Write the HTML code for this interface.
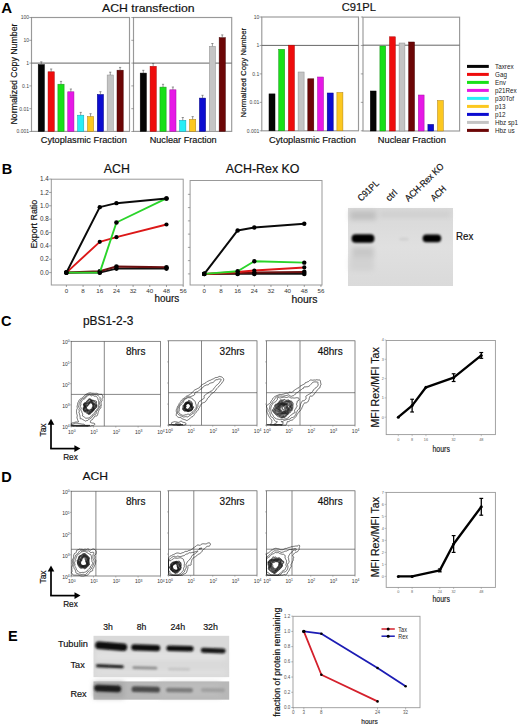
<!DOCTYPE html>
<html><head><meta charset="utf-8"><title>Figure</title>
<style>html,body{margin:0;padding:0;background:#fff;} svg{display:block;} text{font-family:"Liberation Sans", sans-serif;}</style>
</head><body>
<svg width="520" height="726" viewBox="0 0 520 726">
<rect x="0" y="0" width="520" height="726" fill="#fff"/>
<text x="1.2" y="12.6" font-size="15" fill="#000" font-weight="bold" >A</text>
<text x="102" y="11.5" font-size="11.3" fill="#111" stroke="#111" stroke-width="0.18" textLength="92.5" lengthAdjust="spacingAndGlyphs" >ACH transfection</text>
<text x="341.8" y="11.3" font-size="11.3" fill="#111" stroke="#111" stroke-width="0.18" textLength="34.2" lengthAdjust="spacingAndGlyphs" >C91PL</text>
<rect x="31.5" y="17.5" width="98" height="113.9" fill="none" stroke="#999999" stroke-width="1.15" />
<line x1="31.5" y1="63.1" x2="129.5" y2="63.1" stroke="#666" stroke-width="1" />
<line x1="29.3" y1="17.5" x2="31.5" y2="17.5" stroke="#666" stroke-width="0.6" />
<line x1="29.3" y1="40.3" x2="31.5" y2="40.3" stroke="#666" stroke-width="0.6" />
<line x1="29.3" y1="63.1" x2="31.5" y2="63.1" stroke="#666" stroke-width="0.6" />
<line x1="29.3" y1="85.9" x2="31.5" y2="85.9" stroke="#666" stroke-width="0.6" />
<line x1="29.3" y1="108.7" x2="31.5" y2="108.7" stroke="#666" stroke-width="0.6" />
<line x1="29.3" y1="131.5" x2="31.5" y2="131.5" stroke="#666" stroke-width="0.6" />
<rect x="38.2" y="64.6" width="6.2" height="66.8" fill="#050505" stroke="#000" stroke-width="0.5" />
<line x1="41.3" y1="64.6" x2="41.3" y2="61.8" stroke="#555" stroke-width="0.6" />
<line x1="40.2" y1="61.8" x2="42.4" y2="61.8" stroke="#555" stroke-width="0.6" />
<rect x="48.05" y="71.8" width="6.2" height="59.6" fill="#ee0c0c" stroke="#a00" stroke-width="0.5" />
<line x1="51.15" y1="71.8" x2="51.15" y2="69" stroke="#555" stroke-width="0.6" />
<line x1="50.05" y1="69" x2="52.25" y2="69" stroke="#555" stroke-width="0.6" />
<rect x="57.9" y="84.2" width="6.2" height="47.2" fill="#18e018" stroke="#189018" stroke-width="0.5" />
<line x1="61" y1="84.2" x2="61" y2="81.4" stroke="#555" stroke-width="0.6" />
<line x1="59.9" y1="81.4" x2="62.1" y2="81.4" stroke="#555" stroke-width="0.6" />
<rect x="67.75" y="91.8" width="6.2" height="39.6" fill="#e618e6" stroke="#a010a0" stroke-width="0.5" />
<line x1="70.85" y1="91.8" x2="70.85" y2="89" stroke="#555" stroke-width="0.6" />
<line x1="69.75" y1="89" x2="71.95" y2="89" stroke="#555" stroke-width="0.6" />
<rect x="77.6" y="115.2" width="6.2" height="16.2" fill="#28eef6" stroke="#10a0b0" stroke-width="0.5" />
<line x1="80.7" y1="115.2" x2="80.7" y2="112.4" stroke="#555" stroke-width="0.6" />
<line x1="79.6" y1="112.4" x2="81.8" y2="112.4" stroke="#555" stroke-width="0.6" />
<rect x="87.45" y="116.5" width="6.2" height="14.9" fill="#fcc820" stroke="#b08010" stroke-width="0.5" />
<line x1="90.55" y1="116.5" x2="90.55" y2="113.7" stroke="#555" stroke-width="0.6" />
<line x1="89.45" y1="113.7" x2="91.65" y2="113.7" stroke="#555" stroke-width="0.6" />
<rect x="97.3" y="94.5" width="6.2" height="36.9" fill="#0c0cd0" stroke="#000080" stroke-width="0.5" />
<line x1="100.4" y1="94.5" x2="100.4" y2="91.7" stroke="#555" stroke-width="0.6" />
<line x1="99.3" y1="91.7" x2="101.5" y2="91.7" stroke="#555" stroke-width="0.6" />
<rect x="107.15" y="75" width="6.2" height="56.4" fill="#c4c4c4" stroke="#909090" stroke-width="0.5" />
<line x1="110.25" y1="75" x2="110.25" y2="72.2" stroke="#555" stroke-width="0.6" />
<line x1="109.15" y1="72.2" x2="111.35" y2="72.2" stroke="#555" stroke-width="0.6" />
<rect x="117" y="70.2" width="6.2" height="61.2" fill="#6c0606" stroke="#400" stroke-width="0.5" />
<line x1="120.1" y1="70.2" x2="120.1" y2="67.4" stroke="#555" stroke-width="0.6" />
<line x1="119" y1="67.4" x2="121.2" y2="67.4" stroke="#555" stroke-width="0.6" />
<rect x="133.5" y="17.5" width="98.2" height="113.9" fill="none" stroke="#999999" stroke-width="1.15" />
<line x1="133.5" y1="63.1" x2="231.7" y2="63.1" stroke="#666" stroke-width="1" />
<line x1="131.3" y1="17.5" x2="133.5" y2="17.5" stroke="#666" stroke-width="0.6" />
<line x1="131.3" y1="40.3" x2="133.5" y2="40.3" stroke="#666" stroke-width="0.6" />
<line x1="131.3" y1="63.1" x2="133.5" y2="63.1" stroke="#666" stroke-width="0.6" />
<line x1="131.3" y1="85.9" x2="133.5" y2="85.9" stroke="#666" stroke-width="0.6" />
<line x1="131.3" y1="108.7" x2="133.5" y2="108.7" stroke="#666" stroke-width="0.6" />
<line x1="131.3" y1="131.5" x2="133.5" y2="131.5" stroke="#666" stroke-width="0.6" />
<rect x="140.2" y="73.1" width="6.2" height="58.3" fill="#050505" stroke="#000" stroke-width="0.5" />
<line x1="143.3" y1="73.1" x2="143.3" y2="70.3" stroke="#555" stroke-width="0.6" />
<line x1="142.2" y1="70.3" x2="144.4" y2="70.3" stroke="#555" stroke-width="0.6" />
<rect x="150.07" y="66.3" width="6.2" height="65.1" fill="#ee0c0c" stroke="#a00" stroke-width="0.5" />
<line x1="153.17" y1="66.3" x2="153.17" y2="63.5" stroke="#555" stroke-width="0.6" />
<line x1="152.07" y1="63.5" x2="154.27" y2="63.5" stroke="#555" stroke-width="0.6" />
<rect x="159.94" y="87.1" width="6.2" height="44.3" fill="#18e018" stroke="#189018" stroke-width="0.5" />
<line x1="163.04" y1="87.1" x2="163.04" y2="84.3" stroke="#555" stroke-width="0.6" />
<line x1="161.94" y1="84.3" x2="164.14" y2="84.3" stroke="#555" stroke-width="0.6" />
<rect x="169.81" y="89.8" width="6.2" height="41.6" fill="#e618e6" stroke="#a010a0" stroke-width="0.5" />
<line x1="172.91" y1="89.8" x2="172.91" y2="87" stroke="#555" stroke-width="0.6" />
<line x1="171.81" y1="87" x2="174.01" y2="87" stroke="#555" stroke-width="0.6" />
<rect x="179.68" y="120.3" width="6.2" height="11.1" fill="#28eef6" stroke="#10a0b0" stroke-width="0.5" />
<line x1="182.78" y1="120.3" x2="182.78" y2="117.5" stroke="#555" stroke-width="0.6" />
<line x1="181.68" y1="117.5" x2="183.88" y2="117.5" stroke="#555" stroke-width="0.6" />
<rect x="189.55" y="119.4" width="6.2" height="12" fill="#fcc820" stroke="#b08010" stroke-width="0.5" />
<line x1="192.65" y1="119.4" x2="192.65" y2="116.6" stroke="#555" stroke-width="0.6" />
<line x1="191.55" y1="116.6" x2="193.75" y2="116.6" stroke="#555" stroke-width="0.6" />
<rect x="199.42" y="98.1" width="6.2" height="33.3" fill="#0c0cd0" stroke="#000080" stroke-width="0.5" />
<line x1="202.52" y1="98.1" x2="202.52" y2="95.3" stroke="#555" stroke-width="0.6" />
<line x1="201.42" y1="95.3" x2="203.62" y2="95.3" stroke="#555" stroke-width="0.6" />
<rect x="209.29" y="46.3" width="6.2" height="85.1" fill="#c4c4c4" stroke="#909090" stroke-width="0.5" />
<line x1="212.39" y1="46.3" x2="212.39" y2="43.5" stroke="#555" stroke-width="0.6" />
<line x1="211.29" y1="43.5" x2="213.49" y2="43.5" stroke="#555" stroke-width="0.6" />
<rect x="219.16" y="37.7" width="6.2" height="93.7" fill="#6c0606" stroke="#400" stroke-width="0.5" />
<line x1="222.26" y1="37.7" x2="222.26" y2="34.9" stroke="#555" stroke-width="0.6" />
<line x1="221.16" y1="34.9" x2="223.36" y2="34.9" stroke="#555" stroke-width="0.6" />
<text x="29" y="19.3" font-size="5" fill="#444" text-anchor="end" >100</text>
<text x="29" y="42.1" font-size="5" fill="#444" text-anchor="end" >10</text>
<text x="29" y="64.9" font-size="5" fill="#444" text-anchor="end" >1</text>
<text x="29" y="87.7" font-size="5" fill="#444" text-anchor="end" >0.1</text>
<text x="29" y="110.5" font-size="5" fill="#444" text-anchor="end" >0.01</text>
<text x="29" y="133.3" font-size="5" fill="#444" text-anchor="end" >0.001</text>
<rect x="261.8" y="17" width="96.7" height="113.8" fill="none" stroke="#999999" stroke-width="1.15" />
<line x1="261.8" y1="45.4" x2="358.5" y2="45.4" stroke="#666" stroke-width="1" />
<line x1="259.6" y1="17" x2="261.8" y2="17" stroke="#666" stroke-width="0.6" />
<line x1="259.6" y1="45.45" x2="261.8" y2="45.45" stroke="#666" stroke-width="0.6" />
<line x1="259.6" y1="73.9" x2="261.8" y2="73.9" stroke="#666" stroke-width="0.6" />
<line x1="259.6" y1="102.35" x2="261.8" y2="102.35" stroke="#666" stroke-width="0.6" />
<line x1="259.6" y1="130.8" x2="261.8" y2="130.8" stroke="#666" stroke-width="0.6" />
<rect x="269" y="93.9" width="6" height="36.9" fill="#050505" stroke="#000" stroke-width="0.5" />
<rect x="278.7" y="49.3" width="6" height="81.5" fill="#18e018" stroke="#189018" stroke-width="0.5" />
<rect x="288.4" y="45.2" width="6" height="85.6" fill="#ee0c0c" stroke="#a00" stroke-width="0.5" />
<rect x="298.1" y="72" width="6" height="58.8" fill="#c4c4c4" stroke="#909090" stroke-width="0.5" />
<rect x="307.8" y="78.8" width="6" height="52" fill="#6c0606" stroke="#400" stroke-width="0.5" />
<rect x="317.5" y="77" width="6" height="53.8" fill="#e618e6" stroke="#a010a0" stroke-width="0.5" />
<rect x="327.2" y="93" width="6" height="37.8" fill="#0c0cd0" stroke="#000080" stroke-width="0.5" />
<rect x="336.9" y="92.5" width="6" height="38.3" fill="#fcc820" stroke="#b08010" stroke-width="0.5" />
<rect x="363" y="17.2" width="96.6" height="113.8" fill="none" stroke="#999999" stroke-width="1.15" />
<line x1="363" y1="45.2" x2="459.6" y2="45.2" stroke="#666" stroke-width="1" />
<line x1="360.8" y1="17" x2="363" y2="17" stroke="#666" stroke-width="0.6" />
<line x1="360.8" y1="45.45" x2="363" y2="45.45" stroke="#666" stroke-width="0.6" />
<line x1="360.8" y1="73.9" x2="363" y2="73.9" stroke="#666" stroke-width="0.6" />
<line x1="360.8" y1="102.35" x2="363" y2="102.35" stroke="#666" stroke-width="0.6" />
<line x1="360.8" y1="130.8" x2="363" y2="130.8" stroke="#666" stroke-width="0.6" />
<rect x="370.3" y="91" width="5.8" height="40" fill="#050505" stroke="#000" stroke-width="0.5" />
<rect x="379.9" y="46" width="5.8" height="85" fill="#18e018" stroke="#189018" stroke-width="0.5" />
<rect x="389.5" y="36.8" width="5.8" height="94.2" fill="#ee0c0c" stroke="#a00" stroke-width="0.5" />
<rect x="399.1" y="43" width="5.8" height="88" fill="#c4c4c4" stroke="#909090" stroke-width="0.5" />
<rect x="408.7" y="42" width="5.8" height="89" fill="#6c0606" stroke="#400" stroke-width="0.5" />
<rect x="418.3" y="95" width="5.8" height="36" fill="#e618e6" stroke="#a010a0" stroke-width="0.5" />
<rect x="427.9" y="124.4" width="5.8" height="6.6" fill="#0c0cd0" stroke="#000080" stroke-width="0.5" />
<rect x="437.5" y="100.5" width="5.8" height="30.5" fill="#fcc820" stroke="#b08010" stroke-width="0.5" />
<text x="259.3" y="18.8" font-size="5" fill="#444" text-anchor="end" >10</text>
<text x="259.3" y="47.25" font-size="5" fill="#444" text-anchor="end" >1</text>
<text x="259.3" y="75.7" font-size="5" fill="#444" text-anchor="end" >0.1</text>
<text x="259.3" y="104.15" font-size="5" fill="#444" text-anchor="end" >0.01</text>
<text x="259.3" y="132.6" font-size="5" fill="#444" text-anchor="end" >0.001</text>
<text x="40.8" y="143.3" font-size="9.3" fill="#111" stroke="#111" stroke-width="0.18" textLength="86" lengthAdjust="spacingAndGlyphs" >Cytoplasmic Fraction</text>
<text x="149.7" y="143.3" font-size="9.3" fill="#111" stroke="#111" stroke-width="0.18" textLength="67" lengthAdjust="spacingAndGlyphs" >Nuclear Fraction</text>
<text x="269" y="143.3" font-size="9.3" fill="#111" stroke="#111" stroke-width="0.18" textLength="86.8" lengthAdjust="spacingAndGlyphs" >Cytoplasmic Fraction</text>
<text x="377.8" y="143.3" font-size="9.3" fill="#111" stroke="#111" stroke-width="0.18" textLength="68" lengthAdjust="spacingAndGlyphs" >Nuclear Fraction</text>
<text transform="translate(17.1,74) rotate(-90)" font-size="9.1" fill="#111" stroke="#111" stroke-width="0.18" text-anchor="middle" textLength="101" lengthAdjust="spacingAndGlyphs" >Normalized Copy Number</text>
<text transform="translate(246.4,72.7) rotate(-90)" font-size="7.6" fill="#111" stroke="#111" stroke-width="0.18" text-anchor="middle" textLength="89.6" lengthAdjust="spacingAndGlyphs" >Normalized Copy Number</text>
<rect x="467" y="64.9" width="21.8" height="3" fill="#050505" />
<text x="495" y="68.6" font-size="6.3" fill="#222" >Taxrex</text>
<rect x="467" y="72.9" width="21.8" height="3" fill="#ee0c0c" />
<text x="495" y="76.6" font-size="6.3" fill="#222" >Gag</text>
<rect x="467" y="80.9" width="21.8" height="3" fill="#18e018" />
<text x="495" y="84.6" font-size="6.3" fill="#222" >Env</text>
<rect x="467" y="88.9" width="21.8" height="3" fill="#e618e6" />
<text x="495" y="92.6" font-size="6.3" fill="#222" >p21Rex</text>
<rect x="467" y="96.9" width="21.8" height="3" fill="#28eef6" />
<text x="495" y="100.6" font-size="6.3" fill="#222" >p30Tof</text>
<rect x="467" y="104.9" width="21.8" height="3" fill="#fcc820" />
<text x="495" y="108.6" font-size="6.3" fill="#222" >p13</text>
<rect x="467" y="112.9" width="21.8" height="3" fill="#0c0cd0" />
<text x="495" y="116.6" font-size="6.3" fill="#222" >p12</text>
<rect x="467" y="120.9" width="21.8" height="3" fill="#c4c4c4" />
<text x="495" y="124.6" font-size="6.3" fill="#222" >Hbz sp1</text>
<rect x="467" y="128.9" width="21.8" height="3" fill="#6c0606" />
<text x="495" y="132.6" font-size="6.3" fill="#222" >Hbz us</text>
<text x="1.8" y="173.8" font-size="14.5" fill="#000" font-weight="bold" >B</text>
<text x="103.8" y="172.6" font-size="12" fill="#111" stroke="#111" stroke-width="0.18" textLength="26" lengthAdjust="spacingAndGlyphs" >ACH</text>
<text x="225.8" y="172.6" font-size="12" fill="#111" stroke="#111" stroke-width="0.18" textLength="73.7" lengthAdjust="spacingAndGlyphs" >ACH-Rex KO</text>
<rect x="51.3" y="179.2" width="131.9" height="105.8" fill="none" stroke="#999999" stroke-width="1" />
<line x1="49.1" y1="179.08" x2="51.3" y2="179.08" stroke="#666" stroke-width="0.6" />
<text x="48.7" y="181.28" font-size="6.3" fill="#333" text-anchor="end" >1.4</text>
<line x1="49.1" y1="192.44" x2="51.3" y2="192.44" stroke="#666" stroke-width="0.6" />
<text x="48.7" y="194.64" font-size="6.3" fill="#333" text-anchor="end" >1.2</text>
<line x1="49.1" y1="205.8" x2="51.3" y2="205.8" stroke="#666" stroke-width="0.6" />
<text x="48.7" y="208" font-size="6.3" fill="#333" text-anchor="end" >1.0</text>
<line x1="49.1" y1="219.16" x2="51.3" y2="219.16" stroke="#666" stroke-width="0.6" />
<text x="48.7" y="221.36" font-size="6.3" fill="#333" text-anchor="end" >0.8</text>
<line x1="49.1" y1="232.52" x2="51.3" y2="232.52" stroke="#666" stroke-width="0.6" />
<text x="48.7" y="234.72" font-size="6.3" fill="#333" text-anchor="end" >0.6</text>
<line x1="49.1" y1="245.88" x2="51.3" y2="245.88" stroke="#666" stroke-width="0.6" />
<text x="48.7" y="248.08" font-size="6.3" fill="#333" text-anchor="end" >0.4</text>
<line x1="49.1" y1="259.24" x2="51.3" y2="259.24" stroke="#666" stroke-width="0.6" />
<text x="48.7" y="261.44" font-size="6.3" fill="#333" text-anchor="end" >0.2</text>
<line x1="49.1" y1="272.6" x2="51.3" y2="272.6" stroke="#666" stroke-width="0.6" />
<text x="48.7" y="274.8" font-size="6.3" fill="#333" text-anchor="end" >0.0</text>
<line x1="66.4" y1="285" x2="66.4" y2="287" stroke="#666" stroke-width="0.6" />
<text x="66.4" y="293.2" font-size="6.2" fill="#333" text-anchor="middle" >0</text>
<line x1="83.08" y1="285" x2="83.08" y2="287" stroke="#666" stroke-width="0.6" />
<text x="83.08" y="293.2" font-size="6.2" fill="#333" text-anchor="middle" >8</text>
<line x1="99.76" y1="285" x2="99.76" y2="287" stroke="#666" stroke-width="0.6" />
<text x="99.76" y="293.2" font-size="6.2" fill="#333" text-anchor="middle" >16</text>
<line x1="116.44" y1="285" x2="116.44" y2="287" stroke="#666" stroke-width="0.6" />
<text x="116.44" y="293.2" font-size="6.2" fill="#333" text-anchor="middle" >24</text>
<line x1="133.12" y1="285" x2="133.12" y2="287" stroke="#666" stroke-width="0.6" />
<text x="133.12" y="293.2" font-size="6.2" fill="#333" text-anchor="middle" >32</text>
<line x1="149.8" y1="285" x2="149.8" y2="287" stroke="#666" stroke-width="0.6" />
<text x="149.8" y="293.2" font-size="6.2" fill="#333" text-anchor="middle" >40</text>
<line x1="166.48" y1="285" x2="166.48" y2="287" stroke="#666" stroke-width="0.6" />
<text x="166.48" y="293.2" font-size="6.2" fill="#333" text-anchor="middle" >48</text>
<line x1="183.16" y1="285" x2="183.16" y2="287" stroke="#666" stroke-width="0.6" />
<text x="183.16" y="293.2" font-size="6.2" fill="#333" text-anchor="middle" >56</text>
<polyline points="66.4,272.6 99.76,272.6 116.44,268.59 166.48,268.59" fill="none" stroke="#111" stroke-width="1.7" stroke-linejoin="round" />
<circle cx="66.4" cy="272.6" r="2.3" fill="#000"/>
<circle cx="99.76" cy="272.6" r="2.3" fill="#000"/>
<circle cx="116.44" cy="268.59" r="2.3" fill="#000"/>
<circle cx="166.48" cy="268.59" r="2.3" fill="#000"/>
<polyline points="66.4,272.6 99.76,271.26 116.44,266.59 166.48,267.26" fill="none" stroke="#6a1010" stroke-width="2.1" stroke-linejoin="round" />
<circle cx="66.4" cy="272.6" r="2.3" fill="#000"/>
<circle cx="99.76" cy="271.26" r="2.3" fill="#000"/>
<circle cx="116.44" cy="266.59" r="2.3" fill="#000"/>
<circle cx="166.48" cy="267.26" r="2.3" fill="#000"/>
<polyline points="66.4,272.6 99.76,241.87 116.44,237.2 166.48,224.5" fill="none" stroke="#dc1818" stroke-width="1.9" stroke-linejoin="round" />
<circle cx="66.4" cy="272.6" r="2.1" fill="#000"/>
<circle cx="99.76" cy="241.87" r="2.1" fill="#000"/>
<circle cx="116.44" cy="237.2" r="2.1" fill="#000"/>
<circle cx="166.48" cy="224.5" r="2.1" fill="#000"/>
<polyline points="66.4,272.6 99.76,272.6 116.44,222.5 166.48,198.45" fill="none" stroke="#2ad42a" stroke-width="1.9" stroke-linejoin="round" />
<circle cx="66.4" cy="272.6" r="2.3" fill="#000"/>
<circle cx="99.76" cy="272.6" r="2.3" fill="#000"/>
<circle cx="116.44" cy="222.5" r="2.3" fill="#000"/>
<circle cx="166.48" cy="198.45" r="2.3" fill="#000"/>
<polyline points="66.4,272.6 99.76,207.14 116.44,203.13 166.48,198.45" fill="none" stroke="#0a0a0a" stroke-width="2" stroke-linejoin="round" />
<circle cx="66.4" cy="272.6" r="2.2" fill="#000"/>
<circle cx="99.76" cy="207.14" r="2.2" fill="#000"/>
<circle cx="116.44" cy="203.13" r="2.2" fill="#000"/>
<circle cx="166.48" cy="198.45" r="2.2" fill="#000"/>
<text x="154.4" y="302.4" font-size="10" fill="#111" stroke="#111" stroke-width="0.18" textLength="24.8" lengthAdjust="spacingAndGlyphs" >hours</text>
<text transform="translate(36.8,224.2) rotate(-90)" font-size="9.8" fill="#111" stroke="#111" stroke-width="0.18" text-anchor="middle" textLength="48.7" lengthAdjust="spacingAndGlyphs" >Export Ratio</text>
<rect x="190.1" y="180.5" width="131.9" height="104.5" fill="none" stroke="#999999" stroke-width="1" />
<line x1="187.9" y1="194.34" x2="190.1" y2="194.34" stroke="#666" stroke-width="0.6" />
<line x1="187.9" y1="207.6" x2="190.1" y2="207.6" stroke="#666" stroke-width="0.6" />
<line x1="187.9" y1="220.86" x2="190.1" y2="220.86" stroke="#666" stroke-width="0.6" />
<line x1="187.9" y1="234.12" x2="190.1" y2="234.12" stroke="#666" stroke-width="0.6" />
<line x1="187.9" y1="247.38" x2="190.1" y2="247.38" stroke="#666" stroke-width="0.6" />
<line x1="187.9" y1="260.64" x2="190.1" y2="260.64" stroke="#666" stroke-width="0.6" />
<line x1="187.9" y1="273.9" x2="190.1" y2="273.9" stroke="#666" stroke-width="0.6" />
<line x1="204.3" y1="285" x2="204.3" y2="287" stroke="#666" stroke-width="0.6" />
<text x="204.3" y="293.2" font-size="6.2" fill="#333" text-anchor="middle" >0</text>
<line x1="220.96" y1="285" x2="220.96" y2="287" stroke="#666" stroke-width="0.6" />
<text x="220.96" y="293.2" font-size="6.2" fill="#333" text-anchor="middle" >8</text>
<line x1="237.63" y1="285" x2="237.63" y2="287" stroke="#666" stroke-width="0.6" />
<text x="237.63" y="293.2" font-size="6.2" fill="#333" text-anchor="middle" >16</text>
<line x1="254.29" y1="285" x2="254.29" y2="287" stroke="#666" stroke-width="0.6" />
<text x="254.29" y="293.2" font-size="6.2" fill="#333" text-anchor="middle" >24</text>
<line x1="270.96" y1="285" x2="270.96" y2="287" stroke="#666" stroke-width="0.6" />
<text x="270.96" y="293.2" font-size="6.2" fill="#333" text-anchor="middle" >32</text>
<line x1="287.62" y1="285" x2="287.62" y2="287" stroke="#666" stroke-width="0.6" />
<text x="287.62" y="293.2" font-size="6.2" fill="#333" text-anchor="middle" >40</text>
<line x1="304.28" y1="285" x2="304.28" y2="287" stroke="#666" stroke-width="0.6" />
<text x="304.28" y="293.2" font-size="6.2" fill="#333" text-anchor="middle" >48</text>
<line x1="320.95" y1="285" x2="320.95" y2="287" stroke="#666" stroke-width="0.6" />
<text x="320.95" y="293.2" font-size="6.2" fill="#333" text-anchor="middle" >56</text>
<polyline points="204.3,273.9 237.63,273.9 254.29,273.9 304.28,273.9" fill="none" stroke="#111" stroke-width="1.7" stroke-linejoin="round" />
<circle cx="204.3" cy="273.9" r="2.3" fill="#000"/>
<circle cx="237.63" cy="273.9" r="2.3" fill="#000"/>
<circle cx="254.29" cy="273.9" r="2.3" fill="#000"/>
<circle cx="304.28" cy="273.9" r="2.3" fill="#000"/>
<polyline points="204.3,273.9 237.63,273.24 254.29,272.57 304.28,271.91" fill="none" stroke="#6a1010" stroke-width="2" stroke-linejoin="round" />
<circle cx="204.3" cy="273.9" r="2.3" fill="#000"/>
<circle cx="237.63" cy="273.24" r="2.3" fill="#000"/>
<circle cx="254.29" cy="272.57" r="2.3" fill="#000"/>
<circle cx="304.28" cy="271.91" r="2.3" fill="#000"/>
<polyline points="204.3,273.9 237.63,271.91 254.29,270.58 304.28,267.47" fill="none" stroke="#dc1818" stroke-width="2" stroke-linejoin="round" />
<circle cx="204.3" cy="273.9" r="2.1" fill="#000"/>
<circle cx="237.63" cy="271.91" r="2.1" fill="#000"/>
<circle cx="254.29" cy="270.58" r="2.1" fill="#000"/>
<circle cx="304.28" cy="267.47" r="2.1" fill="#000"/>
<polyline points="204.3,273.9 237.63,271.25 254.29,261.3 304.28,262.63" fill="none" stroke="#2ad42a" stroke-width="1.9" stroke-linejoin="round" />
<circle cx="204.3" cy="273.9" r="2.2" fill="#000"/>
<circle cx="237.63" cy="271.25" r="2.2" fill="#000"/>
<circle cx="254.29" cy="261.3" r="2.2" fill="#000"/>
<circle cx="304.28" cy="262.63" r="2.2" fill="#000"/>
<polyline points="204.3,273.9 237.63,230.47 254.29,227.49 304.28,223.78" fill="none" stroke="#0a0a0a" stroke-width="2" stroke-linejoin="round" />
<circle cx="204.3" cy="273.9" r="2.2" fill="#000"/>
<circle cx="237.63" cy="230.47" r="2.2" fill="#000"/>
<circle cx="254.29" cy="227.49" r="2.2" fill="#000"/>
<circle cx="304.28" cy="223.78" r="2.2" fill="#000"/>
<text x="291.5" y="302.8" font-size="10" fill="#111" stroke="#111" stroke-width="0.18" textLength="26" lengthAdjust="spacingAndGlyphs" >hours</text>
<defs><filter id="bl1" x="-50%" y="-50%" width="200%" height="200%"><feGaussianBlur stdDeviation="1.6"/></filter><filter id="bl2" x="-50%" y="-50%" width="200%" height="200%"><feGaussianBlur stdDeviation="0.9"/></filter><filter id="bl3" x="-50%" y="-50%" width="200%" height="200%"><feGaussianBlur stdDeviation="2.5"/></filter></defs>
<defs><linearGradient id="gbl" x1="0" y1="0" x2="0" y2="1"><stop offset="0" stop-color="#d8d8d8"/><stop offset="0.5" stop-color="#e0e0e0"/><stop offset="1" stop-color="#dadada"/></linearGradient></defs>
<rect x="348" y="208" width="105" height="78" fill="url(#gbl)" />
<g filter="url(#bl3)">
<rect x="350" y="211" width="26" height="9" fill="#c0c0c0" />
<rect x="380" y="212" width="70" height="5" fill="#cecece" />
<rect x="352" y="247" width="22" height="10" fill="#c8c8c8" />
<rect x="350" y="257" width="24" height="14" fill="#d2d2d2" />
</g>
<g filter="url(#bl2)">
<rect x="351.6" y="234.2" width="22.8" height="8.6" rx="4" fill="#040404"/>
<rect x="422.6" y="234.5" width="18.6" height="7.8" rx="3.8" fill="#060606"/>
<ellipse cx="404" cy="239" rx="5" ry="1.5" fill="#d0d0d0"/>
</g>
<text transform="translate(361.2,201.8) rotate(-44)" font-size="9.4" fill="#111" stroke="#111" stroke-width="0.18" textLength="25.5" lengthAdjust="spacingAndGlyphs" >C91PL</text>
<text transform="translate(389.2,201.8) rotate(-44)" font-size="9.4" fill="#111" stroke="#111" stroke-width="0.18" textLength="12" lengthAdjust="spacingAndGlyphs" >ctrl</text>
<text transform="translate(408.6,202) rotate(-44)" font-size="9.4" fill="#111" stroke="#111" stroke-width="0.18" textLength="50" lengthAdjust="spacingAndGlyphs" >ACH-Rex KO</text>
<text transform="translate(434.2,201.8) rotate(-44)" font-size="9.4" fill="#111" stroke="#111" stroke-width="0.18" textLength="17.5" lengthAdjust="spacingAndGlyphs" >ACH</text>
<text x="456" y="240" font-size="10" fill="#111" stroke="#111" stroke-width="0.18" textLength="17.3" lengthAdjust="spacingAndGlyphs" >Rex</text>
<text x="1" y="326.3" font-size="14.5" fill="#000" font-weight="bold" >C</text>
<text x="83" y="325.4" font-size="12" fill="#111" stroke="#111" stroke-width="0.18" textLength="50.3" lengthAdjust="spacingAndGlyphs" >pBS1-2-3</text>
<rect x="71.2" y="341.3" width="89.2" height="84.8" fill="none" stroke="#555" stroke-width="0.7" />
<line x1="104.3" y1="341.3" x2="104.3" y2="426.1" stroke="#555" stroke-width="0.7" />
<line x1="71.2" y1="394.4" x2="160.4" y2="394.4" stroke="#555" stroke-width="0.7" />
<line x1="69.7" y1="426.1" x2="71.2" y2="426.1" stroke="#777" stroke-width="0.5" />
<line x1="71.2" y1="426.1" x2="71.2" y2="427.6" stroke="#777" stroke-width="0.5" />
<text x="71.8" y="433.5" font-size="5" fill="#333" text-anchor="middle" >10<tspan font-size="3.4" dy="-1.9">0</tspan></text>
<text x="69.6" y="429.1" font-size="5" fill="#333" text-anchor="end" >10<tspan font-size="3.4" dy="-1.9">4</tspan></text>
<line x1="69.7" y1="404.9" x2="71.2" y2="404.9" stroke="#777" stroke-width="0.5" />
<line x1="93.5" y1="426.1" x2="93.5" y2="427.6" stroke="#777" stroke-width="0.5" />
<text x="94.1" y="433.5" font-size="5" fill="#333" text-anchor="middle" >10<tspan font-size="3.4" dy="-1.9">1</tspan></text>
<text x="69.6" y="407.9" font-size="5" fill="#333" text-anchor="end" >10<tspan font-size="3.4" dy="-1.9">3</tspan></text>
<line x1="69.7" y1="383.7" x2="71.2" y2="383.7" stroke="#777" stroke-width="0.5" />
<line x1="115.8" y1="426.1" x2="115.8" y2="427.6" stroke="#777" stroke-width="0.5" />
<text x="116.4" y="433.5" font-size="5" fill="#333" text-anchor="middle" >10<tspan font-size="3.4" dy="-1.9">2</tspan></text>
<text x="69.6" y="386.7" font-size="5" fill="#333" text-anchor="end" >10<tspan font-size="3.4" dy="-1.9">2</tspan></text>
<line x1="69.7" y1="362.5" x2="71.2" y2="362.5" stroke="#777" stroke-width="0.5" />
<line x1="138.1" y1="426.1" x2="138.1" y2="427.6" stroke="#777" stroke-width="0.5" />
<text x="138.7" y="433.5" font-size="5" fill="#333" text-anchor="middle" >10<tspan font-size="3.4" dy="-1.9">3</tspan></text>
<text x="69.6" y="365.5" font-size="5" fill="#333" text-anchor="end" >10<tspan font-size="3.4" dy="-1.9">1</tspan></text>
<line x1="69.7" y1="341.3" x2="71.2" y2="341.3" stroke="#777" stroke-width="0.5" />
<line x1="160.4" y1="426.1" x2="160.4" y2="427.6" stroke="#777" stroke-width="0.5" />
<text x="161" y="433.5" font-size="5" fill="#333" text-anchor="middle" >10<tspan font-size="3.4" dy="-1.9">4</tspan></text>
<text x="69.6" y="344.3" font-size="5" fill="#333" text-anchor="end" >10<tspan font-size="3.4" dy="-1.9">0</tspan></text>
<text x="126" y="354.8" font-size="10" fill="#111" stroke="#111" stroke-width="0.18" >8hrs</text>
<g fill="none" stroke="#111" stroke-linejoin="round"><path d="M90.20,426.10 L89.70,426.10 L89.20,426.10 L88.70,426.10 L88.20,426.10 L87.70,426.10 L87.20,426.10 L86.70,426.10 L86.20,426.10 L85.70,426.10 L85.20,426.10 L84.70,426.10 L84.20,426.10 L83.70,426.10 L83.20,426.10 L82.70,426.10 L82.20,426.10 L81.70,426.10 L81.20,426.10 L80.70,426.10 L80.20,426.10 L79.70,426.10 L79.20,426.10 L78.70,426.10 L78.20,426.10 L77.70,426.10 L77.20,426.10 L76.70,426.10 L76.20,426.10 L75.70,426.10 L75.20,426.10 L74.70,426.10 L74.20,426.10 L73.70,426.10 L73.20,426.10 L72.70,426.10 L72.20,426.10 L71.70,426.10 L71.20,426.10 L71.20,425.55 L71.20,425.05 L71.20,424.55 L71.20,424.05 L71.20,423.55 L71.57,423.30 L71.95,423.13 L72.45,422.86 L72.95,422.75 L73.45,422.73 L73.95,422.62 L74.45,422.41 L74.95,422.21 L75.45,422.09 L75.90,422.05 L76.45,421.99 L76.95,421.95 L77.45,422.02 L77.95,422.13 L78.41,422.05 L78.49,421.55 L78.25,421.05 L77.96,420.55 L77.72,420.05 L77.56,419.55 L77.45,419.14 L77.34,418.80 L77.20,418.37 L77.04,417.80 L76.98,417.30 L77.05,416.80 L77.20,416.35 L77.29,415.80 L77.21,415.30 L77.06,414.80 L76.95,414.36 L76.75,413.80 L76.60,413.30 L76.57,412.80 L76.57,412.30 L76.54,411.80 L76.48,411.30 L76.52,410.80 L76.62,410.30 L76.69,409.80 L76.84,409.30 L77.13,408.80 L77.33,408.30 L77.31,407.80 L77.20,407.30 L77.12,406.80 L77.12,406.30 L77.20,405.87 L77.39,405.30 L77.52,404.80 L77.57,404.30 L77.61,403.80 L77.70,403.30 L77.86,402.80 L78.12,402.30 L78.41,401.80 L78.67,401.30 L78.88,400.80 L79.10,400.30 L79.43,399.80 L79.70,399.47 L80.20,399.07 L80.70,398.85 L81.20,398.58 L81.52,398.30 L81.77,398.05 L82.07,397.80 L82.40,397.55 L82.70,397.32 L83.03,397.05 L83.32,396.80 L83.60,396.55 L83.85,396.30 L84.20,395.90 L84.45,395.56 L84.70,395.24 L84.95,394.97 L85.45,394.58 L85.95,394.32 L86.45,394.10 L86.95,393.86 L87.45,393.57 L87.95,393.31 L88.45,393.16 L88.95,393.06 L89.45,392.95 L89.95,392.86 L90.45,392.85 L90.95,392.97 L91.45,393.14 L91.95,393.24 L92.45,393.26 L92.95,393.27 L93.45,393.28 L93.95,393.31 L94.45,393.37 L94.95,393.39 L95.45,393.37 L95.95,393.34 L96.45,393.32 L96.95,393.35 L97.45,393.50 L97.95,393.75 L98.45,394.03 L98.95,394.25 L99.45,394.31 L99.95,394.32 L100.45,394.32 L100.95,394.27 L101.45,394.29 L101.95,394.53 L102.18,394.80 L102.42,395.30 L102.57,395.80 L102.70,396.21 L102.82,396.55 L102.94,397.05 L102.88,397.55 L102.70,397.88 L102.45,398.21 L102.20,398.50 L101.99,398.80 L101.95,399.30 L102.08,399.80 L102.14,400.30 L102.01,400.80 L101.70,401.25 L101.48,401.55 L101.22,402.05 L101.09,402.55 L101.06,403.05 L101.07,403.55 L101.14,404.05 L101.24,404.55 L101.31,405.05 L101.26,405.55 L101.10,406.05 L100.95,406.45 L100.89,406.80 L100.91,407.30 L100.89,407.80 L100.70,408.10 L100.20,408.55 L99.95,408.83 L99.70,409.18 L99.45,409.53 L99.20,409.87 L98.95,410.26 L98.73,410.80 L98.55,411.30 L98.34,411.80 L98.20,412.18 L98.09,412.55 L98.01,413.05 L97.95,413.45 L97.86,413.80 L97.70,414.30 L97.58,414.80 L97.45,415.23 L97.27,415.55 L96.97,415.80 L96.45,415.97 L95.95,416.01 L95.45,416.00 L95.00,416.05 L94.60,416.30 L94.34,416.80 L94.20,417.21 L94.03,417.55 L93.79,417.80 L93.45,418.02 L93.15,418.30 L92.95,418.63 L92.82,419.05 L92.50,419.55 L92.20,419.79 L91.70,420.01 L91.20,420.17 L90.72,420.55 L90.56,421.05 L90.45,421.46 L90.36,421.80 L90.31,422.30 L90.62,422.55 L91.20,422.72 L91.70,422.91 L92.15,423.05 L92.70,423.11 L93.20,423.13 L93.70,423.20 L94.11,423.30 L94.45,423.45 L94.85,423.80 L94.91,424.30 L94.70,424.61 L94.20,424.95 L93.70,425.28 L93.20,425.50 L92.77,425.55 L92.20,425.59 L91.70,425.64 L91.20,425.70 L90.70,425.90 L90.32,426.10Z" stroke-width="0.62"/><path d="M85.45,421.11 L84.95,420.97 L84.52,420.55 L84.27,420.30 L83.95,420.09 L83.45,419.88 L82.95,419.66 L82.45,419.31 L82.11,419.05 L81.70,418.82 L81.20,418.80 L80.70,418.83 L80.20,418.67 L80.11,418.30 L80.19,417.80 L80.18,417.30 L80.06,416.80 L79.99,416.30 L79.96,415.80 L79.85,415.30 L79.70,414.91 L79.60,414.55 L79.51,414.05 L79.39,413.55 L79.20,413.11 L78.95,412.59 L78.87,412.05 L79.19,411.55 L79.39,411.05 L79.24,410.55 L78.96,410.05 L78.93,409.55 L79.17,409.05 L79.38,408.55 L79.30,408.05 L78.97,407.55 L78.74,407.05 L78.57,406.55 L78.64,406.05 L78.85,405.55 L79.03,405.05 L79.11,404.55 L79.07,404.05 L79.12,403.55 L79.40,403.05 L79.68,402.55 L79.88,402.05 L80.05,401.55 L80.20,401.13 L80.34,400.80 L80.64,400.30 L80.88,400.05 L81.20,399.82 L81.55,399.55 L81.82,399.30 L82.20,398.88 L82.45,398.64 L82.95,398.31 L83.45,398.12 L83.95,397.99 L84.39,397.80 L84.70,397.56 L84.95,397.24 L85.17,396.80 L85.33,396.30 L85.61,395.80 L85.88,395.55 L86.20,395.35 L86.70,395.12 L87.20,394.92 L87.70,394.70 L88.20,394.45 L88.55,394.30 L88.95,394.13 L89.29,394.05 L89.70,394.00 L90.20,394.08 L90.70,394.20 L91.20,394.27 L91.70,394.22 L92.20,394.14 L92.70,394.11 L93.20,394.18 L93.59,394.30 L93.95,394.43 L94.35,394.55 L94.70,394.61 L95.20,394.64 L95.70,394.62 L96.20,394.63 L96.70,394.71 L97.20,394.87 L97.52,395.05 L97.83,395.30 L98.20,395.70 L98.45,395.97 L98.80,396.30 L99.07,396.55 L99.33,396.80 L99.58,397.05 L99.84,397.30 L100.20,397.80 L100.20,398.15 L100.13,398.55 L100.07,399.05 L100.10,399.55 L100.32,400.05 L100.39,400.55 L100.20,400.91 L100.01,401.30 L99.88,401.80 L99.78,402.30 L99.70,402.67 L99.63,403.05 L99.57,403.55 L99.55,404.05 L99.70,404.50 L99.94,404.80 L100.18,405.30 L100.06,405.80 L99.73,406.30 L99.51,406.80 L99.43,407.30 L99.30,407.80 L99.02,408.30 L98.70,408.71 L98.45,409.00 L98.22,409.30 L97.95,409.76 L97.70,410.23 L97.45,410.52 L96.95,410.80 L96.57,411.05 L96.31,411.55 L96.26,412.05 L96.25,412.55 L96.20,413.05 L96.13,413.55 L95.95,414.02 L95.45,414.30 L94.95,414.48 L94.45,414.74 L93.95,415.05 L93.61,415.30 L93.25,415.55 L92.95,415.76 L92.64,416.05 L92.34,416.55 L92.06,417.05 L91.70,417.50 L91.37,417.80 L91.08,418.05 L90.77,418.30 L90.45,418.51 L89.95,418.79 L89.53,419.05 L89.20,419.26 L88.70,419.53 L88.28,419.80 L88.02,420.05 L87.70,420.37 L87.29,420.55 L86.70,420.62 L86.20,420.76 L85.70,421.04Z" stroke-width="0.62"/><path d="M88.20,426.10 L87.70,426.10 L87.20,426.10 L86.70,426.10 L86.20,426.10 L85.70,426.10 L85.20,426.10 L84.70,426.10 L84.20,426.10 L83.70,426.10 L83.20,426.10 L82.70,426.10 L82.20,426.10 L81.70,426.10 L81.20,426.10 L80.70,426.10 L80.20,426.10 L79.70,426.10 L79.20,426.10 L78.70,426.10 L78.20,426.10 L77.70,426.10 L77.20,426.10 L76.70,426.10 L76.20,426.10 L75.70,425.81 L75.20,425.65 L74.70,425.71 L74.20,425.91 L73.70,426.01 L73.20,425.94 L72.79,425.80 L72.45,425.60 L71.95,425.32 L71.54,425.05 L71.70,424.69 L72.20,424.43 L72.70,424.22 L73.14,424.05 L73.70,423.91 L74.08,423.80 L74.45,423.64 L74.95,423.33 L75.45,423.19 L75.95,423.23 L76.45,423.20 L76.95,423.15 L77.45,423.25 L77.95,423.43 L78.45,423.52 L78.86,423.55 L79.45,423.61 L79.95,423.69 L80.45,423.76 L80.95,423.85 L81.45,423.98 L81.95,424.10 L82.45,424.15 L82.95,424.14 L83.45,424.16 L83.95,424.27 L84.43,424.55 L84.68,424.80 L84.95,425.08 L85.22,425.30 L85.70,425.52 L86.20,425.60 L86.70,425.62 L87.20,425.67 L87.70,425.76 L88.20,426.00Z" stroke-width="0.62"/><path d="M88.45,418.05 L87.95,418.11 L87.45,418.10 L86.95,418.11 L86.45,418.22 L85.95,418.28 L85.49,418.05 L85.20,417.81 L84.91,417.55 L84.61,417.30 L84.29,417.05 L83.95,416.80 L83.49,416.55 L82.95,416.35 L82.58,416.05 L82.51,415.55 L82.61,415.05 L82.68,414.55 L82.63,414.05 L82.47,413.55 L82.21,413.05 L81.97,412.55 L81.85,412.05 L81.74,411.55 L81.49,411.05 L81.20,410.61 L81.01,410.30 L80.80,409.80 L80.82,409.30 L80.95,408.94 L81.12,408.55 L81.22,408.05 L80.98,407.55 L80.70,407.26 L80.45,406.98 L80.24,406.55 L80.32,406.05 L80.59,405.55 L80.82,405.05 L80.90,404.55 L80.85,404.05 L80.75,403.55 L80.75,403.05 L80.95,402.57 L81.20,402.26 L81.45,401.85 L81.62,401.30 L81.84,400.80 L82.20,400.43 L82.56,400.05 L82.87,399.55 L83.14,399.30 L83.70,399.09 L84.20,398.97 L84.66,398.80 L85.06,398.55 L85.33,398.30 L85.69,397.80 L85.95,397.31 L86.20,396.83 L86.45,396.49 L86.95,396.12 L87.45,395.90 L87.95,395.64 L88.44,395.30 L88.85,395.05 L89.20,394.90 L89.70,394.83 L90.20,394.97 L90.67,395.30 L90.95,395.73 L91.45,395.92 L91.95,395.61 L92.45,395.35 L92.95,395.40 L93.29,395.55 L93.70,395.79 L94.10,396.05 L94.45,396.21 L94.95,396.21 L95.45,396.18 L95.95,396.26 L96.45,396.53 L96.70,396.79 L96.95,397.10 L97.20,397.40 L97.45,397.71 L97.66,398.05 L97.82,398.55 L97.92,399.05 L98.09,399.55 L98.32,400.05 L98.45,400.44 L98.54,400.80 L98.59,401.30 L98.61,401.80 L98.63,402.30 L98.64,402.80 L98.62,403.30 L98.50,403.80 L98.37,404.30 L98.36,404.80 L98.45,405.15 L98.60,405.55 L98.65,406.05 L98.57,406.55 L98.45,407.01 L98.29,407.55 L98.10,408.05 L97.82,408.55 L97.51,409.05 L97.20,409.54 L96.95,409.83 L96.61,410.05 L96.20,410.26 L95.82,410.55 L95.48,411.05 L95.37,411.55 L95.31,412.05 L95.06,412.55 L94.71,412.80 L94.27,413.05 L93.95,413.30 L93.70,413.68 L93.53,414.05 L93.20,414.45 L92.70,414.76 L92.22,415.05 L91.95,415.30 L91.70,415.63 L91.45,416.00 L91.21,416.30 L90.95,416.55 L90.61,416.80 L90.24,417.05 L89.95,417.25 L89.50,417.55 L89.20,417.75 L88.70,417.99Z" stroke-width="0.62"/><path d="M88.95,414.31 L88.52,414.30 L87.95,414.10 L87.61,413.80 L87.20,413.36 L86.71,413.05 L86.21,412.80 L85.87,412.55 L85.60,412.30 L85.22,412.05 L84.70,411.91 L84.20,411.70 L83.95,411.44 L83.78,411.05 L83.60,410.55 L83.45,410.18 L83.29,409.80 L83.18,409.30 L83.18,408.80 L83.23,408.30 L83.30,407.80 L83.45,407.41 L83.68,407.05 L83.86,406.55 L83.83,406.05 L83.70,405.65 L83.59,405.30 L83.49,404.80 L83.48,404.30 L83.58,403.80 L83.93,403.30 L84.39,403.05 L84.95,402.82 L85.33,402.55 L85.70,402.15 L85.95,401.90 L86.38,401.55 L86.70,401.30 L86.96,401.05 L87.20,400.76 L87.45,400.39 L87.69,400.05 L87.95,399.75 L88.20,399.49 L88.70,399.07 L89.20,398.87 L89.70,398.87 L90.20,398.95 L90.70,399.13 L91.20,399.51 L91.56,399.80 L91.95,400.01 L92.45,400.15 L92.95,400.24 L93.45,400.36 L93.95,400.50 L94.45,400.67 L94.86,400.80 L95.20,400.89 L95.70,400.97 L96.20,401.16 L96.45,401.55 L96.52,402.05 L96.51,402.55 L96.42,403.05 L96.37,403.55 L96.45,403.98 L96.59,404.55 L96.70,404.94 L96.80,405.30 L96.92,405.80 L96.89,406.30 L96.71,406.80 L96.53,407.30 L96.30,407.80 L95.95,408.15 L95.45,408.41 L94.95,408.77 L94.72,409.05 L94.45,409.51 L94.20,409.92 L93.95,410.30 L93.70,410.69 L93.46,411.05 L93.20,411.33 L92.85,411.55 L92.45,411.77 L92.09,412.05 L91.70,412.49 L91.47,412.80 L91.20,413.18 L90.95,413.48 L90.54,413.80 L90.20,413.98 L89.70,414.16 L89.20,414.28Z" stroke-width="0.8"/><path d="M89.20,413.84 L88.70,413.87 L88.20,413.66 L87.83,413.30 L87.45,412.89 L86.99,412.55 L86.60,412.30 L86.31,412.05 L85.95,411.69 L85.45,411.46 L84.95,411.40 L84.55,411.30 L84.21,411.05 L83.95,410.55 L83.73,410.05 L83.54,409.55 L83.49,409.05 L83.53,408.55 L83.65,408.05 L83.91,407.55 L84.16,407.05 L84.28,406.55 L84.24,406.05 L84.05,405.55 L83.85,405.05 L83.77,404.55 L83.83,404.05 L84.17,403.55 L84.70,403.30 L85.20,403.10 L85.68,402.80 L85.95,402.57 L86.30,402.30 L86.65,402.05 L86.95,401.81 L87.22,401.55 L87.45,401.27 L87.70,400.87 L87.89,400.55 L88.20,400.10 L88.45,399.83 L88.76,399.55 L89.20,399.33 L89.68,399.30 L90.20,399.40 L90.56,399.55 L90.94,399.80 L91.28,400.05 L91.70,400.30 L92.20,400.47 L92.70,400.59 L93.20,400.76 L93.70,401.01 L94.20,401.25 L94.70,401.52 L95.10,401.80 L95.45,402.30 L95.45,402.68 L95.39,403.05 L95.35,403.55 L95.62,404.05 L95.87,404.30 L96.20,404.73 L96.35,405.05 L96.45,405.41 L96.50,405.80 L96.45,406.16 L96.32,406.55 L96.13,407.05 L95.95,407.47 L95.70,407.76 L95.29,408.05 L94.95,408.28 L94.66,408.55 L94.32,409.05 L94.06,409.55 L93.78,410.05 L93.45,410.55 L93.20,410.85 L92.70,411.16 L92.20,411.40 L91.76,411.80 L91.45,412.20 L91.20,412.53 L90.97,412.80 L90.70,413.08 L90.20,413.45 L89.70,413.68 L89.33,413.80Z" stroke-width="0.8"/><path d="M89.45,413.38 L88.95,413.47 L88.45,413.33 L88.15,413.05 L87.72,412.55 L87.45,412.30 L87.13,412.05 L86.84,411.80 L86.45,411.35 L85.98,411.05 L85.45,410.98 L84.95,410.93 L84.45,410.65 L84.21,410.30 L83.96,409.80 L83.82,409.30 L83.82,408.80 L83.95,408.30 L84.19,407.80 L84.42,407.30 L84.56,406.80 L84.59,406.30 L84.50,405.80 L84.29,405.30 L84.13,404.80 L84.13,404.30 L84.45,403.80 L84.95,403.56 L85.45,403.37 L85.95,403.13 L86.45,402.82 L86.86,402.55 L87.20,402.32 L87.55,402.05 L87.94,401.55 L88.20,401.05 L88.45,400.64 L88.70,400.34 L89.09,400.05 L89.45,399.94 L89.95,399.92 L90.45,400.00 L90.95,400.24 L91.45,400.54 L91.95,400.76 L92.45,400.95 L92.95,401.26 L93.20,401.52 L93.45,401.77 L93.83,402.05 L94.12,402.55 L94.26,403.05 L94.40,403.55 L94.61,404.05 L94.95,404.37 L95.32,404.55 L95.70,404.76 L95.95,405.03 L96.14,405.55 L96.10,406.05 L95.95,406.43 L95.75,406.80 L95.45,407.26 L95.20,407.52 L94.86,407.80 L94.60,408.05 L94.25,408.55 L93.98,409.05 L93.75,409.55 L93.48,410.05 L93.20,410.41 L92.70,410.75 L92.20,410.95 L91.71,411.30 L91.45,411.61 L91.20,411.96 L90.95,412.30 L90.70,412.58 L90.20,413.00 L89.70,413.28Z" stroke-width="0.8"/><path d="M89.70,412.86 L89.20,413.02 L88.70,412.93 L88.30,412.55 L87.95,412.15 L87.58,411.80 L87.32,411.55 L86.95,411.12 L86.70,410.86 L86.20,410.61 L85.70,410.55 L85.20,410.51 L84.76,410.30 L84.45,409.95 L84.23,409.55 L84.14,409.05 L84.20,408.66 L84.33,408.30 L84.55,407.80 L84.70,407.42 L84.79,407.05 L84.85,406.55 L84.84,406.05 L84.71,405.55 L84.53,405.05 L84.48,404.55 L84.70,404.12 L85.20,403.83 L85.70,403.66 L86.03,403.55 L86.45,403.35 L86.94,403.05 L87.41,402.80 L87.95,402.56 L88.45,402.34 L88.83,402.05 L89.20,401.55 L89.45,401.24 L89.70,401.00 L90.20,400.62 L90.70,400.57 L91.20,400.77 L91.70,401.01 L92.20,401.30 L92.45,401.55 L92.70,401.94 L92.94,402.30 L93.20,402.59 L93.45,402.86 L93.70,403.23 L93.86,403.55 L94.09,404.05 L94.44,404.55 L94.86,404.80 L95.20,404.92 L95.70,405.28 L95.81,405.80 L95.59,406.30 L95.20,406.75 L94.88,407.05 L94.62,407.30 L94.24,407.80 L94.02,408.30 L93.80,408.80 L93.59,409.30 L93.33,409.80 L92.95,410.24 L92.45,410.48 L91.95,410.71 L91.52,411.05 L91.20,411.41 L90.95,411.75 L90.73,412.05 L90.45,412.35 L89.95,412.73Z" stroke-width="0.8"/><path d="M89.70,412.37 L89.20,412.43 L88.70,412.16 L88.33,411.80 L88.06,411.55 L87.78,411.30 L87.50,411.05 L87.22,410.80 L86.89,410.55 L86.45,410.30 L85.95,410.15 L85.45,410.05 L84.99,409.80 L84.70,409.43 L84.59,409.05 L84.65,408.55 L84.81,408.05 L84.95,407.63 L85.07,407.05 L85.10,406.55 L85.08,406.05 L85.00,405.55 L84.88,405.05 L84.92,404.55 L85.20,404.24 L85.67,404.05 L86.20,403.91 L86.70,403.70 L87.20,403.41 L87.70,403.18 L88.20,402.97 L88.56,402.80 L88.95,402.58 L89.32,402.30 L89.70,401.85 L89.92,401.55 L90.20,401.25 L90.60,401.05 L91.20,401.12 L91.57,401.30 L91.93,401.55 L92.20,401.86 L92.45,402.26 L92.70,402.63 L92.95,402.92 L93.20,403.21 L93.44,403.55 L93.70,404.05 L93.95,404.52 L94.20,404.87 L94.70,405.19 L95.20,405.41 L95.36,405.80 L94.97,406.30 L94.70,406.53 L94.45,406.77 L94.20,407.05 L93.95,407.41 L93.81,407.80 L93.70,408.26 L93.53,408.80 L93.32,409.30 L93.01,409.80 L92.70,410.04 L92.20,410.24 L91.70,410.50 L91.34,410.80 L91.09,411.05 L90.70,411.55 L90.45,411.86 L89.95,412.26Z" stroke-width="0.8"/><path d="M89.70,411.83 L89.33,411.80 L88.95,411.62 L88.55,411.30 L88.23,411.05 L87.84,410.80 L87.45,410.57 L87.02,410.30 L86.70,410.10 L86.20,409.82 L85.71,409.55 L85.45,409.30 L85.20,408.84 L85.17,408.30 L85.26,407.80 L85.33,407.30 L85.34,406.80 L85.34,406.30 L85.32,405.80 L85.27,405.30 L85.33,404.80 L85.70,404.49 L86.20,404.37 L86.56,404.30 L86.95,404.17 L87.45,403.88 L87.95,403.57 L88.36,403.30 L88.70,403.09 L89.17,402.80 L89.52,402.55 L89.79,402.30 L90.20,401.80 L90.49,401.55 L90.95,401.42 L91.38,401.55 L91.70,401.76 L91.95,402.04 L92.20,402.42 L92.45,402.80 L92.70,403.11 L92.95,403.42 L93.20,403.77 L93.45,404.23 L93.61,404.55 L93.86,405.05 L94.17,405.55 L94.30,406.05 L94.05,406.55 L93.70,407.02 L93.46,407.55 L93.40,408.05 L93.33,408.55 L93.20,408.95 L93.03,409.30 L92.70,409.69 L92.20,409.91 L91.84,410.05 L91.45,410.29 L91.14,410.55 L90.88,410.80 L90.45,411.28 L90.20,411.55 L89.77,411.80Z" stroke-width="0.8"/><path d="M89.95,411.12 L89.45,411.24 L89.02,411.05 L88.70,410.84 L88.20,410.56 L87.70,410.37 L87.20,410.11 L86.75,409.80 L86.46,409.55 L86.21,409.30 L85.95,408.95 L85.75,408.55 L85.67,408.05 L85.66,407.55 L85.63,407.05 L85.60,406.55 L85.60,406.05 L85.65,405.55 L85.95,405.06 L86.45,405.04 L86.95,405.23 L87.45,405.26 L87.83,404.80 L88.01,404.30 L88.20,404.00 L88.45,403.70 L88.90,403.30 L89.20,403.10 L89.65,402.80 L89.95,402.56 L90.20,402.31 L90.45,402.05 L90.95,401.81 L91.45,401.97 L91.77,402.30 L92.12,402.80 L92.45,403.24 L92.69,403.55 L92.95,403.92 L93.17,404.30 L93.38,404.80 L93.55,405.30 L93.68,405.80 L93.65,406.30 L93.45,406.69 L93.23,407.05 L93.04,407.55 L93.03,408.05 L93.01,408.55 L92.84,409.05 L92.45,409.46 L91.95,409.64 L91.54,409.80 L91.20,410.01 L90.85,410.30 L90.58,410.55 L90.32,410.80 L90.04,411.05Z" stroke-width="0.8"/><path d="M89.70,410.57 L89.25,410.55 L88.70,410.33 L88.20,410.19 L87.70,410.07 L87.20,409.80 L86.92,409.55 L86.70,409.24 L86.47,408.80 L86.29,408.30 L86.14,407.80 L86.02,407.30 L85.93,406.80 L85.92,406.30 L86.12,405.80 L86.70,405.71 L87.20,405.77 L87.70,405.61 L88.03,405.30 L88.30,404.80 L88.45,404.45 L88.65,404.05 L88.95,403.67 L89.39,403.30 L89.70,403.09 L90.14,402.80 L90.44,402.55 L90.86,402.30 L91.45,402.47 L91.70,402.74 L91.95,403.05 L92.20,403.37 L92.45,403.71 L92.69,404.05 L92.95,404.55 L93.12,405.05 L93.20,405.41 L93.25,405.80 L93.20,406.30 L92.97,406.80 L92.71,407.30 L92.60,407.80 L92.63,408.30 L92.56,408.80 L92.20,409.16 L91.83,409.30 L91.45,409.42 L90.95,409.66 L90.45,410.04 L90.14,410.30 L89.74,410.55Z" stroke-width="0.8"/><path d="M89.70,409.87 L89.20,409.94 L88.70,409.89 L88.20,409.85 L87.70,409.75 L87.37,409.55 L87.02,409.05 L86.87,408.55 L86.73,408.05 L86.54,407.55 L86.40,407.05 L86.40,406.55 L86.70,406.27 L87.20,406.17 L87.70,405.96 L88.17,405.55 L88.45,405.15 L88.66,404.80 L88.95,404.30 L89.20,403.94 L89.45,403.68 L89.95,403.32 L90.45,403.06 L90.95,402.89 L91.40,403.05 L91.70,403.29 L91.94,403.55 L92.20,403.91 L92.45,404.30 L92.67,404.80 L92.80,405.30 L92.87,405.80 L92.81,406.30 L92.60,406.80 L92.34,407.30 L92.20,407.75 L92.16,408.30 L91.95,408.76 L91.45,409.00 L90.95,409.20 L90.45,409.45 L89.95,409.75Z" stroke-width="0.8"/></g>
<line x1="71.6" y1="425.4" x2="90" y2="425.4" stroke="#222" stroke-width="1" />
<rect x="168.5" y="340.8" width="88.5" height="84.4" fill="none" stroke="#555" stroke-width="0.7" />
<line x1="201.5" y1="340.8" x2="201.5" y2="425.2" stroke="#555" stroke-width="0.7" />
<line x1="168.5" y1="392.7" x2="257" y2="392.7" stroke="#555" stroke-width="0.7" />
<line x1="167" y1="425.2" x2="168.5" y2="425.2" stroke="#777" stroke-width="0.5" />
<line x1="168.5" y1="425.2" x2="168.5" y2="426.7" stroke="#777" stroke-width="0.5" />
<text x="169.1" y="432.6" font-size="5" fill="#333" text-anchor="middle" >10<tspan font-size="3.4" dy="-1.9">0</tspan></text>
<line x1="167" y1="404.1" x2="168.5" y2="404.1" stroke="#777" stroke-width="0.5" />
<line x1="190.62" y1="425.2" x2="190.62" y2="426.7" stroke="#777" stroke-width="0.5" />
<text x="191.22" y="432.6" font-size="5" fill="#333" text-anchor="middle" >10<tspan font-size="3.4" dy="-1.9">1</tspan></text>
<line x1="167" y1="383" x2="168.5" y2="383" stroke="#777" stroke-width="0.5" />
<line x1="212.75" y1="425.2" x2="212.75" y2="426.7" stroke="#777" stroke-width="0.5" />
<text x="213.35" y="432.6" font-size="5" fill="#333" text-anchor="middle" >10<tspan font-size="3.4" dy="-1.9">2</tspan></text>
<line x1="167" y1="361.9" x2="168.5" y2="361.9" stroke="#777" stroke-width="0.5" />
<line x1="234.88" y1="425.2" x2="234.88" y2="426.7" stroke="#777" stroke-width="0.5" />
<text x="235.47" y="432.6" font-size="5" fill="#333" text-anchor="middle" >10<tspan font-size="3.4" dy="-1.9">3</tspan></text>
<line x1="167" y1="340.8" x2="168.5" y2="340.8" stroke="#777" stroke-width="0.5" />
<line x1="257" y1="425.2" x2="257" y2="426.7" stroke="#777" stroke-width="0.5" />
<text x="257.6" y="432.6" font-size="5" fill="#333" text-anchor="middle" >10<tspan font-size="3.4" dy="-1.9">4</tspan></text>
<text x="219.6" y="354.8" font-size="10" fill="#111" stroke="#111" stroke-width="0.18" >32hrs</text>
<g fill="none" stroke="#111" stroke-linejoin="round"><path d="M187.25,420.35 L186.75,420.47 L186.25,420.35 L185.75,420.06 L185.25,419.86 L184.75,419.70 L184.38,419.55 L184.00,419.40 L183.61,419.30 L183.25,419.26 L182.75,419.15 L182.25,418.83 L182.00,418.58 L181.76,418.30 L181.50,417.98 L181.00,417.63 L180.50,417.56 L180.14,417.55 L179.75,417.54 L179.25,417.51 L178.75,417.44 L178.36,417.30 L178.00,417.10 L177.59,416.80 L177.32,416.55 L177.07,416.30 L176.81,416.05 L176.55,415.80 L176.26,415.30 L176.24,414.80 L176.28,414.30 L176.36,413.80 L176.48,413.30 L176.54,412.80 L176.51,412.30 L176.38,411.80 L176.28,411.30 L176.25,410.80 L176.25,410.30 L176.31,409.80 L176.50,409.36 L176.75,408.88 L176.91,408.55 L177.10,408.05 L177.24,407.55 L177.33,407.05 L177.50,406.56 L177.75,406.16 L178.00,405.89 L178.25,405.62 L178.48,405.30 L178.71,404.80 L178.91,404.30 L179.13,403.80 L179.38,403.30 L179.75,402.87 L180.00,402.61 L180.25,402.32 L180.50,401.92 L180.71,401.55 L181.00,401.05 L181.25,400.59 L181.50,400.19 L181.75,399.90 L182.16,399.55 L182.45,399.30 L182.74,399.05 L183.06,398.80 L183.42,398.55 L183.75,398.32 L184.13,398.05 L184.50,397.81 L184.90,397.55 L185.24,397.30 L185.50,397.05 L185.75,396.77 L186.00,396.53 L186.30,396.30 L186.75,396.07 L187.25,395.89 L187.75,395.70 L188.07,395.55 L188.47,395.30 L188.90,395.05 L189.25,394.87 L189.75,394.63 L190.24,394.30 L190.50,394.05 L190.75,393.79 L191.25,393.35 L191.65,393.05 L191.95,392.80 L192.25,392.47 L192.50,392.13 L192.75,391.81 L193.00,391.53 L193.25,391.28 L193.75,390.82 L194.06,390.55 L194.34,390.30 L194.63,390.05 L195.00,389.80 L195.50,389.55 L196.00,389.34 L196.50,389.12 L197.00,388.87 L197.50,388.57 L197.99,388.30 L198.50,388.12 L199.00,387.91 L199.50,387.58 L199.75,387.32 L200.00,386.93 L200.19,386.55 L200.50,386.09 L200.81,385.80 L201.13,385.55 L201.44,385.30 L201.75,385.05 L202.07,384.80 L202.41,384.55 L202.75,384.34 L203.25,384.07 L203.75,383.82 L204.25,383.59 L204.75,383.37 L205.25,383.10 L205.67,382.80 L205.96,382.55 L206.21,382.30 L206.50,381.96 L207.00,381.58 L207.50,381.43 L207.90,381.30 L208.25,381.14 L208.75,380.84 L209.25,380.56 L209.75,380.37 L210.25,380.25 L210.75,380.11 L211.25,379.82 L211.64,379.55 L212.00,379.38 L212.50,379.20 L212.85,379.05 L213.25,378.87 L213.75,378.66 L214.25,378.40 L214.65,378.05 L214.93,377.80 L215.25,377.63 L215.62,377.55 L216.00,377.53 L216.50,377.52 L217.00,377.49 L217.50,377.37 L218.00,377.15 L218.50,376.83 L218.98,376.55 L219.50,376.41 L220.00,376.45 L220.50,376.63 L220.96,376.80 L221.50,376.92 L221.93,377.05 L222.25,377.27 L222.50,377.52 L222.75,377.77 L223.04,378.05 L223.43,378.55 L223.64,379.05 L223.73,379.55 L223.71,380.05 L223.52,380.55 L223.27,381.05 L223.00,381.54 L222.75,381.81 L222.46,382.05 L222.08,382.55 L221.84,383.05 L221.51,383.55 L221.25,383.88 L221.00,384.15 L220.75,384.40 L220.34,384.80 L220.00,385.17 L219.75,385.43 L219.50,385.69 L219.25,385.96 L219.00,386.27 L218.79,386.55 L218.50,386.86 L218.02,387.30 L217.75,387.59 L217.50,387.93 L217.25,388.30 L217.00,388.60 L216.50,389.04 L216.20,389.30 L215.83,389.80 L215.61,390.30 L215.39,390.80 L215.00,391.26 L214.56,391.55 L214.25,391.80 L213.98,392.05 L213.72,392.30 L213.46,392.55 L213.16,392.80 L212.80,393.05 L212.50,393.23 L212.00,393.51 L211.50,393.79 L211.16,394.05 L210.79,394.55 L210.55,395.05 L210.25,395.50 L209.90,395.80 L209.59,396.05 L209.25,396.52 L209.01,397.05 L208.75,397.37 L208.25,397.68 L207.77,398.05 L207.50,398.40 L207.28,398.80 L207.09,399.30 L206.82,399.80 L206.50,400.21 L206.27,400.55 L206.00,400.98 L205.78,401.30 L205.50,401.61 L205.00,402.03 L204.62,402.30 L204.25,402.48 L203.75,402.62 L203.25,402.73 L202.75,402.93 L202.25,403.25 L201.83,403.55 L201.52,403.80 L201.26,404.05 L201.00,404.39 L200.75,404.77 L200.50,405.12 L200.25,405.52 L200.07,406.05 L199.93,406.55 L199.75,406.95 L199.57,407.30 L199.25,407.76 L199.01,408.05 L198.75,408.41 L198.59,408.80 L198.53,409.30 L198.37,409.80 L198.00,410.20 L197.75,410.47 L197.50,410.80 L197.25,411.13 L197.00,411.41 L196.57,411.80 L196.29,412.05 L196.03,412.30 L195.77,412.55 L195.50,412.85 L195.25,413.19 L195.00,413.54 L194.75,413.87 L194.50,414.25 L194.25,414.73 L194.06,415.05 L193.75,415.47 L193.50,415.79 L193.25,416.11 L193.00,416.36 L192.70,416.55 L192.25,416.72 L191.75,416.91 L191.25,417.22 L190.79,417.55 L190.52,417.80 L190.25,418.11 L190.00,418.44 L189.75,418.71 L189.30,419.05 L188.86,419.30 L188.52,419.55 L188.25,419.78 L187.86,420.05 L187.50,420.24Z" stroke-width="0.62"/><path d="M184.00,425.20 L183.50,425.20 L183.00,425.20 L182.50,425.20 L182.00,425.20 L181.50,425.20 L181.00,425.20 L180.50,425.20 L180.00,425.20 L179.50,425.20 L179.00,425.20 L178.50,425.20 L178.00,425.20 L177.50,425.20 L177.00,425.20 L176.50,425.20 L176.00,425.20 L175.50,425.20 L175.00,425.20 L174.50,425.20 L174.00,425.20 L173.50,425.20 L173.04,425.05 L172.63,424.80 L172.29,424.55 L172.03,424.30 L171.75,423.93 L171.53,423.55 L171.44,423.05 L171.71,422.55 L172.25,422.32 L172.75,422.27 L173.25,422.09 L173.75,421.85 L174.25,421.70 L174.75,421.69 L175.25,421.76 L175.61,421.80 L176.00,421.84 L176.50,421.95 L177.00,422.09 L177.50,422.18 L178.00,422.28 L178.50,422.36 L179.00,422.35 L179.50,422.12 L179.87,421.80 L180.25,421.40 L180.75,421.08 L181.25,421.07 L181.66,421.30 L182.00,421.70 L182.25,422.01 L182.70,422.30 L183.25,422.38 L183.75,422.38 L184.25,422.44 L184.75,422.63 L185.25,422.92 L185.75,423.23 L186.12,423.55 L186.30,424.05 L186.00,424.45 L185.50,424.61 L185.00,424.70 L184.50,424.92 L184.10,425.20Z" stroke-width="0.62"/><path d="M187.75,416.86 L187.25,416.93 L186.75,416.82 L186.25,416.68 L185.75,416.64 L185.25,416.71 L184.79,416.80 L184.25,416.93 L183.75,416.97 L183.25,416.87 L182.75,416.65 L182.25,416.41 L181.75,416.19 L181.40,416.05 L181.00,415.92 L180.60,415.80 L180.25,415.68 L179.75,415.38 L179.31,415.05 L179.00,414.84 L178.56,414.55 L178.25,414.33 L177.92,414.05 L177.64,413.55 L177.57,413.05 L177.56,412.55 L177.57,412.05 L177.60,411.55 L177.67,411.05 L177.75,410.66 L177.80,410.30 L177.81,409.80 L177.78,409.30 L177.87,408.80 L178.12,408.30 L178.34,407.80 L178.43,407.30 L178.56,406.80 L178.75,406.46 L179.00,406.08 L179.25,405.68 L179.46,405.30 L179.71,404.80 L180.00,404.32 L180.25,403.96 L180.50,403.62 L180.75,403.32 L181.00,403.07 L181.33,402.80 L181.62,402.55 L181.87,402.30 L182.23,401.80 L182.46,401.30 L182.68,400.80 L183.00,400.32 L183.25,399.98 L183.50,399.66 L183.75,399.39 L184.16,399.05 L184.50,398.81 L184.93,398.55 L185.25,398.39 L185.75,398.17 L186.25,397.88 L186.62,397.55 L186.88,397.30 L187.22,397.05 L187.75,396.84 L188.25,396.77 L188.75,396.77 L189.21,396.80 L189.60,396.80 L190.00,396.77 L190.50,396.66 L190.90,396.55 L191.25,396.41 L191.75,396.21 L192.13,396.05 L192.50,395.84 L193.00,395.66 L193.50,395.55 L194.00,395.31 L194.32,395.05 L194.64,394.55 L194.70,394.05 L194.69,393.55 L194.80,393.05 L195.00,392.75 L195.25,392.47 L195.75,392.14 L196.25,392.01 L196.75,391.98 L197.25,391.87 L197.71,391.55 L197.97,391.30 L198.23,391.05 L198.50,390.82 L198.90,390.55 L199.25,390.33 L199.64,390.05 L199.89,389.80 L200.25,389.44 L200.75,389.12 L201.25,388.86 L201.75,388.57 L202.13,388.30 L202.41,388.05 L202.75,387.57 L203.00,387.16 L203.25,386.85 L203.50,386.59 L203.75,386.33 L204.08,386.05 L204.50,385.81 L205.00,385.65 L205.50,385.45 L206.00,385.16 L206.50,384.91 L207.00,384.83 L207.50,384.89 L208.00,384.94 L208.38,384.80 L208.75,384.35 L209.00,383.92 L209.25,383.61 L209.72,383.30 L210.25,383.13 L210.63,383.05 L211.00,382.93 L211.50,382.80 L212.00,382.71 L212.50,382.60 L213.00,382.39 L213.50,382.08 L213.90,381.80 L214.20,381.55 L214.47,381.30 L214.75,380.96 L215.00,380.58 L215.25,380.15 L215.50,379.87 L216.00,379.66 L216.50,379.70 L217.00,379.77 L217.50,379.66 L218.00,379.39 L218.50,379.16 L219.00,379.06 L219.50,379.00 L220.00,379.01 L220.50,379.13 L221.00,379.30 L221.29,379.55 L221.31,380.05 L221.00,380.40 L220.50,380.80 L220.25,381.12 L220.00,381.52 L219.75,381.93 L219.54,382.30 L219.25,382.74 L219.00,383.04 L218.75,383.33 L218.50,383.65 L218.25,383.96 L217.88,384.30 L217.50,384.55 L217.08,384.80 L216.75,385.03 L216.44,385.30 L216.03,385.80 L215.75,386.13 L215.50,386.41 L215.25,386.74 L215.05,387.05 L214.75,387.48 L214.50,387.74 L214.17,388.05 L213.79,388.55 L213.58,389.05 L213.25,389.54 L212.95,389.80 L212.64,390.05 L212.35,390.30 L212.10,390.55 L211.82,390.80 L211.50,391.02 L211.00,391.22 L210.50,391.34 L210.00,391.51 L209.60,391.80 L209.25,392.17 L209.00,392.44 L208.50,392.78 L208.00,392.99 L207.50,393.30 L207.16,393.55 L206.75,393.79 L206.36,394.05 L206.02,394.30 L205.75,394.53 L205.45,394.80 L205.13,395.05 L204.75,395.28 L204.40,395.55 L204.09,396.05 L204.08,396.55 L204.18,397.05 L204.21,397.55 L204.04,398.05 L203.75,398.48 L203.52,398.80 L203.25,399.09 L202.75,399.29 L202.25,399.35 L201.86,399.55 L201.59,399.80 L201.25,400.25 L201.02,400.55 L200.75,400.78 L200.25,401.00 L199.75,401.21 L199.27,401.55 L199.01,401.80 L198.75,402.09 L198.50,402.54 L198.40,403.05 L198.26,403.55 L198.04,404.05 L197.91,404.55 L197.85,405.05 L197.87,405.55 L197.95,406.05 L197.93,406.55 L197.52,407.05 L197.25,407.43 L197.11,407.80 L196.93,408.30 L196.75,408.67 L196.54,409.05 L196.27,409.55 L196.01,410.05 L195.75,410.42 L195.50,410.68 L195.25,410.97 L195.00,411.30 L194.75,411.68 L194.51,412.05 L194.25,412.44 L194.00,412.74 L193.65,413.05 L193.33,413.30 L193.00,413.51 L192.50,413.67 L192.00,413.92 L191.55,414.30 L191.25,414.62 L191.00,414.90 L190.50,415.28 L190.00,415.49 L189.50,415.67 L189.00,416.03 L188.70,416.30 L188.36,416.55 L188.00,416.76Z" stroke-width="0.62"/><path d="M180.00,425.20 L179.50,425.20 L179.00,425.20 L178.50,425.20 L178.00,425.20 L177.50,425.20 L177.13,425.05 L176.75,424.59 L176.50,424.33 L176.08,424.05 L175.75,423.83 L175.72,423.30 L176.25,423.19 L176.75,423.17 L177.25,423.19 L177.75,423.29 L178.16,423.55 L178.44,423.80 L178.75,424.03 L179.25,424.08 L179.75,423.91 L180.25,423.74 L180.73,423.80 L180.98,424.05 L180.80,424.55 L180.52,424.80 L180.25,425.07Z" stroke-width="0.62"/><path d="M183.25,415.31 L182.90,415.30 L182.50,415.26 L182.00,415.08 L181.50,414.82 L181.00,414.57 L180.58,414.30 L180.25,414.06 L179.75,413.81 L179.43,413.55 L179.06,413.05 L178.82,412.55 L178.74,412.05 L178.84,411.55 L179.00,411.16 L179.16,410.80 L179.24,410.30 L179.23,409.80 L179.24,409.30 L179.36,408.80 L179.49,408.30 L179.50,407.83 L179.42,407.30 L179.47,406.80 L179.72,406.30 L180.00,405.89 L180.24,405.55 L180.50,405.21 L180.75,404.91 L181.00,404.61 L181.25,404.31 L181.50,404.02 L182.00,403.60 L182.37,403.30 L182.63,403.05 L182.89,402.80 L183.16,402.55 L183.50,402.06 L183.62,401.55 L183.70,401.05 L183.88,400.55 L184.15,400.05 L184.50,399.61 L184.86,399.30 L185.25,399.07 L185.75,398.86 L186.25,398.68 L186.75,398.42 L187.20,398.05 L187.50,397.82 L188.00,397.62 L188.50,397.64 L189.00,397.73 L189.50,397.78 L190.00,397.80 L190.50,397.81 L191.00,397.83 L191.50,398.02 L191.72,398.30 L192.00,398.66 L192.45,399.05 L192.75,399.29 L193.10,399.55 L193.46,399.80 L193.81,400.05 L194.11,400.30 L194.37,400.55 L194.75,401.01 L194.95,401.30 L195.21,401.80 L195.38,402.30 L195.46,402.80 L195.53,403.30 L195.72,403.80 L195.96,404.30 L196.12,404.80 L196.21,405.30 L196.29,405.80 L196.34,406.30 L196.31,406.80 L196.25,407.23 L196.16,407.80 L196.00,408.26 L195.75,408.75 L195.56,409.05 L195.25,409.40 L194.75,409.75 L194.31,410.05 L194.01,410.30 L193.75,410.57 L193.50,411.00 L193.25,411.45 L193.00,411.72 L192.50,412.04 L192.12,412.30 L191.86,412.55 L191.50,412.94 L191.07,413.30 L190.75,413.53 L190.40,413.80 L190.12,414.05 L189.76,414.30 L189.25,414.39 L188.85,414.30 L188.50,414.16 L188.00,414.06 L187.50,414.22 L187.00,414.51 L186.50,414.72 L186.00,414.77 L185.50,414.76 L185.00,414.85 L184.57,415.05 L184.00,415.23 L183.50,415.30Z" stroke-width="0.62"/><path d="M188.25,411.58 L187.75,411.56 L187.25,411.41 L186.75,411.22 L186.25,411.08 L185.75,411.04 L185.25,411.10 L184.75,411.10 L184.25,410.95 L183.75,410.69 L183.27,410.30 L183.00,409.94 L182.80,409.55 L182.63,409.05 L182.54,408.55 L182.61,408.05 L182.85,407.55 L183.00,407.09 L183.00,406.65 L182.95,406.30 L182.95,405.80 L183.20,405.30 L183.50,405.12 L184.00,404.86 L184.34,404.55 L184.68,404.05 L184.84,403.55 L184.97,403.05 L185.25,402.59 L185.75,402.32 L186.25,402.17 L186.70,402.05 L187.25,401.89 L187.75,401.68 L188.25,401.31 L188.44,400.80 L188.50,400.45 L188.82,400.30 L189.25,400.44 L189.75,400.66 L190.19,400.80 L190.50,400.96 L190.83,401.30 L191.25,401.77 L191.61,402.05 L191.89,402.30 L192.17,402.80 L192.25,403.17 L192.31,403.55 L192.40,404.05 L192.40,404.55 L192.35,405.05 L192.41,405.55 L192.64,406.05 L193.00,406.48 L193.50,406.80 L193.79,407.05 L193.61,407.55 L193.31,407.80 L193.00,408.19 L192.85,408.55 L192.68,409.05 L192.50,409.41 L192.27,409.80 L192.00,410.19 L191.75,410.47 L191.25,410.79 L190.75,410.93 L190.25,411.02 L189.75,411.13 L189.25,411.28 L188.75,411.45 L188.37,411.55Z" stroke-width="0.8"/><path d="M189.00,411.11 L188.50,411.25 L188.00,411.28 L187.50,411.16 L187.00,410.98 L186.50,410.80 L186.00,410.68 L185.50,410.66 L185.00,410.67 L184.50,410.57 L184.00,410.32 L183.67,410.05 L183.36,409.55 L183.27,409.05 L183.37,408.55 L183.58,408.05 L183.75,407.57 L183.79,407.05 L183.75,406.69 L183.66,406.30 L183.70,405.80 L184.00,405.39 L184.25,405.12 L184.50,404.80 L184.75,404.43 L184.95,404.05 L185.12,403.55 L185.25,403.17 L185.50,402.82 L186.00,402.57 L186.50,402.40 L186.94,402.30 L187.50,402.16 L187.85,402.05 L188.25,401.88 L188.75,401.65 L189.25,401.57 L189.75,401.75 L190.24,402.05 L190.74,402.30 L191.25,402.53 L191.55,402.80 L191.70,403.30 L191.74,403.80 L191.78,404.30 L191.84,404.80 L191.92,405.30 L192.06,405.80 L192.25,406.29 L192.50,406.74 L192.68,407.05 L192.75,407.55 L192.64,408.05 L192.52,408.55 L192.40,409.05 L192.25,409.39 L192.01,409.80 L191.75,410.13 L191.25,410.48 L190.75,410.61 L190.25,410.71 L189.75,410.85 L189.25,411.02Z" stroke-width="0.8"/><path d="M189.00,410.86 L188.50,411.00 L188.00,411.01 L187.50,410.88 L187.00,410.70 L186.59,410.55 L186.25,410.44 L185.75,410.35 L185.25,410.31 L184.75,410.20 L184.25,409.91 L184.00,409.65 L183.82,409.30 L183.80,408.80 L183.92,408.30 L184.08,407.80 L184.18,407.30 L184.18,406.80 L184.13,406.30 L184.20,405.80 L184.45,405.30 L184.75,404.81 L185.00,404.38 L185.17,404.05 L185.39,403.55 L185.72,403.05 L186.13,402.80 L186.50,402.66 L186.93,402.55 L187.50,402.43 L187.99,402.30 L188.50,402.14 L189.00,402.09 L189.50,402.24 L190.00,402.54 L190.42,402.80 L190.75,403.02 L191.04,403.30 L191.25,403.78 L191.38,404.30 L191.48,404.80 L191.61,405.30 L191.74,405.80 L191.91,406.30 L192.11,406.80 L192.25,407.17 L192.34,407.55 L192.32,408.05 L192.25,408.55 L192.13,409.05 L191.88,409.55 L191.50,409.99 L191.00,410.22 L190.61,410.30 L190.25,410.39 L189.82,410.55 L189.25,410.77Z" stroke-width="0.8"/><path d="M189.00,410.61 L188.50,410.75 L188.00,410.75 L187.50,410.62 L187.00,410.45 L186.59,410.30 L186.25,410.19 L185.75,410.08 L185.25,409.98 L184.82,409.80 L184.50,409.56 L184.25,409.21 L184.15,408.80 L184.23,408.30 L184.36,407.80 L184.45,407.30 L184.47,406.80 L184.46,406.30 L184.50,405.92 L184.59,405.55 L184.75,405.21 L184.96,404.80 L185.25,404.30 L185.50,403.85 L185.75,403.45 L186.00,403.19 L186.50,402.90 L187.00,402.75 L187.50,402.65 L187.98,402.55 L188.50,402.44 L189.00,402.44 L189.50,402.63 L190.00,402.94 L190.48,403.30 L190.75,403.60 L190.98,404.05 L191.14,404.55 L191.25,404.93 L191.36,405.30 L191.49,405.80 L191.62,406.30 L191.75,406.74 L191.94,407.30 L192.02,407.80 L192.01,408.30 L191.92,408.80 L191.75,409.23 L191.51,409.55 L191.05,409.80 L190.50,409.95 L190.00,410.16 L189.50,410.40 L189.15,410.55Z" stroke-width="0.8"/><path d="M189.00,410.34 L188.50,410.49 L188.00,410.49 L187.50,410.37 L187.00,410.21 L186.56,410.05 L186.00,409.88 L185.50,409.75 L185.05,409.55 L184.75,409.31 L184.50,408.91 L184.46,408.55 L184.55,408.05 L184.65,407.55 L184.71,407.05 L184.72,406.55 L184.74,406.05 L184.83,405.55 L185.00,405.09 L185.25,404.61 L185.44,404.30 L185.75,403.85 L186.00,403.55 L186.25,403.31 L186.72,403.05 L187.25,402.91 L187.75,402.81 L188.25,402.72 L188.75,402.70 L189.18,402.80 L189.50,402.95 L190.00,403.29 L190.32,403.55 L190.69,404.05 L190.90,404.55 L191.06,405.05 L191.20,405.55 L191.31,406.05 L191.41,406.55 L191.50,406.91 L191.61,407.30 L191.71,407.80 L191.70,408.30 L191.55,408.80 L191.25,409.15 L190.75,409.37 L190.38,409.55 L190.00,409.78 L189.56,410.05 L189.08,410.30Z" stroke-width="0.8"/><path d="M188.75,410.13 L188.25,410.24 L187.75,410.18 L187.25,410.05 L186.75,409.88 L186.25,409.70 L185.75,409.55 L185.25,409.32 L184.94,409.05 L184.75,408.63 L184.75,408.25 L184.83,407.80 L184.91,407.30 L184.96,406.80 L184.98,406.30 L185.00,405.81 L185.10,405.30 L185.25,404.93 L185.47,404.55 L185.75,404.17 L186.00,403.89 L186.25,403.64 L186.71,403.30 L187.25,403.12 L187.75,403.02 L188.25,402.94 L188.75,402.95 L189.11,403.05 L189.50,403.25 L189.91,403.55 L190.19,403.80 L190.50,404.20 L190.67,404.55 L190.85,405.05 L190.99,405.55 L191.08,406.05 L191.14,406.55 L191.22,407.05 L191.31,407.55 L191.31,408.05 L191.00,408.54 L190.50,408.78 L190.12,409.05 L189.75,409.42 L189.33,409.80 L189.00,410.01Z" stroke-width="0.8"/><path d="M188.50,409.88 L188.00,409.94 L187.50,409.86 L187.00,409.71 L186.55,409.55 L186.00,409.35 L185.50,409.12 L185.15,408.80 L185.00,408.30 L185.06,407.80 L185.15,407.30 L185.22,406.80 L185.25,406.32 L185.24,405.80 L185.30,405.30 L185.50,404.80 L185.75,404.45 L186.00,404.19 L186.44,403.80 L186.75,403.55 L187.25,403.34 L187.75,403.23 L188.25,403.16 L188.75,403.20 L189.25,403.40 L189.75,403.76 L190.08,404.05 L190.44,404.55 L190.64,405.05 L190.75,405.44 L190.82,405.80 L190.86,406.30 L190.87,406.80 L190.90,407.30 L190.81,407.80 L190.50,408.12 L190.16,408.30 L189.75,408.55 L189.50,408.86 L189.25,409.29 L189.00,409.58 L188.70,409.80Z" stroke-width="0.8"/><path d="M188.25,409.60 L187.75,409.62 L187.25,409.51 L186.75,409.33 L186.25,409.14 L185.75,408.90 L185.39,408.55 L185.28,408.05 L185.36,407.55 L185.47,407.05 L185.60,406.55 L185.61,406.05 L185.51,405.55 L185.60,405.05 L185.93,404.55 L186.21,404.30 L186.50,404.06 L186.84,403.80 L187.25,403.58 L187.75,403.45 L188.25,403.39 L188.75,403.47 L189.25,403.75 L189.64,404.05 L189.94,404.30 L190.25,404.69 L190.41,405.05 L190.55,405.55 L190.61,406.05 L190.57,406.55 L190.51,407.05 L190.33,407.55 L190.05,407.80 L189.58,408.05 L189.26,408.30 L189.00,408.79 L188.75,409.28 L188.39,409.55Z" stroke-width="0.8"/><path d="M188.25,409.19 L187.75,409.29 L187.25,409.18 L186.86,409.05 L186.50,408.90 L186.00,408.65 L185.67,408.30 L185.61,407.80 L185.73,407.30 L185.96,406.80 L186.17,406.30 L186.03,405.80 L185.83,405.30 L186.00,404.82 L186.25,404.58 L186.61,404.30 L186.93,404.05 L187.25,403.85 L187.75,403.69 L188.25,403.66 L188.75,403.80 L189.08,404.05 L189.38,404.30 L189.73,404.55 L189.99,404.80 L190.24,405.30 L190.33,405.80 L190.29,406.30 L190.15,406.80 L190.00,407.13 L189.75,407.40 L189.25,407.73 L188.90,408.05 L188.66,408.55 L188.50,408.94 L188.25,409.19Z" stroke-width="0.8"/></g>
<line x1="168.9" y1="424.7" x2="183" y2="424.7" stroke="#222" stroke-width="1" />
<rect x="266.5" y="340.8" width="88.5" height="84.4" fill="none" stroke="#555" stroke-width="0.7" />
<line x1="300" y1="340.8" x2="300" y2="425.2" stroke="#555" stroke-width="0.7" />
<line x1="266.5" y1="392.7" x2="355" y2="392.7" stroke="#555" stroke-width="0.7" />
<line x1="265" y1="425.2" x2="266.5" y2="425.2" stroke="#777" stroke-width="0.5" />
<line x1="266.5" y1="425.2" x2="266.5" y2="426.7" stroke="#777" stroke-width="0.5" />
<text x="267.1" y="432.6" font-size="5" fill="#333" text-anchor="middle" >10<tspan font-size="3.4" dy="-1.9">0</tspan></text>
<line x1="265" y1="404.1" x2="266.5" y2="404.1" stroke="#777" stroke-width="0.5" />
<line x1="288.62" y1="425.2" x2="288.62" y2="426.7" stroke="#777" stroke-width="0.5" />
<text x="289.23" y="432.6" font-size="5" fill="#333" text-anchor="middle" >10<tspan font-size="3.4" dy="-1.9">1</tspan></text>
<line x1="265" y1="383" x2="266.5" y2="383" stroke="#777" stroke-width="0.5" />
<line x1="310.75" y1="425.2" x2="310.75" y2="426.7" stroke="#777" stroke-width="0.5" />
<text x="311.35" y="432.6" font-size="5" fill="#333" text-anchor="middle" >10<tspan font-size="3.4" dy="-1.9">2</tspan></text>
<line x1="265" y1="361.9" x2="266.5" y2="361.9" stroke="#777" stroke-width="0.5" />
<line x1="332.88" y1="425.2" x2="332.88" y2="426.7" stroke="#777" stroke-width="0.5" />
<text x="333.48" y="432.6" font-size="5" fill="#333" text-anchor="middle" >10<tspan font-size="3.4" dy="-1.9">3</tspan></text>
<line x1="265" y1="340.8" x2="266.5" y2="340.8" stroke="#777" stroke-width="0.5" />
<line x1="355" y1="425.2" x2="355" y2="426.7" stroke="#777" stroke-width="0.5" />
<text x="355.6" y="432.6" font-size="5" fill="#333" text-anchor="middle" >10<tspan font-size="3.4" dy="-1.9">4</tspan></text>
<text x="317.7" y="354.8" font-size="10" fill="#111" stroke="#111" stroke-width="0.18" >48hrs</text>
<g fill="none" stroke="#111" stroke-linejoin="round"><path d="M285.75,425.20 L285.25,425.20 L284.75,425.20 L284.25,425.20 L283.75,425.20 L283.25,425.20 L282.75,425.20 L282.25,425.20 L281.75,425.20 L281.25,425.20 L280.75,425.20 L280.25,425.20 L279.75,425.20 L279.25,425.20 L278.75,425.20 L278.25,425.20 L277.75,425.20 L277.25,425.20 L276.75,425.20 L276.25,425.20 L275.75,425.20 L275.25,425.20 L274.75,425.20 L274.25,425.20 L273.75,425.20 L273.25,425.20 L272.75,425.20 L272.25,425.20 L271.75,425.20 L271.25,425.20 L270.75,425.20 L270.34,425.20 L270.40,424.80 L270.75,424.40 L270.99,424.05 L271.13,423.55 L271.25,423.20 L271.49,422.80 L271.75,422.39 L271.79,421.80 L271.72,421.30 L271.81,420.80 L271.97,420.30 L271.75,419.94 L271.27,419.55 L271.00,419.26 L270.75,418.91 L270.50,418.62 L270.14,418.30 L269.76,417.80 L269.57,417.30 L269.30,416.80 L269.00,416.48 L268.75,416.19 L268.54,415.80 L268.36,415.30 L268.25,414.96 L268.04,414.55 L267.81,414.05 L267.71,413.55 L267.54,413.05 L267.25,412.60 L267.05,412.30 L266.88,411.80 L266.88,411.30 L266.92,410.80 L266.95,410.30 L267.05,409.80 L267.19,409.30 L267.29,408.80 L267.27,408.30 L267.04,407.80 L266.75,407.43 L266.50,407.11 L266.50,406.55 L266.50,406.05 L266.50,405.66 L266.95,405.30 L267.40,405.05 L267.75,404.81 L268.07,404.55 L268.39,404.30 L268.74,404.05 L269.07,403.80 L269.44,403.55 L269.75,403.37 L270.20,403.05 L270.50,402.58 L270.67,402.05 L270.88,401.55 L271.14,401.05 L271.50,400.55 L271.74,400.30 L272.00,400.06 L272.25,399.76 L272.46,399.30 L272.61,398.80 L272.91,398.30 L273.25,397.95 L273.67,397.55 L273.95,397.30 L274.21,397.05 L274.50,396.80 L274.89,396.55 L275.25,396.37 L275.75,396.09 L276.25,395.81 L276.75,395.59 L277.25,395.42 L277.63,395.30 L278.00,395.15 L278.50,394.90 L279.00,394.61 L279.50,394.44 L280.00,394.43 L280.50,394.52 L281.00,394.62 L281.50,394.61 L282.00,394.45 L282.50,394.31 L283.00,394.23 L283.50,394.12 L284.00,393.96 L284.37,393.80 L284.75,393.62 L285.25,393.44 L285.75,393.30 L286.25,393.22 L286.75,393.22 L287.25,393.27 L287.75,393.26 L288.25,393.11 L288.72,392.80 L288.98,392.55 L289.31,392.30 L289.75,392.15 L290.25,392.20 L290.75,392.36 L291.25,392.45 L291.66,392.30 L292.00,392.11 L292.50,391.95 L292.75,391.69 L293.00,391.37 L293.38,391.05 L293.75,390.81 L294.07,390.55 L294.37,390.30 L294.68,390.05 L295.00,389.80 L295.35,389.55 L295.74,389.30 L296.17,389.05 L296.50,388.85 L296.98,388.55 L297.37,388.30 L297.75,388.09 L298.25,387.91 L298.61,387.80 L299.00,387.57 L299.24,387.30 L299.50,386.96 L299.75,386.64 L300.00,386.35 L300.34,386.05 L300.75,385.81 L301.25,385.58 L301.75,385.35 L302.25,385.07 L302.68,384.80 L303.00,384.63 L303.50,384.44 L304.00,384.31 L304.50,384.07 L304.74,383.80 L304.92,383.30 L305.20,382.80 L305.73,382.55 L306.25,382.43 L306.70,382.30 L307.14,382.05 L307.50,381.87 L308.00,381.70 L308.37,381.55 L308.75,381.35 L309.09,381.05 L309.50,380.61 L309.86,380.30 L310.25,380.08 L310.75,379.95 L311.25,379.99 L311.75,380.08 L312.25,380.17 L312.75,380.22 L313.25,380.15 L313.71,380.05 L314.25,379.97 L314.75,380.03 L315.25,380.09 L315.75,380.00 L316.25,379.84 L316.75,379.72 L317.25,379.79 L317.75,379.96 L318.25,380.02 L318.75,379.94 L319.25,379.85 L319.75,379.96 L320.00,380.22 L320.16,380.55 L320.33,381.05 L320.49,381.55 L320.60,382.05 L320.62,382.55 L320.68,383.05 L320.83,383.55 L320.98,384.05 L321.02,384.55 L320.81,385.05 L320.50,385.51 L320.25,386.05 L320.18,386.55 L320.15,387.05 L320.00,387.48 L319.75,387.77 L319.25,388.02 L318.85,388.30 L318.62,388.80 L318.28,389.30 L318.00,389.51 L317.52,389.80 L317.22,390.05 L317.00,390.33 L316.75,390.74 L316.57,391.05 L316.25,391.51 L316.04,391.80 L315.75,392.20 L315.50,392.52 L315.25,392.78 L314.96,393.05 L314.52,393.55 L314.25,393.94 L314.02,394.30 L313.75,394.80 L313.50,395.13 L313.00,395.48 L312.57,395.80 L312.25,395.99 L311.75,396.14 L311.25,396.15 L310.75,396.07 L310.29,396.05 L309.94,396.30 L309.75,396.69 L309.62,397.05 L309.50,397.41 L309.38,397.80 L309.28,398.30 L309.21,398.80 L309.12,399.30 L309.00,399.67 L308.82,400.05 L308.55,400.55 L308.34,401.05 L308.08,401.55 L307.75,401.90 L307.25,402.26 L306.82,402.55 L306.50,402.71 L306.00,402.84 L305.50,402.88 L305.00,402.88 L304.50,402.95 L304.10,403.30 L303.84,403.80 L303.52,404.30 L303.25,404.68 L303.05,405.05 L302.88,405.55 L302.75,406.03 L302.57,406.55 L302.31,407.05 L302.00,407.53 L301.75,408.05 L301.66,408.55 L301.51,409.05 L301.25,409.45 L301.00,409.71 L300.64,410.05 L300.37,410.30 L300.00,410.72 L299.78,411.05 L299.50,411.48 L299.25,411.77 L298.89,412.05 L298.50,412.28 L298.18,412.55 L297.92,413.05 L297.75,413.47 L297.58,413.80 L297.25,414.23 L297.04,414.55 L296.77,415.05 L296.55,415.55 L296.27,416.05 L296.00,416.44 L295.75,416.77 L295.50,417.05 L295.26,417.30 L295.00,417.55 L294.76,417.80 L294.50,418.05 L294.23,418.30 L293.98,418.55 L293.56,419.05 L293.25,419.40 L292.75,419.78 L292.25,420.01 L291.75,420.16 L291.25,420.25 L290.88,420.30 L290.50,420.41 L290.00,420.71 L289.56,421.05 L289.25,421.28 L288.75,421.55 L288.25,421.62 L287.75,421.55 L287.25,421.73 L287.11,422.05 L287.02,422.55 L286.89,423.05 L286.75,423.43 L286.62,423.80 L286.43,424.30 L286.25,424.68 L286.04,425.05Z" stroke-width="0.62"/><path d="M282.00,425.14 L281.50,425.20 L281.00,425.19 L280.61,425.05 L280.25,424.90 L279.75,424.69 L279.25,424.59 L278.75,424.65 L278.25,424.76 L277.75,424.83 L277.25,424.90 L276.75,425.04 L276.25,425.18 L275.75,425.17 L275.31,425.05 L274.75,424.92 L274.25,424.99 L273.90,425.05 L273.92,424.55 L274.25,424.08 L274.57,423.80 L274.98,423.55 L275.50,423.36 L276.00,423.18 L276.50,422.87 L276.83,422.55 L277.16,422.05 L277.26,421.55 L276.75,421.55 L276.25,421.64 L275.91,421.55 L275.59,421.30 L275.30,421.05 L275.00,420.87 L274.50,420.56 L274.25,420.14 L274.11,419.80 L273.85,419.30 L273.57,418.80 L273.27,418.30 L273.00,417.94 L272.75,417.69 L272.25,417.36 L271.75,417.15 L271.25,416.88 L271.00,416.62 L270.78,416.30 L270.55,415.80 L270.44,415.30 L270.32,414.80 L270.16,414.30 L270.03,413.80 L269.93,413.30 L269.83,412.80 L269.61,412.30 L269.25,411.91 L269.00,411.63 L268.85,411.30 L268.90,410.80 L269.00,410.33 L269.09,409.80 L269.24,409.30 L269.43,408.80 L269.53,408.30 L269.62,407.80 L269.69,407.30 L269.74,406.80 L269.84,406.30 L269.98,405.80 L270.05,405.30 L270.15,404.80 L270.50,404.37 L271.00,404.11 L271.43,403.80 L271.75,403.37 L271.93,403.05 L272.16,402.55 L272.34,402.05 L272.50,401.72 L272.75,401.42 L273.21,401.05 L273.50,400.80 L273.75,400.52 L274.00,400.21 L274.25,399.88 L274.49,399.55 L274.75,399.14 L274.97,398.80 L275.25,398.41 L275.48,398.05 L275.75,397.63 L276.00,397.32 L276.25,397.06 L276.55,396.80 L276.94,396.55 L277.50,396.32 L278.00,396.21 L278.50,396.12 L279.00,396.01 L279.50,395.96 L280.00,396.03 L280.50,396.11 L281.00,396.16 L281.50,396.14 L282.00,396.12 L282.50,396.18 L283.00,396.22 L283.50,396.12 L284.00,395.96 L284.50,395.86 L285.00,395.81 L285.50,395.69 L286.00,395.58 L286.50,395.51 L287.00,395.44 L287.42,395.30 L287.75,395.13 L288.25,394.92 L288.75,394.92 L289.25,395.18 L289.71,395.55 L290.00,395.77 L290.44,396.05 L291.00,396.28 L291.50,396.27 L292.00,396.07 L292.50,395.86 L293.00,395.75 L293.50,395.66 L294.00,395.42 L294.40,395.05 L294.75,394.67 L295.00,394.39 L295.25,394.14 L295.67,393.80 L295.94,393.55 L296.25,393.14 L296.50,392.83 L296.90,392.55 L297.25,392.43 L297.75,392.30 L298.14,392.05 L298.50,391.65 L298.75,391.32 L299.00,391.05 L299.28,390.80 L299.65,390.55 L300.00,390.35 L300.50,390.14 L301.00,389.88 L301.41,389.55 L301.72,389.30 L302.00,389.06 L302.28,388.80 L302.58,388.55 L303.00,388.44 L303.50,388.31 L303.63,387.80 L303.69,387.30 L304.00,386.98 L304.50,386.89 L305.00,386.91 L305.50,386.90 L306.00,386.83 L306.40,386.80 L306.75,386.79 L307.25,386.76 L307.75,386.67 L308.18,386.55 L308.73,386.30 L309.10,386.05 L309.46,385.80 L309.75,385.57 L310.04,385.30 L310.50,384.82 L310.78,384.55 L311.04,384.30 L311.45,383.80 L311.75,383.34 L311.97,383.05 L312.25,382.77 L312.54,382.55 L312.98,382.30 L313.50,382.08 L314.00,381.94 L314.50,381.89 L315.00,381.89 L315.50,381.91 L316.00,381.97 L316.50,381.98 L317.00,381.86 L317.50,381.91 L317.84,382.30 L317.88,382.80 L317.88,383.30 L317.97,383.80 L318.14,384.30 L318.21,384.80 L318.06,385.30 L317.82,385.80 L317.54,386.30 L317.25,386.65 L316.79,387.05 L316.51,387.30 L316.20,387.55 L315.75,387.80 L315.25,388.04 L314.95,388.30 L314.62,388.80 L314.34,389.30 L314.00,389.64 L313.59,389.80 L313.26,390.05 L313.08,390.55 L312.93,391.05 L312.50,391.54 L312.22,391.80 L311.97,392.05 L311.54,392.55 L311.25,392.85 L310.75,393.20 L310.25,393.47 L309.76,393.80 L309.35,394.05 L309.00,394.22 L308.50,394.47 L308.00,394.80 L307.66,395.05 L307.25,395.27 L306.75,395.49 L306.25,395.80 L306.00,396.12 L305.87,396.55 L305.91,397.05 L306.00,397.44 L306.06,397.80 L306.07,398.30 L306.02,398.80 L305.75,399.27 L305.37,399.55 L305.07,399.80 L304.81,400.05 L304.53,400.30 L304.12,400.55 L303.75,400.68 L303.25,400.75 L302.88,400.80 L302.50,400.92 L302.00,401.28 L301.78,401.55 L301.50,402.00 L301.31,402.55 L301.15,403.05 L300.89,403.55 L300.58,404.05 L300.41,404.55 L300.39,405.05 L300.41,405.55 L300.33,406.05 L300.16,406.55 L300.00,406.94 L299.88,407.30 L299.79,407.80 L299.72,408.30 L299.50,408.70 L299.00,409.03 L298.58,409.30 L298.26,409.55 L298.00,409.79 L297.75,410.03 L297.50,410.39 L297.35,410.80 L297.14,411.30 L296.80,411.80 L296.50,412.20 L296.32,412.55 L296.21,413.05 L296.17,413.55 L296.03,414.05 L295.75,414.47 L295.50,414.75 L295.30,415.05 L295.10,415.55 L294.80,416.05 L294.50,416.37 L294.00,416.80 L293.62,417.05 L293.25,417.23 L292.75,417.42 L292.35,417.55 L292.00,417.63 L291.50,417.67 L291.05,417.80 L290.75,418.04 L290.50,418.44 L290.25,418.79 L289.90,419.05 L289.50,419.22 L289.00,419.29 L288.50,419.31 L288.00,419.42 L287.53,419.55 L287.00,419.67 L286.50,419.76 L286.00,419.89 L285.58,420.05 L285.25,420.22 L284.75,420.36 L284.25,420.45 L283.90,420.55 L283.53,420.80 L283.25,421.19 L282.75,421.51 L282.25,421.49 L281.75,421.36 L281.25,421.43 L281.37,421.80 L281.75,422.03 L282.25,422.17 L282.70,422.30 L283.21,422.55 L283.10,423.05 L282.88,423.55 L282.75,423.98 L282.63,424.55 L282.25,425.02Z" stroke-width="0.62"/><path d="M281.25,419.55 L280.75,419.62 L280.25,419.66 L279.75,419.65 L279.28,419.55 L278.75,419.40 L278.40,419.30 L278.00,419.21 L277.50,419.14 L277.00,419.12 L276.59,419.05 L276.33,418.80 L276.06,418.55 L275.50,418.31 L275.00,418.10 L274.57,417.80 L274.25,417.45 L274.00,417.09 L273.78,416.80 L273.50,416.44 L273.25,416.05 L273.05,415.55 L272.83,415.05 L272.50,414.62 L272.25,414.37 L272.00,414.09 L271.75,413.67 L271.62,413.30 L271.50,412.87 L271.31,412.30 L271.17,411.80 L271.07,411.30 L271.00,410.89 L270.87,410.30 L270.78,409.80 L270.73,409.30 L270.73,408.80 L270.77,408.30 L270.85,407.80 L271.00,407.34 L271.19,406.80 L271.31,406.30 L271.44,405.80 L271.75,405.31 L271.99,405.05 L272.25,404.68 L272.43,404.30 L272.68,403.80 L273.00,403.35 L273.25,403.06 L273.55,402.80 L274.00,402.56 L274.43,402.30 L274.75,402.10 L275.25,401.85 L275.75,401.60 L276.13,401.30 L276.47,400.80 L276.64,400.30 L277.00,399.81 L277.30,399.55 L277.57,399.05 L277.42,398.55 L277.27,398.05 L277.50,397.69 L278.00,397.50 L278.50,397.49 L278.86,397.55 L279.25,397.71 L279.75,398.00 L280.25,398.02 L280.75,397.84 L281.25,397.66 L281.73,397.55 L282.25,397.47 L282.75,397.41 L283.25,397.31 L283.75,397.17 L284.25,397.08 L284.75,397.14 L285.24,397.30 L285.75,397.42 L286.25,397.45 L286.75,397.43 L287.25,397.35 L287.75,397.15 L288.25,396.90 L288.75,396.83 L289.25,396.98 L289.75,397.22 L290.25,397.55 L290.58,397.80 L291.00,398.05 L291.41,398.05 L292.00,397.93 L292.50,397.87 L293.00,397.91 L293.50,397.99 L293.99,398.05 L294.50,398.06 L295.00,398.01 L295.50,397.88 L296.00,397.73 L296.50,397.72 L297.00,397.75 L297.50,397.79 L298.00,397.90 L298.39,398.05 L298.75,398.25 L299.00,398.49 L299.17,399.05 L299.13,399.55 L299.00,400.00 L298.80,400.30 L298.50,400.54 L298.00,400.71 L297.50,400.92 L297.30,401.30 L297.17,401.80 L297.13,402.30 L297.01,402.80 L296.80,403.30 L296.61,403.80 L296.56,404.30 L296.67,404.80 L296.92,405.30 L297.12,405.80 L297.05,406.30 L296.75,406.79 L296.50,407.15 L296.30,407.55 L296.16,408.05 L296.00,408.45 L295.75,408.73 L295.36,409.05 L295.09,409.30 L294.75,409.74 L294.55,410.30 L294.56,410.80 L294.69,411.30 L294.84,411.80 L294.87,412.30 L294.75,412.78 L294.51,413.05 L294.00,413.18 L293.50,413.20 L293.15,413.30 L292.90,413.55 L292.65,414.05 L292.25,414.42 L291.75,414.65 L291.25,414.94 L290.75,415.30 L290.39,415.55 L290.05,415.80 L289.77,416.05 L289.50,416.34 L289.25,416.69 L289.03,417.05 L288.75,417.41 L288.25,417.75 L287.75,418.03 L287.38,418.30 L287.02,418.55 L286.50,418.78 L286.00,418.88 L285.50,418.91 L285.00,418.95 L284.53,419.05 L284.00,419.20 L283.52,419.30 L283.00,419.36 L282.50,419.38 L282.00,419.43 L281.50,419.52Z" stroke-width="0.62"/><path d="M282.25,417.83 L281.75,417.90 L281.25,417.96 L280.75,417.91 L280.25,417.62 L280.00,417.35 L279.65,417.05 L279.25,416.89 L278.85,416.80 L278.50,416.71 L278.11,416.55 L277.75,416.34 L277.32,416.05 L277.00,415.83 L276.68,415.55 L276.43,415.30 L276.16,415.05 L275.88,414.80 L275.57,414.55 L275.26,414.30 L275.00,414.07 L274.75,413.81 L274.50,413.53 L274.25,413.25 L274.00,412.98 L273.75,412.66 L273.51,412.30 L273.25,411.91 L273.00,411.56 L272.75,411.16 L272.60,410.80 L272.53,410.30 L272.58,409.80 L272.75,409.42 L273.00,409.15 L273.25,408.89 L273.48,408.55 L273.70,408.05 L273.93,407.55 L274.25,407.07 L274.50,406.59 L274.61,406.05 L274.70,405.55 L274.87,405.05 L275.19,404.55 L275.50,404.33 L276.00,404.18 L276.50,404.08 L277.00,403.91 L277.50,403.57 L277.75,403.25 L278.00,402.84 L278.21,402.55 L278.46,402.30 L278.75,402.06 L279.00,401.81 L279.25,401.46 L279.50,401.05 L279.75,400.62 L279.98,400.30 L280.25,400.07 L280.75,399.95 L281.25,399.97 L281.75,400.00 L282.25,400.01 L282.75,399.98 L283.25,399.86 L283.75,399.65 L284.25,399.49 L284.75,399.51 L285.19,399.80 L285.50,400.11 L285.96,400.30 L286.50,400.30 L287.00,400.20 L287.50,400.12 L288.00,400.06 L288.50,400.02 L289.00,400.17 L289.50,400.52 L289.95,400.80 L290.50,401.01 L291.00,401.13 L291.50,401.25 L292.00,401.55 L292.25,401.85 L292.49,402.30 L292.73,402.80 L292.96,403.30 L293.07,403.80 L293.06,404.30 L293.00,404.68 L292.95,405.05 L292.89,405.55 L292.87,406.05 L292.88,406.55 L292.86,407.05 L292.82,407.55 L292.77,408.05 L292.69,408.55 L292.50,409.04 L292.29,409.55 L292.15,410.05 L292.00,410.39 L291.75,410.76 L291.50,411.03 L291.21,411.30 L290.93,411.55 L290.65,411.80 L290.25,412.29 L290.00,412.60 L289.75,412.85 L289.31,413.30 L289.00,413.61 L288.50,413.95 L288.00,414.20 L287.50,414.52 L287.25,414.77 L287.00,415.11 L286.75,415.50 L286.53,415.80 L286.25,416.12 L286.00,416.41 L285.75,416.72 L285.50,417.00 L285.00,417.28 L284.50,417.39 L284.00,417.45 L283.50,417.52 L283.00,417.67 L282.50,417.79Z" stroke-width="0.8"/><path d="M282.25,417.33 L281.75,417.37 L281.25,417.33 L280.75,417.08 L280.50,416.84 L280.19,416.55 L279.75,416.30 L279.25,416.07 L278.85,415.80 L278.55,415.55 L278.25,415.33 L277.75,415.11 L277.25,414.94 L276.75,414.66 L276.28,414.30 L276.00,414.06 L275.71,413.80 L275.46,413.55 L275.00,413.05 L274.74,412.80 L274.47,412.55 L274.04,412.05 L273.75,411.64 L273.52,411.30 L273.25,410.80 L273.25,410.30 L273.50,409.87 L273.75,409.59 L274.00,409.30 L274.25,408.98 L274.50,408.64 L274.75,408.30 L275.00,407.90 L275.17,407.55 L275.39,407.05 L275.57,406.55 L275.60,406.05 L275.54,405.55 L275.69,405.05 L276.00,404.82 L276.50,404.65 L276.85,404.55 L277.25,404.38 L277.71,404.05 L278.00,403.69 L278.24,403.30 L278.50,402.92 L278.75,402.66 L279.17,402.30 L279.42,402.05 L279.75,401.64 L280.00,401.34 L280.25,401.09 L280.65,400.80 L281.00,400.70 L281.50,400.67 L282.00,400.66 L282.50,400.69 L283.00,400.74 L283.50,400.77 L284.00,400.88 L284.32,401.05 L284.75,401.18 L285.25,401.15 L285.75,401.06 L286.25,401.03 L286.75,401.01 L287.25,400.96 L287.75,400.86 L288.25,400.77 L288.71,400.80 L289.25,401.05 L289.68,401.30 L290.00,401.45 L290.50,401.64 L290.93,401.80 L291.25,401.98 L291.50,402.24 L291.67,402.55 L291.83,403.05 L291.97,403.55 L292.09,404.05 L292.18,404.55 L292.22,405.05 L292.17,405.55 L292.02,406.05 L291.96,406.55 L292.06,407.05 L292.12,407.55 L292.09,408.05 L292.00,408.41 L291.87,408.80 L291.66,409.30 L291.50,409.65 L291.31,410.05 L291.05,410.55 L290.75,410.92 L290.29,411.30 L290.00,411.52 L289.69,411.80 L289.25,412.29 L289.00,412.60 L288.75,412.95 L288.50,413.30 L288.24,413.55 L287.87,413.80 L287.50,414.03 L287.12,414.30 L286.83,414.55 L286.50,414.93 L286.25,415.30 L286.00,415.65 L285.75,415.96 L285.50,416.22 L285.11,416.55 L284.75,416.73 L284.39,416.80 L284.00,416.83 L283.50,416.89 L283.05,417.05 L282.50,417.27Z" stroke-width="0.8"/><path d="M282.25,416.83 L281.75,416.81 L281.25,416.61 L280.80,416.30 L280.50,416.10 L280.00,415.85 L279.50,415.58 L279.15,415.30 L278.89,415.05 L278.57,414.80 L278.25,414.64 L277.75,414.51 L277.25,414.35 L276.75,414.05 L276.45,413.80 L276.20,413.55 L275.75,413.05 L275.50,412.74 L275.25,412.44 L275.00,412.15 L274.75,411.87 L274.50,411.55 L274.25,411.15 L274.09,410.80 L274.11,410.30 L274.40,409.80 L274.74,409.30 L275.00,408.94 L275.25,408.62 L275.50,408.30 L275.75,407.82 L275.93,407.30 L276.11,406.80 L276.24,406.30 L276.28,405.80 L276.49,405.30 L276.92,405.05 L277.25,404.89 L277.75,404.56 L278.04,404.30 L278.25,404.01 L278.50,403.55 L278.75,403.19 L279.00,402.95 L279.50,402.59 L279.87,402.30 L280.16,402.05 L280.50,401.80 L281.00,401.61 L281.50,401.56 L282.00,401.60 L282.50,401.70 L283.00,401.86 L283.50,402.01 L284.00,402.03 L284.50,401.98 L285.00,401.87 L285.50,401.68 L286.00,401.56 L286.50,401.55 L287.00,401.55 L287.50,401.48 L288.00,401.36 L288.50,401.31 L289.00,401.44 L289.50,401.71 L290.00,401.98 L290.50,402.25 L290.86,402.55 L291.13,403.05 L291.25,403.43 L291.35,403.80 L291.48,404.30 L291.58,404.80 L291.55,405.30 L291.35,405.80 L291.17,406.30 L291.19,406.80 L291.37,407.30 L291.49,407.80 L291.47,408.30 L291.33,408.80 L291.06,409.30 L290.77,409.80 L290.54,410.30 L290.25,410.68 L289.75,411.03 L289.39,411.30 L289.00,411.77 L288.77,412.05 L288.50,412.41 L288.27,412.80 L288.00,413.19 L287.60,413.55 L287.25,413.79 L286.82,414.05 L286.50,414.24 L286.00,414.53 L285.75,414.92 L285.57,415.30 L285.25,415.69 L284.75,416.01 L284.25,416.19 L283.84,416.30 L283.50,416.39 L283.04,416.55 L282.50,416.77Z" stroke-width="0.8"/><path d="M282.75,416.09 L282.25,416.10 L281.75,415.91 L281.25,415.67 L280.75,415.48 L280.25,415.30 L279.78,415.05 L279.50,414.83 L279.18,414.55 L278.81,414.30 L278.25,414.09 L277.75,413.98 L277.25,413.80 L276.91,413.55 L276.66,413.30 L276.25,412.87 L276.00,412.57 L275.75,412.20 L275.52,411.80 L275.25,411.31 L275.00,410.80 L274.91,410.30 L275.00,409.89 L275.15,409.55 L275.50,409.06 L275.75,408.80 L276.00,408.52 L276.25,408.08 L276.42,407.55 L276.64,407.05 L276.93,406.55 L277.10,406.05 L277.25,405.65 L277.50,405.31 L277.79,405.05 L278.12,404.80 L278.38,404.55 L278.66,404.05 L278.93,403.55 L279.25,403.24 L279.63,403.05 L280.00,402.91 L280.50,402.68 L281.00,402.35 L281.50,402.22 L282.00,402.24 L282.50,402.34 L283.00,402.53 L283.50,402.71 L284.00,402.77 L284.50,402.70 L285.00,402.58 L285.50,402.38 L286.00,402.21 L286.50,402.15 L287.00,402.11 L287.50,402.01 L288.00,401.85 L288.50,401.77 L289.00,401.90 L289.50,402.21 L289.92,402.55 L290.25,403.01 L290.44,403.55 L290.62,404.05 L290.83,404.55 L290.95,405.05 L290.89,405.55 L290.76,406.05 L290.71,406.55 L290.75,407.03 L290.86,407.55 L290.91,408.05 L290.80,408.55 L290.50,408.96 L290.25,409.28 L290.07,409.80 L289.79,410.30 L289.50,410.51 L289.12,410.80 L288.75,411.29 L288.50,411.65 L288.25,411.96 L288.01,412.30 L287.76,412.80 L287.50,413.16 L287.00,413.55 L286.50,413.77 L286.00,413.86 L285.50,413.98 L285.07,414.30 L284.79,414.80 L284.50,415.14 L284.00,415.54 L283.59,415.80 L283.25,415.94 L282.90,416.05Z" stroke-width="0.8"/><path d="M283.25,415.07 L282.75,415.17 L282.25,415.05 L281.75,414.91 L281.39,414.80 L281.00,414.70 L280.50,414.58 L280.00,414.40 L279.50,414.13 L279.00,413.83 L278.50,413.60 L278.00,413.42 L277.50,413.12 L277.16,412.80 L276.87,412.55 L276.60,412.30 L276.29,411.80 L276.03,411.30 L275.75,410.86 L275.52,410.30 L275.58,409.80 L275.93,409.30 L276.20,409.05 L276.50,408.68 L276.69,408.30 L276.89,407.80 L277.17,407.30 L277.50,406.82 L277.70,406.30 L277.83,405.80 L278.20,405.30 L278.49,405.05 L278.74,404.80 L279.00,404.32 L279.25,403.81 L279.59,403.55 L280.00,403.41 L280.46,403.30 L281.00,403.06 L281.50,402.80 L282.00,402.74 L282.37,402.80 L282.75,402.91 L283.10,403.05 L283.50,403.19 L284.00,403.28 L284.50,403.27 L285.00,403.25 L285.50,403.24 L286.00,403.22 L286.50,403.22 L287.00,403.16 L287.50,402.86 L287.87,402.55 L288.25,402.36 L288.75,402.35 L289.08,402.55 L289.38,403.05 L289.50,403.45 L289.63,403.80 L289.86,404.30 L290.11,404.80 L290.31,405.30 L290.37,405.80 L290.36,406.30 L290.35,406.80 L290.34,407.30 L290.26,407.80 L290.00,408.20 L289.75,408.49 L289.52,409.05 L289.40,409.55 L289.11,410.05 L288.75,410.47 L288.54,410.80 L288.25,411.24 L288.00,411.54 L287.75,411.84 L287.50,412.30 L287.26,412.80 L287.00,413.09 L286.65,413.30 L286.25,413.41 L285.75,413.46 L285.26,413.55 L284.77,413.80 L284.46,414.05 L284.17,414.30 L283.88,414.55 L283.59,414.80 L283.27,415.05Z" stroke-width="0.8"/><path d="M283.25,414.05 L282.75,414.18 L282.25,414.23 L281.75,414.19 L281.25,414.10 L280.75,413.99 L280.25,413.88 L279.75,413.71 L279.25,413.43 L278.75,413.10 L278.37,412.80 L278.00,412.37 L277.75,412.13 L277.39,411.80 L277.00,411.36 L276.75,411.06 L276.50,410.77 L276.25,410.36 L276.25,409.97 L276.50,409.62 L276.75,409.34 L277.00,408.85 L277.20,408.30 L277.43,407.80 L277.74,407.30 L278.00,406.80 L278.16,406.30 L278.36,405.80 L278.75,405.35 L279.00,405.08 L279.25,404.72 L279.47,404.30 L279.75,403.96 L280.25,403.73 L280.75,403.58 L281.25,403.39 L281.75,403.23 L282.25,403.20 L282.69,403.30 L283.25,403.48 L283.75,403.63 L284.25,403.69 L284.75,403.69 L285.25,403.70 L285.75,403.71 L286.25,403.72 L286.75,403.74 L287.25,403.74 L287.75,403.65 L288.25,403.57 L288.63,403.80 L289.00,404.27 L289.25,404.72 L289.42,405.05 L289.75,405.55 L289.95,406.05 L289.99,406.55 L289.92,407.05 L289.75,407.46 L289.50,407.78 L289.25,408.21 L289.15,408.55 L289.05,409.05 L288.86,409.55 L288.55,410.05 L288.25,410.53 L288.00,410.90 L287.75,411.19 L287.50,411.48 L287.29,411.80 L287.03,412.30 L286.75,412.72 L286.25,412.98 L285.79,413.05 L285.25,413.14 L284.83,413.30 L284.50,413.49 L284.00,413.78 L283.50,413.99Z" stroke-width="0.8"/><path d="M283.25,413.60 L282.75,413.68 L282.25,413.73 L281.75,413.70 L281.25,413.59 L280.75,413.46 L280.25,413.36 L279.75,413.17 L279.35,412.80 L279.18,412.30 L279.00,411.95 L278.50,411.72 L278.08,411.55 L277.75,411.34 L277.50,411.10 L277.29,410.80 L277.17,410.30 L277.45,409.80 L277.60,409.30 L277.62,408.80 L277.73,408.30 L277.96,407.80 L278.23,407.30 L278.43,406.80 L278.59,406.30 L278.75,405.97 L279.00,405.61 L279.25,405.31 L279.50,404.97 L279.75,404.57 L280.00,404.26 L280.31,404.05 L280.75,403.88 L281.25,403.73 L281.75,403.62 L282.25,403.59 L282.75,403.68 L283.15,403.80 L283.50,403.92 L284.00,404.03 L284.50,404.04 L285.00,404.05 L285.50,404.07 L286.00,404.07 L286.50,404.10 L287.00,404.17 L287.50,404.24 L288.00,404.37 L288.44,404.80 L288.62,405.30 L288.75,405.64 L289.00,405.92 L289.35,406.30 L289.32,406.80 L289.00,407.20 L288.80,407.55 L288.72,408.05 L288.71,408.55 L288.63,409.05 L288.50,409.39 L288.28,409.80 L288.00,410.26 L287.80,410.55 L287.50,410.90 L287.25,411.20 L287.01,411.55 L286.75,411.97 L286.50,412.29 L286.05,412.55 L285.50,412.69 L285.11,412.80 L284.75,412.94 L284.25,413.23 L283.75,413.48 L283.25,413.60Z" stroke-width="0.8"/><path d="M282.75,413.30 L282.25,413.34 L281.80,413.30 L281.25,413.15 L280.75,412.98 L280.25,412.81 L280.00,412.56 L279.89,412.05 L279.75,411.63 L279.25,411.30 L278.75,411.20 L278.27,411.05 L278.00,410.81 L277.96,410.30 L278.14,409.80 L278.18,409.30 L278.18,408.80 L278.25,408.46 L278.43,408.05 L278.68,407.55 L278.82,407.05 L278.94,406.55 L279.16,406.05 L279.50,405.55 L279.75,405.21 L280.00,404.84 L280.21,404.55 L280.50,404.30 L281.00,404.09 L281.50,403.98 L282.00,403.94 L282.50,403.99 L283.00,404.12 L283.50,404.29 L284.00,404.37 L284.50,404.36 L285.00,404.36 L285.50,404.39 L286.00,404.41 L286.50,404.46 L286.87,404.55 L287.25,404.73 L287.58,405.05 L287.69,405.55 L287.67,406.05 L287.71,406.55 L287.79,407.05 L287.92,407.55 L288.10,408.05 L288.24,408.55 L288.21,409.05 L288.01,409.55 L287.75,410.00 L287.54,410.30 L287.25,410.63 L287.00,410.93 L286.75,411.30 L286.50,411.66 L286.25,411.92 L285.75,412.20 L285.25,412.37 L284.75,412.55 L284.29,412.80 L283.87,413.05 L283.50,413.19 L283.00,413.28Z" stroke-width="0.8"/><path d="M283.25,412.87 L282.75,412.95 L282.25,412.97 L281.75,412.90 L281.25,412.70 L280.75,412.40 L280.51,412.05 L280.35,411.55 L280.00,411.18 L279.50,410.92 L279.00,410.72 L278.63,410.30 L278.62,409.80 L278.62,409.30 L278.68,408.80 L278.92,408.30 L279.21,407.80 L279.33,407.30 L279.40,406.80 L279.50,406.43 L279.67,406.05 L279.97,405.55 L280.25,405.11 L280.45,404.80 L280.70,404.55 L281.25,404.31 L281.75,404.26 L282.19,404.30 L282.75,404.43 L283.08,404.55 L283.50,404.67 L284.00,404.70 L284.50,404.68 L285.00,404.68 L285.50,404.73 L286.00,404.77 L286.50,404.88 L286.98,405.30 L287.08,405.80 L287.13,406.30 L287.22,406.80 L287.30,407.30 L287.40,407.80 L287.58,408.30 L287.73,408.80 L287.66,409.30 L287.50,409.66 L287.25,410.03 L287.00,410.30 L286.75,410.59 L286.50,410.95 L286.27,411.30 L286.00,411.59 L285.69,411.80 L285.25,411.99 L284.75,412.16 L284.39,412.30 L284.00,412.53 L283.50,412.80Z" stroke-width="0.8"/><path d="M282.50,412.57 L282.05,412.55 L281.50,412.32 L281.22,412.05 L281.00,411.57 L280.75,411.19 L280.25,410.85 L279.75,410.60 L279.31,410.30 L279.08,409.80 L279.06,409.30 L279.19,408.80 L279.48,408.30 L279.72,407.80 L279.88,407.30 L280.00,406.80 L280.16,406.30 L280.35,405.80 L280.59,405.30 L280.96,404.80 L281.50,404.60 L282.00,404.63 L282.50,404.76 L283.00,404.92 L283.50,405.03 L284.00,405.04 L284.50,405.02 L284.90,405.05 L285.25,405.12 L285.75,405.23 L286.25,405.43 L286.48,405.80 L286.62,406.30 L286.75,406.70 L286.84,407.05 L286.92,407.55 L286.98,408.05 L287.08,408.55 L287.13,409.05 L287.00,409.47 L286.76,409.80 L286.51,410.05 L286.25,410.38 L286.03,410.80 L285.75,411.21 L285.30,411.55 L284.75,411.75 L284.25,411.89 L283.89,412.05 L283.50,412.27 L283.00,412.48 L282.50,412.57Z" stroke-width="0.8"/><path d="M282.75,412.05 L282.25,412.07 L281.81,411.80 L281.58,411.30 L281.25,410.87 L280.75,410.61 L280.25,410.41 L279.75,410.08 L279.52,409.55 L279.62,409.05 L279.89,408.55 L280.13,408.05 L280.33,407.55 L280.50,407.12 L280.71,406.55 L280.82,406.05 L280.96,405.55 L281.25,405.14 L281.75,404.99 L282.11,405.05 L282.50,405.16 L283.00,405.29 L283.50,405.37 L284.00,405.41 L284.50,405.47 L285.00,405.64 L285.50,405.99 L285.81,406.30 L286.18,406.80 L286.41,407.30 L286.48,407.80 L286.45,408.30 L286.38,408.80 L286.25,409.19 L286.03,409.55 L285.75,410.04 L285.56,410.55 L285.25,411.04 L284.79,411.30 L284.25,411.45 L283.75,411.62 L283.36,411.80 L283.00,411.97Z" stroke-width="0.8"/><path d="M283.00,411.35 L282.56,411.30 L282.31,411.05 L282.00,410.62 L281.64,410.30 L281.25,410.12 L280.75,409.97 L280.42,409.80 L280.32,409.30 L280.74,408.80 L281.03,408.55 L281.25,408.18 L281.31,407.80 L281.35,407.30 L281.37,406.80 L281.39,406.30 L281.50,405.80 L281.84,405.55 L282.25,405.54 L282.75,405.63 L283.25,405.71 L283.70,405.80 L284.25,406.02 L284.65,406.30 L284.96,406.55 L285.23,406.80 L285.50,407.14 L285.68,407.55 L285.67,408.05 L285.51,408.55 L285.33,409.05 L285.20,409.55 L285.10,410.05 L284.88,410.55 L284.58,410.80 L284.25,410.94 L283.75,411.12 L283.25,411.30Z" stroke-width="0.8"/><path d="M283.50,409.86 L283.09,409.80 L282.75,409.57 L282.51,409.05 L282.53,408.55 L282.66,408.05 L282.66,407.55 L282.50,407.16 L282.38,406.80 L282.50,406.33 L283.00,406.27 L283.50,406.50 L283.75,406.76 L284.00,407.02 L284.49,407.30 L284.75,407.69 L284.75,408.04 L284.58,408.55 L284.40,409.05 L284.25,409.38 L284.00,409.66 L283.50,409.86Z" stroke-width="0.8"/></g>
<line x1="266.8" y1="424.7" x2="282" y2="424.7" stroke="#222" stroke-width="1" />
<text x="1.2" y="481.8" font-size="14.5" fill="#000" font-weight="bold" >D</text>
<text x="82.4" y="480.4" font-size="11.5" fill="#111" stroke="#111" stroke-width="0.18" textLength="25.6" lengthAdjust="spacingAndGlyphs" >ACH</text>
<rect x="71.2" y="491.2" width="89.2" height="84.8" fill="none" stroke="#555" stroke-width="0.7" />
<line x1="95.9" y1="491.2" x2="95.9" y2="576" stroke="#555" stroke-width="0.7" />
<line x1="71.2" y1="549.3" x2="160.4" y2="549.3" stroke="#555" stroke-width="0.7" />
<line x1="69.7" y1="576" x2="71.2" y2="576" stroke="#777" stroke-width="0.5" />
<line x1="71.2" y1="576" x2="71.2" y2="577.5" stroke="#777" stroke-width="0.5" />
<text x="71.8" y="583.4" font-size="5" fill="#333" text-anchor="middle" >10<tspan font-size="3.4" dy="-1.9">0</tspan></text>
<text x="69.6" y="579" font-size="5" fill="#333" text-anchor="end" >10<tspan font-size="3.4" dy="-1.9">4</tspan></text>
<line x1="69.7" y1="554.8" x2="71.2" y2="554.8" stroke="#777" stroke-width="0.5" />
<line x1="93.5" y1="576" x2="93.5" y2="577.5" stroke="#777" stroke-width="0.5" />
<text x="94.1" y="583.4" font-size="5" fill="#333" text-anchor="middle" >10<tspan font-size="3.4" dy="-1.9">1</tspan></text>
<text x="69.6" y="557.8" font-size="5" fill="#333" text-anchor="end" >10<tspan font-size="3.4" dy="-1.9">3</tspan></text>
<line x1="69.7" y1="533.6" x2="71.2" y2="533.6" stroke="#777" stroke-width="0.5" />
<line x1="115.8" y1="576" x2="115.8" y2="577.5" stroke="#777" stroke-width="0.5" />
<text x="116.4" y="583.4" font-size="5" fill="#333" text-anchor="middle" >10<tspan font-size="3.4" dy="-1.9">2</tspan></text>
<text x="69.6" y="536.6" font-size="5" fill="#333" text-anchor="end" >10<tspan font-size="3.4" dy="-1.9">2</tspan></text>
<line x1="69.7" y1="512.4" x2="71.2" y2="512.4" stroke="#777" stroke-width="0.5" />
<line x1="138.1" y1="576" x2="138.1" y2="577.5" stroke="#777" stroke-width="0.5" />
<text x="138.7" y="583.4" font-size="5" fill="#333" text-anchor="middle" >10<tspan font-size="3.4" dy="-1.9">3</tspan></text>
<text x="69.6" y="515.4" font-size="5" fill="#333" text-anchor="end" >10<tspan font-size="3.4" dy="-1.9">1</tspan></text>
<line x1="69.7" y1="491.2" x2="71.2" y2="491.2" stroke="#777" stroke-width="0.5" />
<line x1="160.4" y1="576" x2="160.4" y2="577.5" stroke="#777" stroke-width="0.5" />
<text x="161" y="583.4" font-size="5" fill="#333" text-anchor="middle" >10<tspan font-size="3.4" dy="-1.9">4</tspan></text>
<text x="69.6" y="494.2" font-size="5" fill="#333" text-anchor="end" >10<tspan font-size="3.4" dy="-1.9">0</tspan></text>
<text x="126" y="505" font-size="10" fill="#111" stroke="#111" stroke-width="0.18" >8hrs</text>
<g fill="none" stroke="#111" stroke-linejoin="round"><path d="M83.45,576.00 L82.95,576.00 L82.45,576.00 L81.95,576.00 L81.52,576.00 L81.05,575.95 L80.70,575.84 L80.20,575.73 L79.70,575.57 L79.20,575.37 L78.70,575.26 L78.20,575.21 L77.70,575.18 L77.20,575.14 L76.70,575.13 L76.20,575.10 L75.70,575.12 L75.20,575.14 L74.70,575.11 L74.20,575.07 L73.70,575.01 L73.20,574.87 L72.84,574.70 L72.55,574.45 L72.30,573.95 L71.99,573.45 L71.70,573.15 L71.46,572.70 L71.65,572.20 L71.94,571.70 L72.05,571.20 L72.04,570.70 L71.95,570.27 L71.83,569.70 L71.79,569.20 L71.83,568.70 L71.86,568.20 L71.78,567.70 L71.70,567.20 L71.79,566.70 L71.95,566.32 L72.08,565.95 L72.25,565.45 L72.37,564.95 L72.41,564.45 L72.31,563.95 L72.20,563.45 L72.22,562.95 L72.31,562.45 L72.33,561.95 L72.28,561.45 L72.20,560.95 L72.18,560.45 L72.30,559.95 L72.45,559.62 L72.69,559.20 L72.95,558.83 L73.20,558.45 L73.40,557.95 L73.52,557.45 L73.58,556.95 L73.57,556.45 L73.52,555.95 L73.63,555.45 L73.85,554.95 L74.01,554.45 L74.16,553.95 L74.45,553.52 L74.95,553.31 L75.31,553.20 L75.70,552.99 L75.99,552.70 L76.20,552.34 L76.33,551.95 L76.42,551.45 L76.46,550.95 L76.59,550.45 L76.86,550.20 L77.20,550.09 L77.70,550.01 L78.20,549.82 L78.70,549.46 L79.11,549.20 L79.45,549.09 L79.95,549.13 L80.45,549.23 L80.95,549.25 L81.45,549.24 L81.95,549.26 L82.45,549.35 L82.81,549.45 L83.20,549.53 L83.70,549.54 L84.08,549.45 L84.45,549.31 L84.85,549.20 L85.20,549.18 L85.70,549.28 L86.20,549.39 L86.70,549.33 L87.03,549.20 L87.45,548.98 L87.95,548.94 L88.45,549.03 L88.81,549.20 L89.07,549.45 L89.45,549.93 L89.86,550.20 L90.41,550.20 L90.85,549.95 L91.20,549.72 L91.70,549.48 L92.20,549.27 L92.70,549.03 L93.08,548.95 L93.45,548.95 L93.95,549.05 L94.29,549.20 L94.67,549.45 L94.95,549.69 L95.20,549.95 L95.45,550.26 L95.70,550.60 L95.94,550.95 L96.15,551.45 L96.21,551.95 L96.19,552.45 L96.15,552.95 L96.10,553.45 L96.08,553.95 L95.95,554.35 L95.45,554.43 L94.95,554.62 L94.59,554.95 L94.41,555.45 L94.53,555.95 L94.84,556.45 L95.05,556.95 L94.95,557.45 L94.79,557.95 L94.70,558.45 L94.84,558.95 L95.17,559.45 L95.45,559.84 L95.68,560.20 L95.85,560.70 L95.82,561.20 L95.70,561.65 L95.61,562.20 L95.59,562.70 L95.54,563.20 L95.34,563.70 L95.20,564.10 L95.13,564.45 L94.95,564.88 L94.73,565.20 L94.45,565.58 L94.27,565.95 L94.18,566.45 L94.10,566.95 L93.76,567.45 L93.50,567.70 L93.20,568.15 L92.98,568.70 L92.79,569.20 L92.67,569.70 L92.64,570.20 L92.55,570.70 L92.20,571.11 L91.70,571.20 L91.20,571.15 L90.70,571.18 L90.29,571.45 L89.98,571.95 L89.84,572.45 L89.70,572.80 L89.45,573.07 L88.95,573.44 L88.71,573.70 L88.45,574.14 L88.20,574.61 L87.95,574.87 L87.45,575.13 L86.95,575.30 L86.45,575.44 L85.95,575.53 L85.45,575.58 L84.95,575.64 L84.45,575.79 L84.07,575.95 L83.70,576.00Z" stroke-width="0.62"/><path d="M85.70,574.57 L85.20,574.67 L84.70,574.65 L84.20,574.54 L83.70,574.35 L83.20,574.22 L82.70,574.30 L82.30,574.45 L81.95,574.55 L81.45,574.54 L80.95,574.40 L80.45,574.24 L79.95,574.16 L79.45,574.12 L78.95,574.07 L78.45,574.00 L77.95,573.83 L77.45,573.57 L76.95,573.34 L76.58,573.20 L76.20,573.01 L75.85,572.70 L75.74,572.20 L75.72,571.70 L75.63,571.20 L75.48,570.70 L75.31,570.20 L75.09,569.70 L74.75,569.20 L74.45,568.80 L74.24,568.45 L74.08,567.95 L73.95,567.59 L73.71,567.20 L73.45,566.89 L73.20,566.53 L73.13,565.95 L73.33,565.45 L73.68,564.95 L73.85,564.45 L73.72,563.95 L73.47,563.45 L73.38,562.95 L73.39,562.45 L73.36,561.95 L73.30,561.45 L73.30,560.95 L73.38,560.45 L73.57,559.95 L73.81,559.45 L74.02,558.95 L74.20,558.53 L74.38,558.20 L74.70,557.70 L74.95,557.31 L75.11,556.95 L75.25,556.45 L75.33,555.95 L75.45,555.51 L75.70,555.10 L76.16,554.70 L76.45,554.48 L76.86,554.20 L77.20,553.99 L77.61,553.70 L77.87,553.45 L78.20,553.04 L78.45,552.74 L78.70,552.30 L78.88,551.95 L79.20,551.58 L79.45,551.27 L79.70,551.00 L80.12,550.70 L80.45,550.56 L80.79,550.45 L81.20,550.33 L81.70,550.26 L82.20,550.34 L82.57,550.45 L82.95,550.52 L83.45,550.53 L83.95,550.50 L84.45,550.48 L84.95,550.49 L85.45,550.56 L85.87,550.70 L86.20,550.84 L86.70,551.03 L87.20,551.06 L87.62,550.95 L88.20,550.82 L88.70,550.91 L89.20,551.18 L89.55,551.45 L89.95,551.93 L90.20,552.31 L90.70,552.60 L91.20,552.55 L91.65,552.45 L92.20,552.34 L92.70,552.25 L93.20,552.29 L93.54,552.45 L93.85,552.70 L93.90,553.20 L93.70,553.57 L93.49,553.95 L93.23,554.45 L93.05,554.95 L92.95,555.45 L92.93,555.95 L92.95,556.45 L92.92,556.95 L92.89,557.45 L92.90,557.95 L92.95,558.39 L93.18,558.95 L93.45,559.32 L93.70,559.70 L93.90,560.20 L94.01,560.70 L94.17,561.20 L94.23,561.70 L94.15,562.20 L94.00,562.70 L93.88,563.20 L93.75,563.70 L93.60,564.20 L93.35,564.70 L93.10,565.20 L92.95,565.54 L92.76,565.95 L92.47,566.45 L92.20,566.83 L91.95,567.19 L91.76,567.70 L91.66,568.20 L91.45,568.68 L91.20,568.93 L90.70,569.19 L90.30,569.45 L90.01,569.70 L89.70,570.02 L89.45,570.29 L89.20,570.54 L88.75,570.95 L88.45,571.27 L88.20,571.60 L87.96,571.95 L87.70,572.32 L87.45,572.60 L87.06,572.95 L86.70,573.39 L86.52,573.70 L86.21,574.20 L85.93,574.45Z" stroke-width="0.62"/><path d="M81.70,572.50 L81.20,572.59 L80.70,572.59 L80.20,572.54 L79.76,572.45 L79.20,572.29 L78.70,571.98 L78.42,571.70 L78.16,571.45 L77.89,571.20 L77.59,570.95 L77.29,570.70 L77.02,570.45 L76.70,570.02 L76.55,569.70 L76.45,569.28 L76.25,568.70 L75.99,568.20 L75.81,567.70 L75.70,567.37 L75.48,566.95 L75.20,566.60 L74.95,566.26 L74.78,565.70 L74.84,565.20 L74.94,564.70 L74.92,564.20 L74.77,563.70 L74.59,563.20 L74.56,562.70 L74.69,562.20 L74.92,561.70 L75.09,561.20 L75.16,560.70 L75.20,560.35 L75.25,559.95 L75.37,559.45 L75.62,558.95 L75.92,558.45 L76.12,557.95 L76.30,557.45 L76.45,557.06 L76.58,556.70 L76.69,556.20 L76.82,555.70 L77.17,555.20 L77.43,554.95 L77.76,554.70 L78.15,554.45 L78.45,554.26 L78.94,553.95 L79.37,553.70 L79.70,553.52 L80.20,553.22 L80.55,552.95 L80.95,552.46 L81.04,551.95 L81.45,551.53 L81.95,551.57 L82.45,551.61 L82.95,551.55 L83.45,551.45 L83.95,551.39 L84.45,551.41 L84.95,551.49 L85.45,551.65 L85.95,551.92 L86.35,552.20 L86.70,552.45 L87.16,552.70 L87.62,552.95 L87.95,553.15 L88.38,553.45 L88.70,553.65 L89.15,553.95 L89.61,554.20 L89.95,554.31 L90.45,554.41 L90.88,554.70 L91.09,555.20 L91.18,555.70 L91.33,556.20 L91.51,556.70 L91.55,557.20 L91.48,557.70 L91.43,558.20 L91.48,558.70 L91.63,559.20 L91.81,559.70 L91.92,560.20 L91.91,560.70 L91.90,561.20 L92.00,561.70 L92.20,562.09 L92.45,562.44 L92.70,562.86 L92.75,563.45 L92.50,563.95 L92.20,564.45 L91.95,564.89 L91.70,565.19 L91.39,565.45 L91.06,565.70 L90.75,565.95 L90.45,566.40 L90.41,566.95 L90.41,567.45 L90.20,567.83 L89.70,568.18 L89.28,568.45 L88.99,568.70 L88.70,569.01 L88.45,569.27 L87.95,569.68 L87.63,569.95 L87.30,570.45 L87.04,570.95 L86.70,571.32 L86.20,571.64 L85.70,571.89 L85.20,572.10 L84.86,572.20 L84.45,572.30 L83.95,572.40 L83.45,572.44 L82.95,572.40 L82.45,572.38 L81.95,572.44Z" stroke-width="0.62"/><path d="M85.20,568.54 L84.70,568.69 L84.20,568.64 L83.89,568.45 L83.54,568.20 L83.20,568.05 L82.70,568.03 L82.20,568.15 L81.70,568.17 L81.20,568.10 L80.70,568.07 L80.20,568.06 L79.70,567.79 L79.37,567.45 L79.04,566.95 L78.81,566.45 L78.53,565.95 L78.20,565.46 L77.95,564.98 L77.79,564.45 L77.64,563.95 L77.50,563.45 L77.40,562.95 L77.38,562.45 L77.37,561.95 L77.30,561.45 L77.20,561.03 L77.19,560.45 L77.45,560.00 L77.78,559.70 L78.14,559.20 L78.30,558.70 L78.45,558.22 L78.64,557.70 L78.81,557.20 L78.95,556.78 L79.19,556.20 L79.45,555.90 L79.83,555.70 L80.20,555.58 L80.59,555.45 L80.95,555.29 L81.45,554.97 L81.79,554.70 L82.07,554.45 L82.36,554.20 L82.70,553.97 L83.20,553.76 L83.70,553.64 L84.20,553.56 L84.70,553.58 L85.04,553.70 L85.45,553.90 L85.88,554.20 L86.16,554.45 L86.42,554.70 L86.68,554.95 L86.92,555.20 L87.18,555.45 L87.45,555.68 L87.77,555.95 L88.02,556.20 L88.45,556.69 L88.69,556.95 L88.95,557.25 L89.20,557.67 L89.30,558.20 L89.24,558.70 L89.12,559.20 L89.04,559.70 L89.00,560.20 L88.98,560.70 L88.99,561.20 L89.05,561.70 L89.11,562.20 L89.16,562.70 L89.20,563.12 L89.32,563.70 L89.45,564.20 L89.38,564.70 L89.03,565.20 L88.78,565.45 L88.50,565.70 L88.23,565.95 L87.95,566.24 L87.70,566.52 L87.45,566.80 L87.20,567.09 L86.95,567.39 L86.70,567.65 L86.28,567.95 L85.95,568.14 L85.45,568.41Z" stroke-width="0.8"/><path d="M84.95,567.98 L84.45,568.00 L83.95,567.81 L83.45,567.58 L82.98,567.45 L82.45,567.48 L81.95,567.61 L81.45,567.60 L80.95,567.50 L80.45,567.36 L80.12,567.20 L79.81,566.95 L79.45,566.52 L79.23,566.20 L78.95,565.77 L78.75,565.45 L78.48,564.95 L78.24,564.45 L78.02,563.95 L77.84,563.45 L77.74,562.95 L77.74,562.45 L77.80,561.95 L77.82,561.45 L77.78,560.95 L77.86,560.45 L78.20,559.97 L78.45,559.51 L78.63,558.95 L78.79,558.45 L78.95,557.99 L79.09,557.45 L79.20,557.01 L79.43,556.45 L79.70,556.18 L80.20,555.98 L80.70,555.85 L81.06,555.70 L81.45,555.46 L81.77,555.20 L82.08,554.95 L82.40,554.70 L82.70,554.51 L83.20,554.30 L83.70,554.15 L84.20,554.07 L84.70,554.11 L85.20,554.32 L85.70,554.67 L86.04,554.95 L86.34,555.20 L86.60,555.45 L86.87,555.70 L87.16,555.95 L87.45,556.18 L87.75,556.45 L88.17,556.95 L88.45,557.30 L88.70,557.62 L88.88,557.95 L88.94,558.45 L88.84,558.95 L88.71,559.45 L88.64,559.95 L88.62,560.45 L88.61,560.95 L88.63,561.45 L88.68,561.95 L88.73,562.45 L88.74,562.95 L88.77,563.45 L88.88,563.95 L88.93,564.45 L88.72,564.95 L88.45,565.26 L88.20,565.51 L87.95,565.78 L87.70,566.06 L87.45,566.33 L87.20,566.58 L86.95,566.83 L86.70,567.08 L86.26,567.45 L85.95,567.63 L85.45,567.83 L85.06,567.95Z" stroke-width="0.8"/><path d="M84.95,567.46 L84.45,567.50 L83.95,567.38 L83.47,567.20 L82.95,567.06 L82.45,567.03 L81.95,567.07 L81.45,567.05 L80.95,566.95 L80.45,566.78 L79.97,566.45 L79.70,566.17 L79.45,565.84 L79.21,565.45 L78.97,564.95 L78.75,564.45 L78.47,563.95 L78.20,563.45 L78.07,562.95 L78.08,562.45 L78.18,561.95 L78.29,561.45 L78.35,560.95 L78.45,560.57 L78.60,560.20 L78.81,559.70 L78.95,559.23 L79.13,558.70 L79.32,558.20 L79.43,557.70 L79.50,557.20 L79.70,556.70 L80.03,556.45 L80.45,556.34 L80.95,556.25 L81.45,556.04 L81.87,555.70 L82.16,555.45 L82.45,555.24 L82.95,555.01 L83.45,554.81 L83.95,554.62 L84.45,554.61 L84.95,554.82 L85.45,555.13 L85.95,555.43 L86.33,555.70 L86.64,555.95 L86.95,556.19 L87.28,556.45 L87.53,556.70 L87.88,557.20 L88.20,557.67 L88.45,558.04 L88.56,558.45 L88.49,558.95 L88.37,559.45 L88.33,559.95 L88.32,560.45 L88.28,560.95 L88.25,561.45 L88.30,561.95 L88.35,562.45 L88.33,562.95 L88.34,563.45 L88.43,563.95 L88.46,564.45 L88.24,564.95 L87.95,565.29 L87.70,565.60 L87.45,565.91 L87.20,566.18 L86.91,566.45 L86.63,566.70 L86.32,566.95 L85.95,567.18 L85.45,567.35 L85.01,567.45Z" stroke-width="0.8"/><path d="M85.20,566.98 L84.70,567.06 L84.20,567.07 L83.70,566.95 L83.20,566.81 L82.71,566.70 L82.20,566.66 L81.70,566.64 L81.20,566.57 L80.80,566.45 L80.45,566.31 L79.98,565.95 L79.70,565.60 L79.48,565.20 L79.30,564.70 L79.20,564.35 L79.03,563.95 L78.71,563.45 L78.47,562.95 L78.47,562.45 L78.59,561.95 L78.70,561.45 L78.82,560.95 L78.95,560.59 L79.14,560.20 L79.35,559.70 L79.51,559.20 L79.70,558.77 L79.87,558.45 L80.02,557.95 L80.03,557.45 L80.20,557.07 L80.70,556.94 L81.20,556.90 L81.54,556.70 L81.80,556.45 L82.20,556.02 L82.59,555.70 L82.95,555.51 L83.45,555.31 L83.95,555.13 L84.45,555.13 L84.95,555.34 L85.45,555.59 L85.95,555.86 L86.45,556.20 L86.79,556.45 L87.10,556.70 L87.45,557.16 L87.70,557.70 L87.95,558.17 L88.11,558.70 L88.06,559.20 L88.03,559.70 L88.05,560.20 L88.00,560.70 L87.87,561.20 L87.82,561.70 L87.90,562.20 L87.93,562.70 L87.94,563.20 L88.01,563.70 L88.06,564.20 L87.95,564.68 L87.70,565.07 L87.45,565.44 L87.20,565.78 L86.95,566.05 L86.47,566.45 L86.09,566.70 L85.70,566.87 L85.35,566.95Z" stroke-width="0.8"/><path d="M85.70,566.48 L85.20,566.56 L84.70,566.64 L84.20,566.70 L83.70,566.64 L83.20,566.52 L82.70,566.42 L82.20,566.36 L81.70,566.31 L81.20,566.21 L80.70,566.05 L80.20,565.71 L79.95,565.37 L79.76,564.95 L79.62,564.45 L79.49,563.95 L79.31,563.45 L79.08,562.95 L78.99,562.45 L79.03,561.95 L79.13,561.45 L79.38,560.95 L79.70,560.61 L79.95,560.33 L80.07,559.95 L80.15,559.45 L80.32,558.95 L80.65,558.45 L80.95,558.11 L81.43,557.70 L81.70,557.42 L81.95,557.04 L82.15,556.70 L82.45,556.31 L82.90,555.95 L83.45,555.70 L83.95,555.55 L84.45,555.55 L84.88,555.70 L85.20,555.84 L85.70,556.10 L86.20,556.41 L86.62,556.70 L86.90,556.95 L87.20,557.42 L87.38,557.95 L87.56,558.45 L87.66,558.95 L87.69,559.45 L87.74,559.95 L87.73,560.45 L87.55,560.95 L87.33,561.45 L87.36,561.95 L87.45,562.31 L87.53,562.70 L87.60,563.20 L87.68,563.70 L87.71,564.20 L87.55,564.70 L87.26,565.20 L86.95,565.66 L86.70,565.93 L86.33,566.20 L85.95,566.40Z" stroke-width="0.8"/><path d="M84.70,566.24 L84.20,566.34 L83.70,566.35 L83.20,566.26 L82.70,566.17 L82.20,566.10 L81.70,566.02 L81.20,565.90 L80.71,565.70 L80.41,565.45 L80.20,565.15 L80.02,564.70 L79.89,564.20 L79.78,563.70 L79.70,563.27 L79.56,562.70 L79.48,562.20 L79.52,561.70 L79.70,561.36 L80.17,560.95 L80.45,560.62 L80.56,560.20 L80.57,559.70 L80.67,559.20 L80.95,558.72 L81.20,558.47 L81.52,558.20 L81.79,557.95 L82.14,557.45 L82.39,556.95 L82.70,556.53 L83.14,556.20 L83.70,555.98 L84.20,555.90 L84.57,555.95 L84.95,556.08 L85.45,556.34 L85.95,556.64 L86.40,556.95 L86.67,557.20 L86.94,557.70 L87.07,558.20 L87.17,558.70 L87.24,559.20 L87.32,559.70 L87.38,560.20 L87.23,560.70 L86.95,561.14 L86.89,561.70 L87.04,562.20 L87.18,562.70 L87.30,563.20 L87.39,563.70 L87.39,564.20 L87.21,564.70 L86.95,565.18 L86.70,565.54 L86.20,565.94 L85.70,566.11 L85.20,566.16 L84.70,566.24Z" stroke-width="0.8"/><path d="M84.20,566.01 L83.70,566.06 L83.20,566.00 L82.70,565.92 L82.20,565.84 L81.70,565.73 L81.20,565.57 L80.70,565.26 L80.48,564.95 L80.27,564.45 L80.14,563.95 L80.06,563.45 L80.01,562.95 L79.95,562.55 L79.89,562.20 L79.95,561.78 L80.17,561.45 L80.45,561.20 L80.70,560.95 L80.92,560.45 L80.93,559.95 L80.95,559.53 L81.20,558.96 L81.45,558.71 L81.78,558.45 L82.04,558.20 L82.37,557.70 L82.61,557.20 L82.95,556.74 L83.42,556.45 L83.95,556.29 L84.45,556.29 L84.95,556.45 L85.38,556.70 L85.70,556.92 L86.11,557.20 L86.36,557.45 L86.59,557.95 L86.65,558.45 L86.61,558.95 L86.65,559.45 L86.79,559.95 L86.75,560.45 L86.51,560.95 L86.47,561.45 L86.60,561.95 L86.79,562.45 L86.95,562.95 L87.07,563.45 L87.12,563.95 L87.01,564.45 L86.76,564.95 L86.45,565.38 L85.95,565.70 L85.45,565.79 L84.95,565.84 L84.45,565.95Z" stroke-width="0.8"/><path d="M84.20,565.70 L83.70,565.77 L83.20,565.74 L82.70,565.67 L82.20,565.57 L81.80,565.45 L81.45,565.29 L80.96,564.95 L80.70,564.58 L80.53,564.20 L80.39,563.70 L80.35,563.20 L80.32,562.70 L80.27,562.20 L80.42,561.70 L80.70,561.40 L80.95,561.13 L81.20,560.74 L81.32,560.20 L81.32,559.70 L81.45,559.30 L81.70,559.02 L82.07,558.70 L82.45,558.25 L82.70,557.75 L82.95,557.27 L83.20,557.00 L83.70,556.75 L84.20,556.67 L84.70,556.77 L85.02,556.95 L85.33,557.20 L85.62,557.45 L85.95,557.94 L85.85,558.45 L85.70,558.86 L85.81,559.45 L86.04,559.95 L86.11,560.45 L86.05,560.95 L86.10,561.45 L86.27,561.95 L86.45,562.36 L86.58,562.70 L86.70,563.08 L86.78,563.45 L86.81,563.95 L86.70,564.38 L86.54,564.70 L86.20,565.17 L85.70,565.42 L85.20,565.48 L84.70,565.56 L84.20,565.70Z" stroke-width="0.8"/><path d="M83.70,565.48 L83.20,565.47 L82.70,565.40 L82.20,565.26 L81.70,564.97 L81.39,564.70 L80.96,564.20 L80.73,563.70 L80.66,563.20 L80.63,562.70 L80.63,562.20 L80.84,561.70 L81.20,561.29 L81.45,560.97 L81.70,560.56 L81.85,560.20 L81.95,559.73 L82.20,559.34 L82.45,559.01 L82.63,558.70 L82.87,558.20 L83.12,557.70 L83.45,557.33 L83.95,557.14 L84.45,557.18 L84.82,557.45 L85.05,557.95 L85.04,558.45 L85.05,558.95 L85.20,559.45 L85.44,559.95 L85.58,560.45 L85.64,560.95 L85.76,561.45 L85.94,561.95 L86.15,562.45 L86.33,562.95 L86.45,563.42 L86.45,563.93 L86.26,564.45 L85.95,564.87 L85.45,565.10 L84.95,565.19 L84.45,565.32 L83.95,565.45Z" stroke-width="0.8"/></g>
<rect x="168.5" y="490.8" width="88.5" height="84.4" fill="none" stroke="#555" stroke-width="0.7" />
<line x1="193.8" y1="490.8" x2="193.8" y2="575.2" stroke="#555" stroke-width="0.7" />
<line x1="168.5" y1="549.2" x2="257" y2="549.2" stroke="#555" stroke-width="0.7" />
<line x1="167" y1="575.2" x2="168.5" y2="575.2" stroke="#777" stroke-width="0.5" />
<line x1="168.5" y1="575.2" x2="168.5" y2="576.7" stroke="#777" stroke-width="0.5" />
<text x="169.1" y="582.6" font-size="5" fill="#333" text-anchor="middle" >10<tspan font-size="3.4" dy="-1.9">0</tspan></text>
<line x1="167" y1="554.1" x2="168.5" y2="554.1" stroke="#777" stroke-width="0.5" />
<line x1="190.62" y1="575.2" x2="190.62" y2="576.7" stroke="#777" stroke-width="0.5" />
<text x="191.22" y="582.6" font-size="5" fill="#333" text-anchor="middle" >10<tspan font-size="3.4" dy="-1.9">1</tspan></text>
<line x1="167" y1="533" x2="168.5" y2="533" stroke="#777" stroke-width="0.5" />
<line x1="212.75" y1="575.2" x2="212.75" y2="576.7" stroke="#777" stroke-width="0.5" />
<text x="213.35" y="582.6" font-size="5" fill="#333" text-anchor="middle" >10<tspan font-size="3.4" dy="-1.9">2</tspan></text>
<line x1="167" y1="511.9" x2="168.5" y2="511.9" stroke="#777" stroke-width="0.5" />
<line x1="234.88" y1="575.2" x2="234.88" y2="576.7" stroke="#777" stroke-width="0.5" />
<text x="235.47" y="582.6" font-size="5" fill="#333" text-anchor="middle" >10<tspan font-size="3.4" dy="-1.9">3</tspan></text>
<line x1="167" y1="490.8" x2="168.5" y2="490.8" stroke="#777" stroke-width="0.5" />
<line x1="257" y1="575.2" x2="257" y2="576.7" stroke="#777" stroke-width="0.5" />
<text x="257.6" y="582.6" font-size="5" fill="#333" text-anchor="middle" >10<tspan font-size="3.4" dy="-1.9">4</tspan></text>
<text x="219.6" y="505" font-size="10" fill="#111" stroke="#111" stroke-width="0.18" >32hrs</text>
<g fill="none" stroke="#111" stroke-linejoin="round"><path d="M182.50,575.20 L182.00,575.20 L181.50,575.20 L181.00,575.20 L180.50,575.20 L180.00,575.20 L179.50,575.20 L179.00,575.20 L178.50,575.20 L178.00,575.20 L177.50,575.20 L177.00,575.20 L176.50,575.20 L176.00,575.20 L175.50,575.20 L175.00,575.20 L174.50,575.20 L174.00,575.20 L173.50,575.20 L173.00,575.20 L172.50,575.20 L172.00,575.20 L171.50,575.20 L171.00,575.20 L170.50,575.20 L170.00,575.20 L169.50,575.20 L169.10,575.05 L168.80,574.80 L168.50,574.60 L168.50,574.05 L168.50,573.55 L168.50,573.05 L168.50,572.55 L168.50,572.05 L168.50,571.55 L168.50,571.05 L168.50,570.55 L168.50,570.05 L168.50,569.55 L168.50,569.05 L168.50,568.55 L168.50,568.05 L168.50,567.55 L168.50,567.05 L168.50,566.55 L168.50,566.05 L168.50,565.55 L168.50,565.05 L168.50,564.55 L168.50,564.05 L168.50,563.55 L168.50,563.05 L168.50,562.55 L168.50,562.05 L168.50,561.55 L168.50,561.05 L168.50,560.55 L168.50,560.05 L168.50,559.55 L168.50,559.05 L168.50,558.55 L168.50,558.05 L168.75,557.57 L169.08,557.30 L169.34,557.05 L169.74,556.55 L170.00,556.25 L170.29,556.05 L170.75,555.88 L171.25,555.72 L171.57,555.55 L171.94,555.30 L172.25,555.09 L172.75,554.81 L173.25,554.65 L173.75,554.56 L174.25,554.34 L174.57,554.05 L174.88,553.80 L175.25,553.61 L175.75,553.43 L176.08,553.30 L176.50,553.14 L176.85,553.05 L177.25,552.99 L177.75,552.98 L178.25,553.04 L178.75,553.15 L179.25,553.29 L179.75,553.46 L180.09,553.55 L180.50,553.59 L181.00,553.43 L181.50,553.12 L182.00,552.85 L182.50,552.73 L183.00,552.69 L183.50,552.56 L183.94,552.30 L184.25,552.06 L184.57,551.80 L184.94,551.55 L185.50,551.36 L186.00,551.34 L186.50,551.38 L187.00,551.39 L187.38,551.30 L187.75,551.06 L188.04,550.80 L188.50,550.57 L189.00,550.46 L189.50,550.39 L189.98,550.30 L190.50,550.11 L190.99,549.80 L191.30,549.55 L191.61,549.30 L191.94,549.05 L192.25,548.85 L192.69,548.55 L193.00,548.34 L193.44,548.05 L193.75,547.84 L194.12,547.55 L194.50,547.14 L194.75,546.87 L195.25,546.57 L195.75,546.34 L196.16,546.05 L196.42,545.80 L196.67,545.55 L196.95,545.30 L197.25,545.11 L197.75,544.96 L198.25,544.99 L198.75,545.12 L199.25,545.26 L199.75,545.31 L200.25,545.21 L200.75,544.88 L201.00,544.63 L201.42,544.30 L201.75,544.14 L202.25,543.94 L202.67,543.80 L203.25,543.74 L203.70,543.80 L204.25,543.86 L204.75,543.89 L205.25,543.92 L205.75,543.93 L206.25,543.84 L206.75,543.60 L207.25,543.30 L207.74,543.05 L208.25,542.90 L208.75,542.87 L209.25,542.92 L209.75,543.03 L210.12,543.30 L210.25,543.64 L210.34,544.05 L210.45,544.55 L210.37,545.05 L210.00,545.49 L209.63,545.80 L209.27,546.05 L208.75,546.23 L208.25,546.26 L207.75,546.26 L207.25,546.36 L206.85,546.55 L206.50,546.78 L206.17,547.05 L205.90,547.30 L205.64,547.55 L205.38,547.80 L205.00,548.26 L204.76,548.55 L204.47,548.80 L204.00,549.04 L203.50,549.27 L203.12,549.55 L202.85,549.80 L202.50,550.26 L202.26,550.80 L202.07,551.30 L201.80,551.80 L201.50,552.17 L201.25,552.42 L200.81,552.80 L200.50,553.03 L200.15,553.30 L199.84,553.55 L199.50,553.78 L199.00,554.02 L198.50,554.21 L198.00,554.42 L197.50,554.80 L197.25,555.12 L197.00,555.44 L196.75,555.70 L196.34,556.05 L196.03,556.30 L195.69,556.55 L195.27,556.80 L194.75,557.03 L194.25,557.25 L193.75,557.52 L193.41,557.80 L193.00,558.30 L192.75,558.63 L192.50,558.91 L192.25,559.20 L192.02,559.55 L191.84,560.05 L191.75,560.41 L191.66,560.80 L191.57,561.30 L191.50,561.65 L191.40,562.05 L191.25,562.41 L191.09,562.80 L191.03,563.30 L191.08,563.80 L191.12,564.30 L191.04,564.80 L190.75,565.12 L190.33,565.30 L189.81,565.30 L189.25,565.14 L188.75,565.11 L188.34,565.30 L188.00,565.75 L187.87,566.30 L187.87,566.80 L187.93,567.30 L187.92,567.80 L187.82,568.30 L187.69,568.80 L187.59,569.30 L187.50,569.67 L187.35,570.05 L187.09,570.55 L186.92,571.05 L186.81,571.55 L186.66,572.05 L186.50,572.38 L186.25,572.77 L186.00,573.05 L185.69,573.30 L185.25,573.55 L184.75,573.72 L184.25,573.87 L183.79,574.05 L183.42,574.30 L183.02,574.80 L182.75,575.20Z" stroke-width="0.62"/><path d="M198.75,549.57 L198.75,549.16 L199.00,548.88 L199.39,548.55 L199.75,548.37 L200.25,548.24 L200.75,548.19 L201.25,548.06 L201.75,547.94 L201.88,548.30 L201.50,548.72 L201.00,548.87 L200.50,548.88 L200.00,548.89 L199.54,549.05 L199.08,549.30 L198.77,549.55Z" stroke-width="0.62"/><path d="M179.25,575.20 L178.75,575.20 L178.25,575.20 L177.75,575.20 L177.25,575.20 L176.75,575.20 L176.25,575.20 L175.75,575.20 L175.25,575.20 L174.75,575.20 L174.25,575.20 L173.75,575.20 L173.25,575.20 L172.75,575.20 L172.25,575.20 L171.75,575.20 L171.25,575.20 L170.80,575.05 L170.50,574.72 L170.25,574.46 L170.00,574.20 L169.75,573.94 L169.33,573.55 L169.07,573.30 L168.75,572.86 L168.51,572.30 L168.50,571.80 L168.50,571.30 L168.50,570.80 L168.50,570.30 L168.50,569.80 L168.50,569.30 L168.50,568.80 L168.50,568.30 L168.50,567.80 L168.50,567.30 L168.50,566.80 L168.50,566.30 L168.50,565.80 L168.50,565.30 L168.50,564.80 L168.50,564.30 L168.50,563.80 L168.50,563.30 L168.50,562.80 L168.50,562.30 L168.50,561.80 L168.50,561.30 L168.50,560.80 L168.50,560.30 L168.50,559.80 L168.75,559.41 L169.13,559.30 L169.50,559.19 L169.85,559.05 L170.25,558.81 L170.56,558.55 L170.83,558.30 L171.10,558.05 L171.38,557.80 L171.64,557.55 L171.89,557.30 L172.21,557.05 L172.73,556.80 L173.25,556.61 L173.75,556.43 L174.25,556.33 L174.75,556.40 L175.25,556.65 L175.57,556.80 L176.00,556.88 L176.37,556.80 L176.75,556.56 L177.06,556.30 L177.50,556.10 L178.00,556.12 L178.50,556.27 L179.00,556.45 L179.50,556.59 L180.00,556.64 L180.50,556.60 L181.00,556.49 L181.50,556.34 L182.00,556.16 L182.50,555.96 L182.96,555.80 L183.50,555.71 L184.00,555.63 L184.50,555.37 L184.88,555.05 L185.15,554.80 L185.41,554.55 L185.71,554.30 L186.25,554.07 L186.75,554.05 L187.25,553.98 L187.66,553.80 L188.00,553.60 L188.43,553.30 L188.75,553.05 L189.15,552.80 L189.50,552.70 L190.00,552.76 L190.50,552.85 L191.00,552.82 L191.50,552.65 L192.00,552.46 L192.50,552.40 L193.00,552.41 L193.50,552.36 L194.00,552.19 L194.45,552.05 L195.00,551.88 L195.50,551.67 L195.86,551.55 L196.25,551.46 L196.75,551.32 L197.22,551.05 L197.50,550.80 L197.63,551.30 L197.52,551.80 L197.25,552.09 L196.75,552.42 L196.25,552.71 L195.78,553.05 L195.51,553.30 L195.22,553.55 L194.89,553.80 L194.50,554.04 L194.04,554.30 L193.51,554.55 L193.00,554.80 L192.64,555.05 L192.36,555.30 L192.11,555.55 L191.75,555.97 L191.55,556.30 L191.42,556.80 L191.34,557.30 L191.08,557.80 L190.81,558.05 L190.50,558.27 L190.20,558.55 L189.88,559.05 L189.65,559.55 L189.32,560.05 L189.03,560.30 L188.65,560.55 L188.31,560.80 L188.01,561.05 L187.75,561.29 L187.50,561.55 L187.25,561.92 L187.10,562.30 L187.00,562.65 L186.86,563.05 L186.53,563.55 L186.25,563.90 L186.02,564.30 L185.95,564.80 L186.09,565.30 L186.22,565.80 L186.25,566.18 L186.26,566.55 L186.26,567.05 L186.22,567.55 L186.04,568.05 L185.76,568.55 L185.50,569.05 L185.30,569.55 L185.08,570.05 L184.84,570.55 L184.64,571.05 L184.50,571.53 L184.25,572.04 L183.98,572.30 L183.65,572.55 L183.25,572.79 L182.80,573.05 L182.50,573.30 L182.25,573.64 L182.01,574.05 L181.75,574.44 L181.50,574.72 L181.12,575.05 L180.75,575.20 L180.25,575.17 L179.75,575.10 L179.27,575.20Z" stroke-width="0.62"/><path d="M177.00,575.20 L176.50,575.20 L176.00,575.20 L175.50,575.20 L175.00,575.20 L174.50,575.20 L174.00,575.20 L173.50,575.15 L173.00,574.96 L172.50,574.71 L172.10,574.55 L171.75,574.42 L171.25,574.05 L171.00,573.76 L170.75,573.43 L170.50,573.12 L170.25,572.82 L170.00,572.43 L169.85,572.05 L169.75,571.70 L169.59,571.30 L169.25,570.92 L168.75,570.57 L168.50,570.30 L168.50,569.80 L168.50,569.30 L168.50,568.80 L168.50,568.30 L168.50,567.80 L168.50,567.30 L168.50,566.80 L168.50,566.30 L168.50,565.80 L168.50,565.30 L168.50,564.80 L168.50,564.30 L168.50,563.80 L168.50,563.30 L168.50,562.80 L168.50,562.30 L168.50,561.80 L168.50,561.30 L168.50,560.80 L169.00,560.60 L169.50,560.62 L170.00,560.69 L170.50,560.70 L170.86,560.55 L171.12,560.30 L171.50,559.89 L172.00,559.58 L172.50,559.36 L173.00,559.06 L173.31,558.80 L173.59,558.55 L173.87,558.30 L174.24,558.05 L174.75,557.96 L175.25,558.05 L175.75,558.17 L176.25,558.21 L176.75,558.24 L177.25,558.24 L177.75,558.18 L178.25,558.09 L178.75,558.00 L179.25,557.90 L179.75,557.83 L180.25,557.80 L180.75,557.84 L181.25,557.99 L181.75,558.25 L182.25,558.49 L182.75,558.70 L183.20,559.05 L183.45,559.55 L183.57,560.05 L183.68,560.55 L183.84,561.05 L184.00,561.42 L184.18,561.80 L184.36,562.30 L184.45,562.80 L184.46,563.30 L184.41,563.80 L184.35,564.30 L184.28,564.80 L184.23,565.30 L184.23,565.80 L184.31,566.30 L184.32,566.80 L184.06,567.30 L183.75,567.75 L183.54,568.30 L183.53,568.80 L183.63,569.30 L183.70,569.80 L183.52,570.30 L183.25,570.59 L182.75,571.03 L182.43,571.30 L182.14,571.55 L181.89,571.80 L181.54,572.30 L181.32,572.80 L181.00,573.28 L180.62,573.55 L180.25,573.71 L179.75,573.90 L179.25,574.17 L178.77,574.55 L178.50,574.79 L178.11,575.05 L177.75,575.18 L177.25,575.20Z" stroke-width="0.62"/><path d="M175.75,573.33 L175.25,573.44 L174.91,573.30 L174.56,573.05 L174.29,572.80 L174.00,572.49 L173.75,572.23 L173.25,571.92 L172.75,571.74 L172.37,571.55 L172.00,571.31 L171.70,571.05 L171.29,570.55 L171.00,570.14 L170.80,569.80 L170.59,569.30 L170.34,568.80 L170.06,568.55 L169.75,568.36 L169.41,568.05 L169.25,567.56 L169.32,567.05 L169.75,566.55 L170.00,566.30 L170.25,565.89 L170.36,565.55 L170.40,565.05 L170.43,564.55 L170.50,564.19 L170.64,563.80 L171.00,563.40 L171.50,563.12 L171.99,562.80 L172.25,562.55 L172.51,562.30 L173.00,562.06 L173.50,561.99 L174.00,561.90 L174.50,561.74 L175.00,561.61 L175.50,561.48 L176.00,561.34 L176.50,561.30 L177.00,561.37 L177.50,561.41 L178.00,561.36 L178.50,561.23 L179.00,561.17 L179.50,561.40 L180.00,561.76 L180.32,562.05 L180.68,562.55 L180.88,563.05 L180.98,563.55 L181.10,564.05 L181.21,564.55 L181.20,565.05 L181.13,565.55 L181.01,566.05 L180.98,566.55 L181.06,567.05 L181.11,567.55 L181.03,568.05 L180.87,568.55 L180.75,568.95 L180.65,569.30 L180.50,569.69 L180.29,570.05 L180.00,570.37 L179.50,570.78 L179.25,571.03 L179.02,571.30 L178.75,571.59 L178.28,572.05 L178.00,572.41 L177.75,572.74 L177.25,573.04 L176.75,573.07 L176.25,573.12 L175.81,573.30Z" stroke-width="0.8"/><path d="M176.00,572.60 L175.50,572.75 L175.00,572.76 L174.60,572.55 L174.32,572.30 L174.07,572.05 L173.77,571.80 L173.28,571.55 L172.75,571.36 L172.25,571.09 L171.89,570.80 L171.50,570.38 L171.25,570.05 L171.00,569.58 L170.83,569.05 L170.65,568.55 L170.25,568.09 L170.00,567.82 L169.96,567.30 L170.25,566.84 L170.50,566.46 L170.71,566.05 L170.89,565.55 L170.97,565.05 L171.00,564.61 L171.12,564.05 L171.50,563.59 L171.91,563.30 L172.24,563.05 L172.53,562.80 L172.93,562.55 L173.50,562.41 L174.00,562.31 L174.50,562.13 L175.00,561.98 L175.50,561.85 L176.00,561.75 L176.50,561.74 L176.87,561.80 L177.25,561.87 L177.75,561.96 L178.23,562.05 L178.75,562.10 L179.25,562.13 L179.75,562.26 L180.14,562.55 L180.36,563.05 L180.34,563.55 L180.27,564.05 L180.32,564.55 L180.46,565.05 L180.57,565.55 L180.57,566.05 L180.56,566.55 L180.63,567.05 L180.71,567.55 L180.62,568.05 L180.50,568.38 L180.34,568.80 L180.17,569.30 L180.00,569.64 L179.75,569.98 L179.39,570.30 L179.13,570.55 L178.75,570.97 L178.50,571.23 L178.07,571.55 L177.76,571.80 L177.50,572.04 L177.16,572.30 L176.75,572.44 L176.25,572.53Z" stroke-width="0.8"/><path d="M176.00,572.08 L175.50,572.23 L175.00,572.25 L174.57,572.05 L174.25,571.80 L173.92,571.55 L173.50,571.33 L173.00,571.17 L172.50,570.94 L172.00,570.55 L171.75,570.29 L171.50,569.98 L171.25,569.55 L171.11,569.05 L171.01,568.55 L170.83,568.05 L170.63,567.55 L170.69,567.05 L170.88,566.55 L171.11,566.05 L171.31,565.55 L171.44,565.05 L171.50,564.69 L171.59,564.30 L171.90,563.80 L172.17,563.55 L172.47,563.30 L172.75,563.09 L173.25,562.88 L173.64,562.80 L174.00,562.71 L174.43,562.55 L175.00,562.31 L175.50,562.15 L176.00,562.05 L176.41,562.05 L177.00,562.15 L177.47,562.30 L178.00,562.48 L178.50,562.60 L179.00,562.64 L179.50,562.75 L179.80,563.05 L179.84,563.55 L179.85,564.05 L179.92,564.55 L180.08,565.05 L180.21,565.55 L180.24,566.05 L180.21,566.55 L180.21,567.05 L180.21,567.55 L180.08,568.05 L179.95,568.55 L179.84,569.05 L179.62,569.55 L179.25,569.98 L178.92,570.30 L178.68,570.55 L178.41,570.80 L178.06,571.05 L177.75,571.22 L177.25,571.49 L176.75,571.78 L176.25,571.99Z" stroke-width="0.8"/><path d="M175.25,571.81 L174.75,571.74 L174.42,571.55 L174.04,571.30 L173.50,571.06 L173.00,570.90 L172.50,570.64 L172.10,570.30 L171.75,569.91 L171.52,569.55 L171.37,569.05 L171.31,568.55 L171.25,568.10 L171.13,567.55 L171.12,567.05 L171.24,566.55 L171.45,566.05 L171.64,565.55 L171.81,565.05 L172.00,564.56 L172.25,564.09 L172.48,563.80 L172.74,563.55 L173.18,563.30 L173.75,563.14 L174.25,562.98 L174.65,562.80 L175.00,562.62 L175.50,562.42 L176.00,562.31 L176.50,562.33 L177.00,562.46 L177.50,562.67 L178.00,562.90 L178.46,563.05 L179.00,563.23 L179.29,563.55 L179.45,564.05 L179.59,564.55 L179.75,565.02 L179.90,565.55 L179.94,566.05 L179.87,566.55 L179.75,566.97 L179.50,567.27 L179.14,567.55 L179.17,568.05 L179.44,568.55 L179.46,569.05 L179.25,569.54 L179.00,569.85 L178.75,570.11 L178.26,570.55 L177.85,570.80 L177.50,570.96 L177.00,571.18 L176.50,571.40 L176.13,571.55 L175.75,571.69 L175.31,571.80Z" stroke-width="0.8"/><path d="M175.50,571.33 L175.00,571.39 L174.65,571.30 L174.25,571.09 L173.75,570.84 L173.25,570.69 L172.87,570.55 L172.50,570.31 L172.22,570.05 L171.82,569.55 L171.65,569.05 L171.61,568.55 L171.57,568.05 L171.50,567.59 L171.46,567.05 L171.54,566.55 L171.72,566.05 L171.91,565.55 L172.13,565.05 L172.42,564.55 L172.75,564.10 L173.00,563.84 L173.49,563.55 L174.00,563.37 L174.50,563.17 L175.00,562.92 L175.50,562.69 L176.00,562.57 L176.50,562.59 L177.00,562.76 L177.49,563.05 L177.91,563.30 L178.25,563.49 L178.71,563.80 L179.00,564.18 L179.18,564.55 L179.39,565.05 L179.56,565.55 L179.59,566.05 L179.50,566.43 L179.25,566.73 L178.78,567.05 L178.54,567.55 L178.64,568.05 L178.96,568.55 L179.11,569.05 L179.00,569.41 L178.75,569.78 L178.50,570.04 L178.20,570.30 L177.80,570.55 L177.25,570.78 L176.75,570.96 L176.25,571.12 L175.75,571.26Z" stroke-width="0.8"/><path d="M176.25,570.82 L175.75,570.90 L175.25,570.98 L174.75,570.95 L174.42,570.80 L174.00,570.57 L173.50,570.41 L173.11,570.30 L172.75,570.10 L172.41,569.80 L172.04,569.30 L171.93,568.80 L171.92,568.30 L171.86,567.80 L171.76,567.30 L171.76,566.80 L171.87,566.30 L172.00,565.94 L172.15,565.55 L172.41,565.05 L172.75,564.60 L173.00,564.31 L173.25,564.07 L173.64,563.80 L174.00,563.64 L174.50,563.43 L175.00,563.19 L175.50,562.96 L176.00,562.83 L176.50,562.87 L176.91,563.05 L177.25,563.30 L177.55,563.55 L177.83,563.80 L178.25,564.28 L178.50,564.66 L178.69,565.05 L178.74,565.55 L178.53,566.05 L178.38,566.55 L178.27,567.05 L178.23,567.55 L178.33,568.05 L178.50,568.39 L178.73,568.80 L178.76,569.30 L178.50,569.73 L178.25,569.99 L177.83,570.30 L177.50,570.46 L177.00,570.64 L176.50,570.77Z" stroke-width="0.8"/><path d="M176.25,570.58 L175.75,570.62 L175.25,570.63 L174.82,570.55 L174.50,570.39 L174.00,570.10 L173.50,569.93 L173.12,569.80 L172.75,569.57 L172.50,569.32 L172.29,568.80 L172.25,568.31 L172.18,567.80 L172.05,567.30 L172.01,566.80 L172.10,566.30 L172.25,565.83 L172.50,565.31 L172.75,564.97 L173.00,564.70 L173.25,564.44 L173.74,564.05 L174.21,563.80 L174.75,563.56 L175.25,563.34 L175.75,563.17 L176.25,563.13 L176.69,563.30 L177.00,563.55 L177.25,563.84 L177.50,564.16 L177.75,564.54 L177.96,565.05 L177.96,565.55 L177.87,566.05 L177.87,566.55 L177.94,567.05 L177.98,567.55 L178.09,568.05 L178.25,568.43 L178.44,568.80 L178.48,569.30 L178.25,569.69 L178.00,569.94 L177.50,570.26 L177.00,570.44 L176.50,570.54Z" stroke-width="0.8"/><path d="M176.75,570.30 L176.25,570.36 L175.75,570.36 L175.25,570.31 L174.75,570.11 L174.30,569.80 L173.81,569.55 L173.25,569.32 L172.88,569.05 L172.63,568.55 L172.55,568.05 L172.42,567.55 L172.28,567.05 L172.27,566.55 L172.38,566.05 L172.59,565.55 L172.98,565.05 L173.24,564.80 L173.50,564.56 L173.83,564.30 L174.24,564.05 L174.75,563.81 L175.25,563.62 L175.75,563.49 L176.25,563.52 L176.67,563.80 L177.00,564.23 L177.21,564.55 L177.45,565.05 L177.51,565.55 L177.46,566.05 L177.50,566.49 L177.65,567.05 L177.74,567.55 L177.86,568.05 L178.00,568.42 L178.17,568.80 L178.21,569.30 L178.00,569.65 L177.50,570.05 L177.00,570.25Z" stroke-width="0.8"/><path d="M176.75,570.10 L176.25,570.14 L175.75,570.11 L175.25,569.98 L174.92,569.80 L174.57,569.55 L174.25,569.36 L173.75,569.13 L173.25,568.84 L173.02,568.55 L172.88,568.05 L172.75,567.58 L172.55,567.05 L172.49,566.55 L172.59,566.05 L172.75,565.69 L173.00,565.35 L173.32,565.05 L173.62,564.80 L173.94,564.55 L174.25,564.34 L174.75,564.09 L175.25,563.93 L175.75,563.88 L176.19,564.05 L176.50,564.43 L176.72,564.80 L176.96,565.30 L177.06,565.80 L177.12,566.30 L177.25,566.75 L177.43,567.30 L177.56,567.80 L177.71,568.30 L177.90,568.80 L177.92,569.30 L177.51,569.80 L177.00,570.05Z" stroke-width="0.8"/></g>
<rect x="266.5" y="490.8" width="88.5" height="84.4" fill="none" stroke="#555" stroke-width="0.7" />
<line x1="292" y1="490.8" x2="292" y2="575.2" stroke="#555" stroke-width="0.7" />
<line x1="266.5" y1="549.2" x2="355" y2="549.2" stroke="#555" stroke-width="0.7" />
<line x1="265" y1="575.2" x2="266.5" y2="575.2" stroke="#777" stroke-width="0.5" />
<line x1="266.5" y1="575.2" x2="266.5" y2="576.7" stroke="#777" stroke-width="0.5" />
<text x="267.1" y="582.6" font-size="5" fill="#333" text-anchor="middle" >10<tspan font-size="3.4" dy="-1.9">0</tspan></text>
<line x1="265" y1="554.1" x2="266.5" y2="554.1" stroke="#777" stroke-width="0.5" />
<line x1="288.62" y1="575.2" x2="288.62" y2="576.7" stroke="#777" stroke-width="0.5" />
<text x="289.23" y="582.6" font-size="5" fill="#333" text-anchor="middle" >10<tspan font-size="3.4" dy="-1.9">1</tspan></text>
<line x1="265" y1="533" x2="266.5" y2="533" stroke="#777" stroke-width="0.5" />
<line x1="310.75" y1="575.2" x2="310.75" y2="576.7" stroke="#777" stroke-width="0.5" />
<text x="311.35" y="582.6" font-size="5" fill="#333" text-anchor="middle" >10<tspan font-size="3.4" dy="-1.9">2</tspan></text>
<line x1="265" y1="511.9" x2="266.5" y2="511.9" stroke="#777" stroke-width="0.5" />
<line x1="332.88" y1="575.2" x2="332.88" y2="576.7" stroke="#777" stroke-width="0.5" />
<text x="333.48" y="582.6" font-size="5" fill="#333" text-anchor="middle" >10<tspan font-size="3.4" dy="-1.9">3</tspan></text>
<line x1="265" y1="490.8" x2="266.5" y2="490.8" stroke="#777" stroke-width="0.5" />
<line x1="355" y1="575.2" x2="355" y2="576.7" stroke="#777" stroke-width="0.5" />
<text x="355.6" y="582.6" font-size="5" fill="#333" text-anchor="middle" >10<tspan font-size="3.4" dy="-1.9">4</tspan></text>
<text x="317.7" y="505" font-size="10" fill="#111" stroke="#111" stroke-width="0.18" >48hrs</text>
<g fill="none" stroke="#111" stroke-linejoin="round"><path d="M283.00,575.20 L282.50,575.20 L282.00,575.20 L281.50,575.20 L281.00,575.20 L280.50,575.20 L280.00,575.20 L279.50,575.20 L279.00,575.20 L278.50,575.20 L278.00,575.20 L277.50,575.20 L277.00,575.20 L276.50,575.20 L276.00,575.20 L275.50,575.20 L275.00,575.20 L274.50,575.20 L274.00,575.20 L273.50,575.20 L273.00,575.20 L272.50,575.20 L272.00,575.20 L271.50,575.20 L271.00,575.20 L270.50,575.20 L270.00,575.20 L269.50,575.20 L269.00,575.20 L268.50,575.20 L268.00,575.20 L267.50,575.20 L267.00,575.20 L266.50,575.20 L266.50,574.80 L266.50,574.30 L266.50,573.80 L266.50,573.30 L266.50,572.80 L266.50,572.30 L266.50,571.80 L266.50,571.30 L266.50,570.80 L266.50,570.30 L266.50,569.80 L266.50,569.30 L266.50,568.80 L266.50,568.30 L266.50,567.80 L266.50,567.30 L266.50,566.80 L266.50,566.30 L266.50,565.80 L266.50,565.30 L266.50,564.80 L266.50,564.30 L266.50,563.80 L266.50,563.30 L266.50,562.80 L266.50,562.30 L266.50,561.80 L266.50,561.30 L266.50,560.80 L266.50,560.30 L266.50,559.80 L266.50,559.30 L266.50,558.80 L266.50,558.30 L266.50,557.80 L266.50,557.30 L266.50,556.80 L266.50,556.30 L266.50,555.80 L266.50,555.30 L266.50,554.80 L266.50,554.30 L266.68,553.80 L267.00,553.45 L267.50,553.22 L268.00,553.11 L268.50,552.92 L268.90,552.55 L269.25,552.15 L269.75,551.85 L270.24,551.55 L270.50,551.14 L270.68,550.80 L271.00,550.38 L271.50,550.08 L272.00,549.98 L272.50,549.84 L272.99,549.55 L273.25,549.31 L273.54,549.05 L273.97,548.80 L274.50,548.62 L275.00,548.49 L275.50,548.34 L276.00,548.26 L276.50,548.40 L276.82,548.55 L277.25,548.67 L277.75,548.72 L278.24,548.80 L278.75,548.95 L279.25,549.12 L279.69,549.30 L280.19,549.55 L280.75,549.70 L281.25,549.69 L281.75,549.71 L282.25,549.72 L282.75,549.64 L283.25,549.48 L283.74,549.30 L284.22,549.05 L284.60,548.80 L285.00,548.56 L285.50,548.42 L286.00,548.42 L286.50,548.43 L287.00,548.34 L287.44,548.05 L287.75,547.82 L288.25,547.64 L288.75,547.55 L289.25,547.45 L289.75,547.34 L290.25,547.19 L290.60,547.05 L291.00,546.86 L291.50,546.70 L292.00,546.67 L292.50,546.69 L293.00,546.59 L293.50,546.38 L294.00,546.26 L294.50,546.25 L295.00,546.27 L295.50,546.06 L296.00,545.80 L296.50,546.00 L297.00,546.13 L297.37,546.05 L297.75,545.84 L298.09,545.55 L298.34,545.30 L298.59,545.05 L299.00,544.95 L299.42,545.30 L299.67,545.80 L299.68,546.30 L299.54,546.80 L299.38,547.30 L299.25,547.77 L299.16,548.30 L299.17,548.80 L299.15,549.30 L299.00,549.71 L298.79,550.05 L298.50,550.38 L298.25,550.67 L298.00,551.02 L297.75,551.40 L297.50,551.69 L297.00,551.99 L296.50,552.11 L296.00,552.18 L295.51,552.30 L295.10,552.55 L294.81,552.80 L294.56,553.05 L294.25,553.42 L294.00,553.78 L293.75,554.11 L293.26,554.55 L293.01,554.80 L292.75,555.30 L292.70,555.80 L292.96,556.30 L293.25,556.55 L293.50,556.80 L293.68,557.30 L293.58,557.80 L293.35,558.30 L293.17,558.80 L293.20,559.30 L293.26,559.80 L293.16,560.30 L293.00,560.67 L292.75,561.04 L292.50,561.35 L292.26,561.80 L292.15,562.30 L292.03,562.80 L291.77,563.30 L291.50,563.66 L291.25,564.02 L291.03,564.55 L290.99,565.05 L291.12,565.55 L291.25,565.90 L291.31,566.30 L291.09,566.80 L290.75,567.25 L290.50,567.69 L290.30,568.05 L290.00,568.45 L289.75,568.80 L289.51,569.30 L289.34,569.80 L289.11,570.30 L288.84,570.80 L288.55,571.30 L288.25,571.71 L287.88,572.05 L287.51,572.55 L287.33,573.05 L287.13,573.55 L286.79,574.05 L286.50,574.39 L286.01,574.80 L285.50,574.90 L285.00,574.74 L284.50,574.61 L284.00,574.58 L283.50,574.79 L283.25,575.07Z" stroke-width="0.62"/><path d="M279.50,575.20 L279.00,575.20 L278.50,575.20 L278.00,575.20 L277.50,575.20 L277.00,575.20 L276.50,575.20 L276.00,575.20 L275.50,575.20 L275.00,575.20 L274.50,575.20 L274.00,575.20 L273.50,575.20 L273.00,575.20 L272.50,575.20 L272.00,575.20 L271.50,575.20 L271.00,575.20 L270.50,575.20 L270.00,575.20 L269.50,575.20 L269.00,575.20 L268.50,575.20 L268.05,575.05 L267.65,574.80 L267.30,574.55 L267.00,574.30 L266.75,573.95 L266.62,573.55 L266.50,573.21 L266.50,572.80 L266.50,572.30 L266.50,571.80 L266.50,571.30 L266.50,570.80 L266.50,570.30 L266.50,569.80 L266.50,569.30 L266.50,568.80 L266.50,568.30 L266.50,567.80 L266.50,567.30 L266.50,566.80 L266.50,566.30 L266.50,565.80 L266.50,565.30 L266.50,564.80 L266.50,564.30 L266.50,563.80 L266.50,563.30 L266.50,562.80 L266.50,562.30 L266.50,561.80 L266.50,561.30 L266.50,560.80 L266.50,560.30 L266.50,559.80 L266.50,559.30 L266.50,558.80 L266.50,558.30 L266.50,557.80 L266.50,557.30 L266.75,556.82 L267.25,556.55 L267.75,556.30 L268.12,556.05 L268.43,555.80 L268.70,555.55 L268.96,555.30 L269.24,555.05 L269.54,554.80 L269.84,554.55 L270.11,554.30 L270.50,553.90 L270.89,553.55 L271.19,553.30 L271.48,553.05 L271.75,552.81 L272.12,552.55 L272.47,552.30 L272.75,552.06 L273.02,551.80 L273.27,551.55 L273.54,551.30 L273.88,551.05 L274.25,550.87 L274.72,550.80 L275.25,550.84 L275.75,550.90 L276.25,550.94 L276.75,550.94 L277.25,550.93 L277.75,550.96 L278.25,551.04 L278.75,551.17 L279.10,551.30 L279.50,551.47 L280.00,551.72 L280.50,552.02 L281.00,552.28 L281.50,552.39 L282.00,552.37 L282.50,552.21 L282.98,552.05 L283.50,551.91 L284.00,551.69 L284.50,551.37 L285.00,551.19 L285.50,551.15 L286.00,551.16 L286.44,551.05 L286.92,550.80 L287.25,550.64 L287.75,550.43 L288.25,550.17 L288.75,549.82 L289.25,549.59 L289.75,549.49 L290.25,549.48 L290.75,549.55 L291.25,549.56 L291.75,549.39 L292.25,549.20 L292.75,549.15 L293.25,549.07 L293.75,548.87 L294.25,548.66 L294.75,548.58 L295.25,548.59 L295.75,548.62 L296.21,548.80 L296.22,549.30 L296.07,549.80 L295.75,550.27 L295.25,550.19 L294.85,550.05 L294.50,550.01 L294.00,550.18 L293.50,550.42 L293.16,550.55 L292.75,550.77 L292.45,551.05 L292.25,551.34 L292.12,551.80 L292.17,552.30 L291.75,552.62 L291.25,552.72 L290.75,552.95 L290.32,553.30 L290.00,553.65 L289.75,554.03 L289.50,554.50 L289.25,554.94 L289.04,555.30 L288.82,555.80 L288.65,556.30 L288.50,556.62 L288.28,557.05 L288.23,557.55 L288.39,558.05 L288.65,558.55 L288.75,558.96 L288.67,559.55 L288.70,560.05 L288.85,560.55 L289.00,560.96 L289.15,561.55 L289.16,562.05 L289.00,562.52 L288.67,562.80 L288.32,563.05 L288.00,563.42 L287.77,563.80 L287.59,564.30 L287.56,564.80 L287.63,565.30 L287.75,565.80 L287.92,566.30 L288.00,566.75 L287.94,567.30 L287.80,567.80 L287.70,568.30 L287.56,568.80 L287.38,569.30 L287.25,569.72 L287.00,570.26 L286.70,570.55 L286.37,570.80 L286.06,571.05 L285.78,571.30 L285.50,571.55 L285.17,571.80 L284.75,571.98 L284.25,571.98 L283.75,571.92 L283.25,571.93 L282.75,572.15 L282.26,572.55 L282.00,572.84 L281.75,573.16 L281.50,573.53 L281.25,573.95 L281.02,574.30 L280.76,574.55 L280.34,574.80 L280.00,574.99 L279.61,575.20Z" stroke-width="0.62"/><path d="M278.00,575.20 L277.50,575.20 L277.00,575.20 L276.50,575.20 L276.00,575.20 L275.50,575.20 L275.00,575.20 L274.50,575.20 L274.00,575.20 L273.50,575.20 L273.00,575.20 L272.50,575.20 L272.00,575.20 L271.50,575.20 L271.00,575.17 L270.54,574.80 L270.25,574.58 L269.95,574.30 L269.60,573.80 L269.25,573.32 L268.89,573.05 L268.50,572.88 L268.00,572.71 L267.50,572.42 L267.12,572.05 L266.75,571.60 L266.50,571.33 L266.50,570.80 L266.50,570.30 L266.50,569.80 L266.50,569.30 L266.50,568.80 L266.50,568.30 L266.50,567.80 L266.50,567.30 L266.50,566.80 L266.50,566.30 L266.50,565.80 L266.50,565.30 L266.50,564.80 L266.50,564.30 L266.50,563.80 L266.50,563.30 L266.50,562.80 L266.50,562.30 L266.50,561.80 L266.50,561.30 L266.50,560.80 L266.50,560.30 L266.50,559.80 L266.50,559.30 L266.61,558.80 L267.00,558.37 L267.34,558.05 L267.65,557.80 L268.00,557.58 L268.50,557.37 L269.00,557.13 L269.45,556.80 L269.75,556.56 L270.02,556.30 L270.25,556.02 L270.50,555.67 L270.75,555.35 L271.00,555.07 L271.24,554.80 L271.50,554.52 L272.00,554.16 L272.50,554.00 L273.00,553.88 L273.50,553.68 L274.00,553.37 L274.49,553.05 L274.86,552.80 L275.25,552.57 L275.75,552.51 L276.25,552.62 L276.75,552.74 L277.25,552.71 L277.75,552.56 L278.14,552.55 L278.50,552.67 L278.99,553.05 L279.32,553.30 L279.75,553.53 L280.25,553.70 L280.61,553.80 L281.00,553.90 L281.45,554.05 L282.00,554.25 L282.35,554.30 L282.75,554.29 L283.25,554.27 L283.75,554.38 L284.25,554.70 L284.68,555.05 L285.00,555.47 L285.14,556.05 L285.13,556.55 L285.06,557.05 L285.04,557.55 L285.17,558.05 L285.40,558.55 L285.61,559.05 L285.75,559.37 L285.97,559.80 L286.25,560.23 L286.44,560.55 L286.58,561.05 L286.55,561.55 L286.46,562.05 L286.42,562.55 L286.38,563.05 L286.25,563.53 L286.04,564.05 L285.89,564.55 L285.92,565.05 L286.13,565.55 L286.38,566.05 L286.39,566.55 L286.10,567.05 L285.83,567.55 L285.63,568.05 L285.50,568.42 L285.40,568.80 L285.35,569.30 L285.00,569.71 L284.50,570.02 L284.00,570.27 L283.50,570.38 L283.12,570.55 L282.75,570.78 L282.40,571.05 L282.13,571.30 L281.75,571.72 L281.50,572.00 L281.25,572.25 L281.00,572.51 L280.76,572.80 L280.50,573.17 L280.25,573.43 L279.75,573.65 L279.25,573.78 L278.83,574.05 L278.51,574.55 L278.31,575.05Z" stroke-width="0.62"/><path d="M275.25,573.42 L274.75,573.52 L274.25,573.49 L273.75,573.36 L273.25,573.05 L272.99,572.80 L272.67,572.55 L272.25,572.33 L271.75,572.11 L271.25,571.80 L270.91,571.55 L270.58,571.30 L270.26,571.05 L269.94,570.80 L269.64,570.55 L269.39,570.30 L269.00,569.85 L268.78,569.55 L268.51,569.05 L268.36,568.55 L268.41,568.05 L268.53,567.55 L268.60,567.05 L268.62,566.55 L268.56,566.05 L268.41,565.55 L268.25,565.06 L268.14,564.55 L268.10,564.05 L268.07,563.55 L268.02,563.05 L268.02,562.55 L268.11,562.05 L268.25,561.63 L268.40,561.30 L268.75,560.81 L269.00,560.55 L269.33,560.30 L269.75,560.07 L270.18,559.80 L270.50,559.55 L270.86,559.30 L271.25,559.08 L271.73,558.80 L272.09,558.55 L272.36,558.30 L272.74,557.80 L272.88,557.30 L272.99,556.80 L273.50,556.93 L273.86,557.30 L274.25,557.59 L274.50,557.19 L275.00,556.96 L275.50,557.05 L275.89,557.30 L276.19,557.55 L276.50,557.78 L277.00,558.01 L277.50,558.10 L277.96,558.05 L278.50,557.83 L279.00,557.66 L279.43,557.80 L279.75,558.05 L280.04,558.30 L280.39,558.55 L280.75,558.79 L281.10,559.05 L281.37,559.30 L281.73,559.80 L282.00,560.26 L282.25,560.55 L282.70,560.80 L283.24,561.05 L283.52,561.30 L283.74,561.80 L283.75,562.16 L283.67,562.55 L283.50,562.92 L283.26,563.30 L283.00,563.62 L282.75,563.88 L282.50,564.22 L282.39,564.80 L282.43,565.30 L282.40,565.80 L282.25,566.30 L282.00,566.76 L281.78,567.05 L281.50,567.44 L281.25,567.79 L281.00,568.11 L280.75,568.39 L280.29,568.80 L280.00,569.02 L279.66,569.30 L279.40,569.55 L279.00,570.04 L278.75,570.35 L278.50,570.61 L278.00,571.00 L277.53,571.30 L277.16,571.55 L276.82,571.80 L276.54,572.05 L276.25,572.40 L276.00,572.75 L275.76,573.05 L275.50,573.28Z" stroke-width="0.8"/><path d="M274.75,573.08 L274.34,573.05 L274.00,572.93 L273.50,572.58 L273.15,572.30 L272.75,572.06 L272.25,571.85 L271.76,571.55 L271.46,571.30 L271.19,571.05 L270.90,570.80 L270.54,570.55 L270.15,570.30 L269.82,570.05 L269.56,569.80 L269.25,569.36 L269.10,568.80 L269.12,568.30 L269.10,567.80 L269.08,567.30 L269.13,566.80 L269.20,566.30 L269.15,565.80 L269.00,565.47 L268.79,565.05 L268.65,564.55 L268.61,564.05 L268.54,563.55 L268.41,563.05 L268.36,562.55 L268.45,562.05 L268.68,561.55 L269.00,561.13 L269.38,560.80 L269.75,560.59 L270.23,560.30 L270.53,560.05 L270.83,559.80 L271.22,559.55 L271.75,559.30 L272.25,559.09 L272.75,558.90 L273.25,558.82 L273.75,558.87 L274.25,558.83 L274.75,558.62 L275.25,558.39 L275.75,558.35 L276.25,558.50 L276.75,558.67 L277.25,558.75 L277.75,558.72 L278.25,558.64 L278.75,558.58 L279.25,558.64 L279.75,558.80 L280.25,558.99 L280.72,559.30 L281.00,559.59 L281.25,559.98 L281.41,560.30 L281.65,560.80 L282.00,561.27 L282.50,561.36 L283.00,561.46 L283.32,561.80 L283.32,562.30 L283.03,562.80 L282.75,563.10 L282.29,563.55 L282.00,564.05 L281.94,564.55 L282.00,565.03 L282.07,565.55 L282.00,565.99 L281.75,566.48 L281.50,566.80 L281.25,567.14 L281.00,567.52 L280.75,567.86 L280.50,568.13 L280.00,568.53 L279.57,568.80 L279.28,569.05 L279.00,569.37 L278.75,569.68 L278.50,569.96 L278.10,570.30 L277.75,570.53 L277.33,570.80 L277.00,571.02 L276.57,571.30 L276.25,571.53 L275.97,571.80 L275.75,572.12 L275.51,572.55 L275.25,572.87 L274.90,573.05Z" stroke-width="0.8"/><path d="M275.00,572.34 L274.50,572.51 L274.00,572.34 L273.56,572.05 L273.25,571.86 L272.75,571.59 L272.25,571.30 L271.97,571.05 L271.57,570.55 L271.25,570.13 L270.75,569.82 L270.25,569.63 L269.86,569.30 L269.70,568.80 L269.67,568.30 L269.57,567.80 L269.50,567.30 L269.57,566.80 L269.72,566.30 L269.75,565.92 L269.64,565.55 L269.35,565.05 L269.22,564.55 L269.29,564.05 L269.25,563.66 L269.05,563.30 L268.77,562.80 L268.75,562.30 L268.96,561.80 L269.25,561.44 L269.75,561.05 L270.16,560.80 L270.48,560.55 L270.75,560.30 L271.05,560.05 L271.50,559.80 L272.00,559.64 L272.48,559.55 L273.00,559.51 L273.50,559.53 L274.00,559.50 L274.50,559.31 L275.00,559.09 L275.50,558.99 L275.95,559.05 L276.50,559.20 L276.94,559.30 L277.30,559.30 L277.75,559.22 L278.25,559.14 L278.75,559.14 L279.25,559.22 L279.66,559.30 L280.00,559.38 L280.36,559.55 L280.65,559.80 L280.97,560.30 L281.16,560.80 L281.24,561.30 L281.30,561.80 L281.50,562.27 L281.75,562.55 L281.78,563.05 L281.61,563.55 L281.52,564.05 L281.52,564.55 L281.61,565.05 L281.69,565.55 L281.59,566.05 L281.26,566.55 L281.00,566.90 L280.75,567.28 L280.50,567.60 L280.00,568.02 L279.50,568.30 L279.16,568.55 L278.75,569.02 L278.50,569.34 L278.25,569.60 L277.75,569.98 L277.31,570.30 L277.01,570.55 L276.70,570.80 L276.36,571.05 L276.00,571.30 L275.69,571.55 L275.45,571.80 L275.04,572.30Z" stroke-width="0.8"/><path d="M274.50,571.83 L274.12,571.80 L273.75,571.67 L273.25,571.36 L272.82,571.05 L272.53,570.80 L272.25,570.48 L272.00,570.08 L271.75,569.67 L271.50,569.35 L271.06,569.05 L270.59,568.80 L270.26,568.30 L270.05,567.80 L269.93,567.30 L270.00,566.80 L270.14,566.30 L270.15,565.80 L270.00,565.32 L269.82,564.80 L269.89,564.30 L269.97,563.80 L269.75,563.34 L269.51,563.05 L269.25,562.65 L269.25,562.19 L269.47,561.80 L269.71,561.55 L270.00,561.33 L270.38,561.05 L270.67,560.80 L270.93,560.55 L271.24,560.30 L271.75,560.08 L272.25,560.02 L272.75,560.00 L273.25,560.00 L273.75,559.98 L274.25,559.86 L274.75,559.64 L275.25,559.46 L275.75,559.46 L276.18,559.55 L276.75,559.69 L277.25,559.71 L277.75,559.63 L278.25,559.55 L278.75,559.56 L279.25,559.66 L279.72,559.80 L280.24,560.05 L280.49,560.30 L280.73,560.80 L280.77,561.30 L280.75,561.66 L280.74,562.05 L280.79,562.55 L280.91,563.05 L280.99,563.55 L281.03,564.05 L281.06,564.55 L281.16,565.05 L281.25,565.51 L281.14,566.05 L280.81,566.55 L280.50,566.99 L280.25,567.27 L279.84,567.55 L279.50,567.72 L279.07,568.05 L278.75,568.42 L278.50,568.75 L278.26,569.05 L278.01,569.30 L277.69,569.55 L277.35,569.80 L277.05,570.05 L276.79,570.30 L276.53,570.55 L276.25,570.78 L275.86,571.05 L275.50,571.28 L275.08,571.55 L274.75,571.75Z" stroke-width="0.8"/><path d="M275.00,571.12 L274.50,571.26 L274.00,571.23 L273.66,571.05 L273.39,570.80 L273.14,570.55 L272.86,570.30 L272.61,570.05 L272.25,569.56 L272.00,569.13 L271.77,568.80 L271.51,568.55 L271.13,568.30 L270.82,568.05 L270.50,567.59 L270.39,567.05 L270.46,566.55 L270.50,566.18 L270.49,565.80 L270.39,565.30 L270.32,564.80 L270.42,564.30 L270.44,563.80 L270.25,563.38 L270.02,563.05 L269.75,562.55 L269.83,562.05 L270.25,561.59 L270.59,561.30 L270.86,561.05 L271.12,560.80 L271.49,560.55 L272.00,560.46 L272.50,560.50 L273.00,560.48 L273.50,560.40 L273.97,560.30 L274.50,560.12 L275.00,559.91 L275.50,559.82 L276.00,559.88 L276.50,560.01 L277.00,560.08 L277.50,560.05 L278.00,559.97 L278.50,559.94 L279.00,560.01 L279.50,560.22 L280.00,560.55 L280.25,560.93 L280.32,561.30 L280.31,561.80 L280.33,562.30 L280.39,562.80 L280.46,563.30 L280.50,563.70 L280.51,564.05 L280.51,564.55 L280.57,565.05 L280.67,565.55 L280.60,566.05 L280.30,566.55 L280.00,566.86 L279.68,567.05 L279.25,567.28 L278.94,567.55 L278.59,568.05 L278.25,568.53 L278.02,568.80 L277.76,569.05 L277.45,569.30 L277.13,569.55 L276.85,569.80 L276.50,570.16 L276.25,570.41 L275.75,570.79 L275.25,571.03Z" stroke-width="0.8"/><path d="M275.50,570.56 L275.00,570.67 L274.50,570.67 L274.08,570.55 L273.75,570.31 L273.43,570.05 L273.10,569.80 L272.84,569.55 L272.50,569.06 L272.25,568.59 L272.03,568.30 L271.75,568.06 L271.36,567.80 L271.09,567.55 L270.87,567.05 L270.84,566.55 L270.83,566.05 L270.77,565.55 L270.72,565.05 L270.75,564.70 L270.82,564.30 L270.81,563.80 L270.59,563.30 L270.29,562.80 L270.21,562.30 L270.50,561.85 L270.83,561.55 L271.11,561.30 L271.46,561.05 L272.00,561.00 L272.50,561.11 L272.89,561.05 L273.25,560.91 L273.75,560.71 L274.24,560.55 L274.75,560.36 L275.25,560.21 L275.75,560.22 L276.14,560.30 L276.50,560.39 L277.00,560.45 L277.50,560.43 L278.00,560.40 L278.50,560.40 L279.00,560.53 L279.43,560.80 L279.75,561.21 L279.85,561.55 L279.92,562.05 L280.00,562.52 L280.08,563.05 L280.11,563.55 L280.08,564.05 L280.02,564.55 L280.02,565.05 L280.06,565.55 L280.00,565.98 L279.81,566.30 L279.52,566.55 L279.15,566.80 L278.86,567.05 L278.50,567.54 L278.25,567.96 L278.01,568.30 L277.75,568.59 L277.25,569.04 L276.93,569.30 L276.66,569.55 L276.25,569.99 L276.00,570.24 L275.53,570.55Z" stroke-width="0.8"/><path d="M275.50,570.13 L275.00,570.17 L274.55,570.05 L274.05,569.80 L273.75,569.59 L273.40,569.30 L273.00,568.81 L272.75,568.43 L272.50,568.07 L272.25,567.80 L271.93,567.55 L271.62,567.30 L271.33,566.80 L271.25,566.40 L271.20,566.05 L271.12,565.55 L271.07,565.05 L271.13,564.55 L271.18,564.05 L271.07,563.55 L270.83,563.05 L270.65,562.55 L270.88,562.05 L271.18,561.80 L271.50,561.63 L272.00,561.60 L272.50,561.65 L272.98,561.55 L273.45,561.30 L273.91,561.05 L274.25,560.92 L274.75,560.74 L275.25,560.63 L275.75,560.66 L276.25,560.76 L276.75,560.84 L277.25,560.85 L277.75,560.87 L278.25,560.99 L278.75,561.19 L279.21,561.55 L279.49,562.05 L279.66,562.55 L279.75,562.95 L279.78,563.30 L279.75,563.68 L279.68,564.05 L279.60,564.55 L279.57,565.05 L279.51,565.55 L279.25,566.05 L279.00,566.32 L278.75,566.59 L278.50,566.92 L278.26,567.30 L278.00,567.74 L277.77,568.05 L277.50,568.34 L277.00,568.80 L276.72,569.05 L276.44,569.30 L276.20,569.55 L275.75,569.99Z" stroke-width="0.8"/><path d="M275.75,569.37 L275.25,569.54 L274.75,569.40 L274.25,569.11 L273.90,568.80 L273.64,568.55 L273.35,568.30 L273.08,568.05 L272.75,567.69 L272.50,567.37 L272.25,567.05 L272.00,566.67 L271.84,566.30 L271.66,565.80 L271.50,565.30 L271.49,564.80 L271.55,564.30 L271.50,563.80 L271.35,563.30 L271.20,562.80 L271.42,562.30 L271.75,562.16 L272.25,562.13 L272.75,562.10 L273.25,561.96 L273.57,561.80 L274.00,561.56 L274.50,561.34 L275.00,561.18 L275.50,561.13 L276.00,561.18 L276.50,561.25 L277.00,561.29 L277.50,561.33 L278.00,561.49 L278.50,561.78 L278.86,562.05 L279.25,562.54 L279.41,563.05 L279.40,563.55 L279.28,564.05 L279.19,564.55 L279.14,565.05 L279.00,565.49 L278.83,565.80 L278.50,566.29 L278.25,566.70 L278.05,567.05 L277.75,567.50 L277.51,567.80 L277.25,568.07 L276.75,568.55 L276.45,568.80 L276.14,569.05 L275.83,569.30Z" stroke-width="0.8"/><path d="M276.00,568.58 L275.50,568.68 L275.00,568.56 L274.50,568.39 L274.00,568.18 L273.50,567.89 L273.13,567.55 L272.85,567.05 L272.79,566.55 L272.90,566.05 L272.93,565.55 L272.50,565.16 L272.25,564.91 L272.18,564.55 L272.09,564.05 L271.94,563.55 L271.88,563.05 L272.25,562.74 L272.75,562.70 L273.25,562.65 L273.75,562.57 L274.25,562.48 L274.75,562.14 L275.22,561.80 L275.75,561.65 L276.25,561.66 L276.75,561.73 L277.25,561.79 L277.75,561.94 L278.25,562.26 L278.58,562.55 L278.90,563.05 L278.91,563.55 L278.80,564.05 L278.75,564.55 L278.68,565.05 L278.50,565.48 L278.33,565.80 L278.07,566.30 L277.81,566.80 L277.50,567.26 L277.25,567.55 L277.00,567.81 L276.50,568.27 L276.05,568.55Z" stroke-width="0.8"/></g>
<line x1="51" y1="422.8" x2="51" y2="448.6" stroke="#000" stroke-width="1.7" />
<line x1="50.15" y1="448.6" x2="76.4" y2="448.6" stroke="#000" stroke-width="1.7" />
<polygon points="51,418.8 47.7,424.8 54.3,424.8" fill="#000"/>
<polygon points="80.4,448.6 74.4,445.3 74.4,451.9" fill="#000"/>
<text transform="translate(45.9,430) rotate(-90)" font-size="8.9" fill="#111" stroke="#111" stroke-width="0.18" text-anchor="middle" textLength="13.2" lengthAdjust="spacingAndGlyphs" >Tax</text>
<text x="63.2" y="459.8" font-size="8.9" fill="#111" stroke="#111" stroke-width="0.18" textLength="14.6" lengthAdjust="spacingAndGlyphs" >Rex</text>
<line x1="51" y1="569.6" x2="51" y2="595.6" stroke="#000" stroke-width="1.7" />
<line x1="50.15" y1="595.6" x2="76.5" y2="595.6" stroke="#000" stroke-width="1.7" />
<polygon points="51,565.6 47.7,571.6 54.3,571.6" fill="#000"/>
<polygon points="80.5,595.6 74.5,592.3 74.5,598.9" fill="#000"/>
<text transform="translate(45.5,577) rotate(-90)" font-size="8.9" fill="#111" stroke="#111" stroke-width="0.18" text-anchor="middle" textLength="13.2" lengthAdjust="spacingAndGlyphs" >Tax</text>
<text x="63.2" y="606.8" font-size="8.9" fill="#111" stroke="#111" stroke-width="0.18" textLength="14.6" lengthAdjust="spacingAndGlyphs" >Rex</text>
<rect x="386.2" y="340.5" width="109.2" height="94.1" fill="none" stroke="#999" stroke-width="0.9" />
<line x1="384.6" y1="417.2" x2="386.2" y2="417.2" stroke="#888" stroke-width="0.5" />
<text x="383.8" y="418.5" font-size="3.8" fill="#666" text-anchor="end" >0</text>
<line x1="384.6" y1="397.9" x2="386.2" y2="397.9" stroke="#888" stroke-width="0.5" />
<text x="383.8" y="399.2" font-size="3.8" fill="#666" text-anchor="end" >1</text>
<line x1="384.6" y1="378.6" x2="386.2" y2="378.6" stroke="#888" stroke-width="0.5" />
<text x="383.8" y="379.9" font-size="3.8" fill="#666" text-anchor="end" >2</text>
<line x1="384.6" y1="359.3" x2="386.2" y2="359.3" stroke="#888" stroke-width="0.5" />
<text x="383.8" y="360.6" font-size="3.8" fill="#666" text-anchor="end" >3</text>
<line x1="384.6" y1="340" x2="386.2" y2="340" stroke="#888" stroke-width="0.5" />
<text x="383.8" y="341.3" font-size="3.8" fill="#666" text-anchor="end" >4</text>
<line x1="398.3" y1="434.6" x2="398.3" y2="436.2" stroke="#888" stroke-width="0.5" />
<text x="398.3" y="440.6" font-size="3.8" fill="#666" text-anchor="middle" >0</text>
<line x1="412.13" y1="434.6" x2="412.13" y2="436.2" stroke="#888" stroke-width="0.5" />
<text x="412.13" y="440.6" font-size="3.8" fill="#666" text-anchor="middle" >8</text>
<line x1="425.96" y1="434.6" x2="425.96" y2="436.2" stroke="#888" stroke-width="0.5" />
<text x="425.96" y="440.6" font-size="3.8" fill="#666" text-anchor="middle" >16</text>
<line x1="453.63" y1="434.6" x2="453.63" y2="436.2" stroke="#888" stroke-width="0.5" />
<text x="453.63" y="440.6" font-size="3.8" fill="#666" text-anchor="middle" >32</text>
<line x1="481.29" y1="434.6" x2="481.29" y2="436.2" stroke="#888" stroke-width="0.5" />
<text x="481.29" y="440.6" font-size="3.8" fill="#666" text-anchor="middle" >48</text>
<polyline points="398.3,417.2 412.13,405.62 425.96,387.28 453.63,377.63 481.29,355.44" fill="none" stroke="#000" stroke-width="2.35" stroke-linejoin="round" />
<circle cx="398.3" cy="417.2" r="1.5" fill="#000"/>
<line x1="412.13" y1="399.25" x2="412.13" y2="411.99" stroke="#000" stroke-width="1.3" />
<line x1="410.23" y1="399.25" x2="414.03" y2="399.25" stroke="#000" stroke-width="1.2" />
<line x1="410.23" y1="411.99" x2="414.03" y2="411.99" stroke="#000" stroke-width="1.2" />
<circle cx="412.13" cy="405.62" r="1.5" fill="#000"/>
<circle cx="425.96" cy="387.28" r="1.5" fill="#000"/>
<line x1="453.63" y1="373.77" x2="453.63" y2="381.5" stroke="#000" stroke-width="1.3" />
<line x1="451.73" y1="373.77" x2="455.53" y2="373.77" stroke="#000" stroke-width="1.2" />
<line x1="451.73" y1="381.5" x2="455.53" y2="381.5" stroke="#000" stroke-width="1.2" />
<circle cx="453.63" cy="377.63" r="1.5" fill="#000"/>
<line x1="481.29" y1="352.54" x2="481.29" y2="358.33" stroke="#000" stroke-width="1.3" />
<line x1="479.39" y1="352.54" x2="483.19" y2="352.54" stroke="#000" stroke-width="1.2" />
<line x1="479.39" y1="358.33" x2="483.19" y2="358.33" stroke="#000" stroke-width="1.2" />
<circle cx="481.29" cy="355.44" r="1.5" fill="#000"/>
<text x="432.5" y="452" font-size="8.6" fill="#222" stroke="#222" stroke-width="0.18" textLength="17.4" lengthAdjust="spacingAndGlyphs" >hours</text>
<text transform="translate(379,387.4) rotate(-90)" font-size="10.8" fill="#111" stroke="#111" stroke-width="0.18" text-anchor="middle" textLength="80.2" lengthAdjust="spacingAndGlyphs" >MFI Rex/MFI Tax</text>
<rect x="386.2" y="492.4" width="109.2" height="95" fill="none" stroke="#999" stroke-width="0.9" />
<line x1="384.6" y1="576.4" x2="386.2" y2="576.4" stroke="#888" stroke-width="0.5" />
<text x="383.8" y="577.7" font-size="3.8" fill="#666" text-anchor="end" >0</text>
<line x1="384.6" y1="564.4" x2="386.2" y2="564.4" stroke="#888" stroke-width="0.5" />
<text x="383.8" y="565.7" font-size="3.8" fill="#666" text-anchor="end" >1</text>
<line x1="384.6" y1="552.4" x2="386.2" y2="552.4" stroke="#888" stroke-width="0.5" />
<text x="383.8" y="553.7" font-size="3.8" fill="#666" text-anchor="end" >2</text>
<line x1="384.6" y1="540.4" x2="386.2" y2="540.4" stroke="#888" stroke-width="0.5" />
<text x="383.8" y="541.7" font-size="3.8" fill="#666" text-anchor="end" >3</text>
<line x1="384.6" y1="528.4" x2="386.2" y2="528.4" stroke="#888" stroke-width="0.5" />
<text x="383.8" y="529.7" font-size="3.8" fill="#666" text-anchor="end" >4</text>
<line x1="384.6" y1="516.4" x2="386.2" y2="516.4" stroke="#888" stroke-width="0.5" />
<text x="383.8" y="517.7" font-size="3.8" fill="#666" text-anchor="end" >5</text>
<line x1="384.6" y1="504.4" x2="386.2" y2="504.4" stroke="#888" stroke-width="0.5" />
<text x="383.8" y="505.7" font-size="3.8" fill="#666" text-anchor="end" >6</text>
<line x1="384.6" y1="492.4" x2="386.2" y2="492.4" stroke="#888" stroke-width="0.5" />
<text x="383.8" y="493.7" font-size="3.8" fill="#666" text-anchor="end" >7</text>
<line x1="398.3" y1="587.4" x2="398.3" y2="589" stroke="#888" stroke-width="0.5" />
<text x="398.3" y="593.4" font-size="3.8" fill="#666" text-anchor="middle" >0</text>
<line x1="412.13" y1="587.4" x2="412.13" y2="589" stroke="#888" stroke-width="0.5" />
<text x="412.13" y="593.4" font-size="3.8" fill="#666" text-anchor="middle" >8</text>
<line x1="439.8" y1="587.4" x2="439.8" y2="589" stroke="#888" stroke-width="0.5" />
<text x="439.8" y="593.4" font-size="3.8" fill="#666" text-anchor="middle" >24</text>
<line x1="453.63" y1="587.4" x2="453.63" y2="589" stroke="#888" stroke-width="0.5" />
<text x="453.63" y="593.4" font-size="3.8" fill="#666" text-anchor="middle" >32</text>
<line x1="481.29" y1="587.4" x2="481.29" y2="589" stroke="#888" stroke-width="0.5" />
<text x="481.29" y="593.4" font-size="3.8" fill="#666" text-anchor="middle" >48</text>
<polyline points="398.3,576.4 412.13,576.4 439.8,570.4 453.63,544 481.29,506.8" fill="none" stroke="#000" stroke-width="2.35" stroke-linejoin="round" />
<circle cx="398.3" cy="576.4" r="1.5" fill="#000"/>
<circle cx="412.13" cy="576.4" r="1.5" fill="#000"/>
<line x1="439.8" y1="568.96" x2="439.8" y2="571.84" stroke="#000" stroke-width="1.3" />
<line x1="437.9" y1="568.96" x2="441.7" y2="568.96" stroke="#000" stroke-width="1.2" />
<line x1="437.9" y1="571.84" x2="441.7" y2="571.84" stroke="#000" stroke-width="1.2" />
<circle cx="439.8" cy="570.4" r="1.5" fill="#000"/>
<line x1="453.63" y1="535.6" x2="453.63" y2="552.4" stroke="#000" stroke-width="1.3" />
<line x1="451.73" y1="535.6" x2="455.53" y2="535.6" stroke="#000" stroke-width="1.2" />
<line x1="451.73" y1="552.4" x2="455.53" y2="552.4" stroke="#000" stroke-width="1.2" />
<circle cx="453.63" cy="544" r="1.5" fill="#000"/>
<line x1="481.29" y1="498.4" x2="481.29" y2="515.2" stroke="#000" stroke-width="1.3" />
<line x1="479.39" y1="498.4" x2="483.19" y2="498.4" stroke="#000" stroke-width="1.2" />
<line x1="479.39" y1="515.2" x2="483.19" y2="515.2" stroke="#000" stroke-width="1.2" />
<circle cx="481.29" cy="506.8" r="1.5" fill="#000"/>
<text x="432.5" y="602.4" font-size="8.6" fill="#222" stroke="#222" stroke-width="0.18" textLength="17.4" lengthAdjust="spacingAndGlyphs" >hours</text>
<text transform="translate(379,537.1) rotate(-90)" font-size="10.8" fill="#111" stroke="#111" stroke-width="0.18" text-anchor="middle" textLength="80.2" lengthAdjust="spacingAndGlyphs" >MFI Rex/MFI Tax</text>
<text x="7.9" y="640.5" font-size="14.5" fill="#000" font-weight="bold" >E</text>
<text x="103.3" y="629.9" font-size="9.4" fill="#111" stroke="#111" stroke-width="0.18" textLength="9.6" lengthAdjust="spacingAndGlyphs" >3h</text>
<text x="136.8" y="629.9" font-size="9.4" fill="#111" stroke="#111" stroke-width="0.18" textLength="9.6" lengthAdjust="spacingAndGlyphs" >8h</text>
<text x="170.4" y="629.9" font-size="9.4" fill="#111" stroke="#111" stroke-width="0.18" textLength="14.8" lengthAdjust="spacingAndGlyphs" >24h</text>
<text x="203.2" y="629.9" font-size="9.4" fill="#111" stroke="#111" stroke-width="0.18" textLength="14.8" lengthAdjust="spacingAndGlyphs" >32h</text>
<text x="57.9" y="647.3" font-size="9.8" fill="#111" stroke="#111" stroke-width="0.18" textLength="30" lengthAdjust="spacingAndGlyphs" >Tubulin</text>
<text x="70.5" y="668.1" font-size="9.8" fill="#111" stroke="#111" stroke-width="0.18" textLength="14.2" lengthAdjust="spacingAndGlyphs" >Tax</text>
<text x="70.4" y="697" font-size="9.8" fill="#111" stroke="#111" stroke-width="0.18" textLength="16.2" lengthAdjust="spacingAndGlyphs" >Rex</text>
<rect x="93.5" y="635.8" width="135.7" height="41.3" fill="#d9d9d9" />
<rect x="93.5" y="681.4" width="135.7" height="18.3" fill="#b8b8b8" />
<g filter="url(#bl3)">
<rect x="96" y="652" width="130" height="8" fill="#e2e2e2" />
<rect x="96" y="670" width="130" height="5" fill="#e0e0e0" />
<rect x="94" y="682" width="30" height="16" fill="#a8a8a8" />
<rect x="160" y="683" width="60" height="14" fill="#bcbcbc" />
</g>
<g filter="url(#bl2)">
<line x1="98.9" y1="645.2" x2="123.5" y2="647.2" stroke="#080808" stroke-width="7.4" stroke-linecap="round"/>
<line x1="134.3" y1="647.4" x2="157.1" y2="648.2" stroke="#0c0c0c" stroke-width="6.2" stroke-linecap="round"/>
<line x1="169.1" y1="648.2" x2="190.9" y2="648.8" stroke="#101010" stroke-width="5.4" stroke-linecap="round"/>
<line x1="203.3" y1="650.2" x2="223.1" y2="650.9" stroke="#141414" stroke-width="5" stroke-linecap="round"/>
<line x1="97.5" y1="665.8" x2="122.3" y2="666.8" stroke="#181818" stroke-width="3" stroke-linecap="round"/>
<line x1="133.8" y1="667.6" x2="156" y2="668.2" stroke="#8c8c8c" stroke-width="2.8" stroke-linecap="round"/>
<line x1="169.2" y1="669" x2="188.8" y2="669.2" stroke="#c4c4c4" stroke-width="2.4" stroke-linecap="round"/>
<line x1="97.6" y1="688.2" x2="117.8" y2="688.8" stroke="#1c1c1c" stroke-width="6.8" stroke-linecap="round"/>
<line x1="134.5" y1="689.2" x2="157.1" y2="689.6" stroke="#4c4c4c" stroke-width="5.8" stroke-linecap="round"/>
<line x1="168.2" y1="690" x2="190.8" y2="690.2" stroke="#7c7c7c" stroke-width="4.4" stroke-linecap="round"/>
<line x1="203" y1="690" x2="223" y2="690.2" stroke="#a0a0a0" stroke-width="4" stroke-linecap="round"/>
</g>
<rect x="293" y="616.3" width="127" height="91.4" fill="none" stroke="#999" stroke-width="0.9" />
<line x1="291.2" y1="707.5" x2="293" y2="707.5" stroke="#777" stroke-width="0.5" />
<text x="290.2" y="709.1" font-size="4.5" fill="#555" text-anchor="end" >0.0</text>
<line x1="291.2" y1="692.28" x2="293" y2="692.28" stroke="#777" stroke-width="0.5" />
<text x="290.2" y="693.88" font-size="4.5" fill="#555" text-anchor="end" >0.2</text>
<line x1="291.2" y1="677.06" x2="293" y2="677.06" stroke="#777" stroke-width="0.5" />
<text x="290.2" y="678.66" font-size="4.5" fill="#555" text-anchor="end" >0.4</text>
<line x1="291.2" y1="661.84" x2="293" y2="661.84" stroke="#777" stroke-width="0.5" />
<text x="290.2" y="663.44" font-size="4.5" fill="#555" text-anchor="end" >0.6</text>
<line x1="291.2" y1="646.62" x2="293" y2="646.62" stroke="#777" stroke-width="0.5" />
<text x="290.2" y="648.22" font-size="4.5" fill="#555" text-anchor="end" >0.8</text>
<line x1="291.2" y1="631.4" x2="293" y2="631.4" stroke="#777" stroke-width="0.5" />
<text x="290.2" y="633" font-size="4.5" fill="#555" text-anchor="end" >1.0</text>
<line x1="291.2" y1="616.18" x2="293" y2="616.18" stroke="#777" stroke-width="0.5" />
<text x="290.2" y="617.78" font-size="4.5" fill="#555" text-anchor="end" >1.2</text>
<line x1="293.3" y1="707.7" x2="293.3" y2="709.5" stroke="#777" stroke-width="0.5" />
<text x="293.3" y="714.2" font-size="4.5" fill="#555" text-anchor="middle" >0</text>
<line x1="303.83" y1="707.7" x2="303.83" y2="709.5" stroke="#777" stroke-width="0.5" />
<text x="303.83" y="714.2" font-size="4.5" fill="#555" text-anchor="middle" >3</text>
<line x1="321.38" y1="707.7" x2="321.38" y2="709.5" stroke="#777" stroke-width="0.5" />
<text x="321.38" y="714.2" font-size="4.5" fill="#555" text-anchor="middle" >8</text>
<line x1="377.54" y1="707.7" x2="377.54" y2="709.5" stroke="#777" stroke-width="0.5" />
<text x="377.54" y="714.2" font-size="4.5" fill="#555" text-anchor="middle" >24</text>
<line x1="405.62" y1="707.7" x2="405.62" y2="709.5" stroke="#777" stroke-width="0.5" />
<text x="405.62" y="714.2" font-size="4.5" fill="#555" text-anchor="middle" >32</text>
<polyline points="303.83,631.4 321.38,633.68 377.54,667.93 405.62,686.19" fill="none" stroke="#1c1cb4" stroke-width="1.8" stroke-linejoin="round" />
<circle cx="303.83" cy="631.4" r="1.3" fill="#000"/>
<circle cx="321.38" cy="633.68" r="1.3" fill="#000"/>
<circle cx="377.54" cy="667.93" r="1.3" fill="#000"/>
<circle cx="405.62" cy="686.19" r="1.3" fill="#000"/>
<polyline points="303.83,631.4 321.38,674.78 377.54,701.41" fill="none" stroke="#d4202c" stroke-width="1.8" stroke-linejoin="round" />
<circle cx="303.83" cy="631.4" r="1.3" fill="#000"/>
<circle cx="321.38" cy="674.78" r="1.3" fill="#000"/>
<circle cx="377.54" cy="701.41" r="1.3" fill="#000"/>
<circle cx="303.83" cy="631.4" r="1.7" fill="#000"/>
<line x1="381.5" y1="629" x2="394.8" y2="629" stroke="#d4202c" stroke-width="1.5" />
<circle cx="388.2" cy="629" r="1.5" fill="#000"/>
<line x1="381.5" y1="636.2" x2="394.8" y2="636.2" stroke="#1c1cb4" stroke-width="1.5" />
<circle cx="388.2" cy="636.2" r="1.5" fill="#000"/>
<text x="398.3" y="631.6" font-size="7" fill="#222" textLength="8.6" lengthAdjust="spacingAndGlyphs" >Tax</text>
<text x="398.3" y="638.8" font-size="7" fill="#222" textLength="9.6" lengthAdjust="spacingAndGlyphs" >Rex</text>
<text x="361.3" y="723.9" font-size="7.6" fill="#222" stroke="#222" stroke-width="0.18" textLength="16.4" lengthAdjust="spacingAndGlyphs" >hours</text>
<text transform="translate(280.2,662.2) rotate(-90)" font-size="8.6" fill="#111" stroke="#111" stroke-width="0.18" text-anchor="middle" textLength="109" lengthAdjust="spacingAndGlyphs" >fraction of protein remaining</text>
</svg>
</body></html>
